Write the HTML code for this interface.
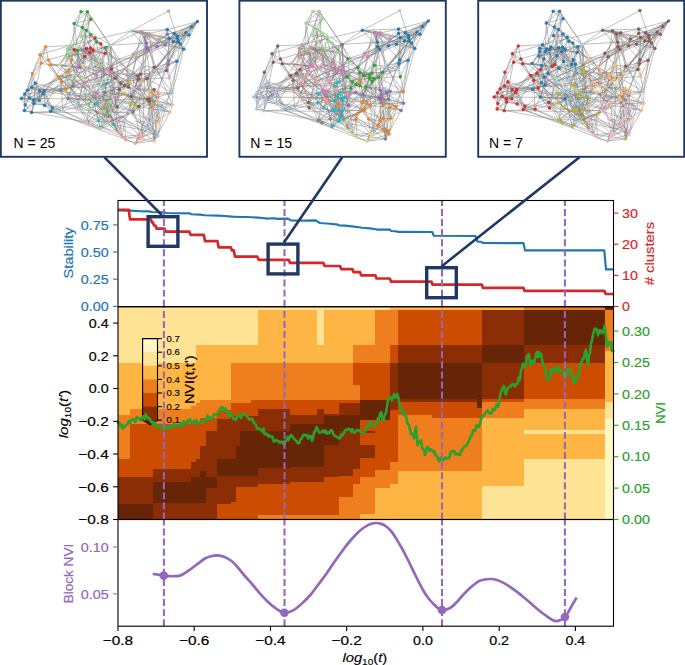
<!DOCTYPE html>
<html><head><meta charset="utf-8"><title>Figure</title>
<style>html,body{margin:0;padding:0;background:#fff;}body{width:685px;height:665px;overflow:hidden;font-family:"Liberation Sans", sans-serif;}svg{display:block}</style>
</head><body>
<svg width="685" height="665" viewBox="0 0 685 665" font-family='"Liberation Sans", sans-serif'>
<rect width="685" height="665" fill="#fff"/>
<g shape-rendering="crispEdges">
<rect x="117.7" y="306.4" width="12.6" height="57.5" fill="#fee395"/>
<rect x="117.7" y="363.3" width="12.6" height="52.6" fill="#feb543"/>
<rect x="117.7" y="415.3" width="12.6" height="44.2" fill="#ef7f1e"/>
<rect x="117.7" y="458.9" width="12.6" height="18.4" fill="#cc4c02"/>
<rect x="117.7" y="476.7" width="12.6" height="28.3" fill="#8b2e05"/>
<rect x="117.7" y="504.4" width="12.6" height="15.4" fill="#662506"/>
<rect x="129.7" y="306.4" width="23.9" height="57.5" fill="#fee395"/>
<rect x="129.7" y="363.3" width="23.9" height="46.0" fill="#feb543"/>
<rect x="129.7" y="408.7" width="23.9" height="15.6" fill="#ef7f1e"/>
<rect x="129.7" y="423.7" width="23.9" height="53.6" fill="#cc4c02"/>
<rect x="129.7" y="476.7" width="23.9" height="28.3" fill="#8b2e05"/>
<rect x="129.7" y="504.4" width="23.9" height="15.4" fill="#662506"/>
<rect x="153.0" y="306.4" width="39.0" height="57.5" fill="#fee395"/>
<rect x="153.0" y="363.3" width="39.0" height="46.0" fill="#feb543"/>
<rect x="153.0" y="408.7" width="39.0" height="15.6" fill="#ef7f1e"/>
<rect x="153.0" y="423.7" width="39.0" height="45.6" fill="#cc4c02"/>
<rect x="153.0" y="468.7" width="39.0" height="14.1" fill="#8b2e05"/>
<rect x="153.0" y="482.2" width="39.0" height="21.4" fill="#662506"/>
<rect x="153.0" y="503.0" width="39.0" height="16.8" fill="#8b2e05"/>
<rect x="191.4" y="306.4" width="4.7" height="57.5" fill="#fee395"/>
<rect x="191.4" y="363.3" width="4.7" height="43.0" fill="#feb543"/>
<rect x="191.4" y="405.7" width="4.7" height="18.6" fill="#ef7f1e"/>
<rect x="191.4" y="423.7" width="4.7" height="39.1" fill="#cc4c02"/>
<rect x="191.4" y="462.2" width="4.7" height="15.6" fill="#8b2e05"/>
<rect x="191.4" y="477.2" width="4.7" height="26.4" fill="#662506"/>
<rect x="191.4" y="503.0" width="4.7" height="16.8" fill="#8b2e05"/>
<rect x="195.5" y="306.4" width="4.8" height="39.5" fill="#fee395"/>
<rect x="195.5" y="345.3" width="4.8" height="58.0" fill="#feb543"/>
<rect x="195.5" y="402.7" width="4.8" height="20.6" fill="#ef7f1e"/>
<rect x="195.5" y="422.7" width="4.8" height="36.8" fill="#cc4c02"/>
<rect x="195.5" y="458.9" width="4.8" height="18.9" fill="#8b2e05"/>
<rect x="195.5" y="477.2" width="4.8" height="26.4" fill="#662506"/>
<rect x="195.5" y="503.0" width="4.8" height="16.8" fill="#8b2e05"/>
<rect x="199.7" y="306.4" width="6.4" height="39.5" fill="#fee395"/>
<rect x="199.7" y="345.3" width="6.4" height="55.0" fill="#feb543"/>
<rect x="199.7" y="399.7" width="6.4" height="18.6" fill="#ef7f1e"/>
<rect x="199.7" y="417.7" width="6.4" height="29.3" fill="#cc4c02"/>
<rect x="199.7" y="446.4" width="6.4" height="24.7" fill="#8b2e05"/>
<rect x="199.7" y="470.5" width="6.4" height="33.1" fill="#662506"/>
<rect x="199.7" y="503.0" width="6.4" height="16.8" fill="#8b2e05"/>
<rect x="205.5" y="306.4" width="12.3" height="39.5" fill="#fee395"/>
<rect x="205.5" y="345.3" width="12.3" height="55.0" fill="#feb543"/>
<rect x="205.5" y="399.7" width="12.3" height="18.6" fill="#ef7f1e"/>
<rect x="205.5" y="417.7" width="12.3" height="14.1" fill="#cc4c02"/>
<rect x="205.5" y="431.2" width="12.3" height="46.1" fill="#8b2e05"/>
<rect x="205.5" y="476.7" width="12.3" height="11.9" fill="#662506"/>
<rect x="205.5" y="488.0" width="12.3" height="31.8" fill="#8b2e05"/>
<rect x="217.2" y="306.4" width="14.4" height="39.5" fill="#fee395"/>
<rect x="217.2" y="345.3" width="14.4" height="55.0" fill="#feb543"/>
<rect x="217.2" y="399.7" width="14.4" height="10.6" fill="#ef7f1e"/>
<rect x="217.2" y="409.7" width="14.4" height="9.8" fill="#cc4c02"/>
<rect x="217.2" y="418.9" width="14.4" height="40.9" fill="#8b2e05"/>
<rect x="217.2" y="459.2" width="14.4" height="17.8" fill="#662506"/>
<rect x="217.2" y="476.4" width="14.4" height="28.6" fill="#8b2e05"/>
<rect x="217.2" y="504.4" width="14.4" height="15.4" fill="#cc4c02"/>
<rect x="231.0" y="306.4" width="5.1" height="39.5" fill="#fee395"/>
<rect x="231.0" y="345.3" width="5.1" height="18.6" fill="#feb543"/>
<rect x="231.0" y="363.3" width="5.1" height="40.3" fill="#ef7f1e"/>
<rect x="231.0" y="403.0" width="5.1" height="13.1" fill="#cc4c02"/>
<rect x="231.0" y="415.5" width="5.1" height="44.0" fill="#8b2e05"/>
<rect x="231.0" y="458.9" width="5.1" height="18.1" fill="#662506"/>
<rect x="231.0" y="476.4" width="5.1" height="25.9" fill="#8b2e05"/>
<rect x="231.0" y="501.7" width="5.1" height="18.1" fill="#cc4c02"/>
<rect x="235.5" y="306.4" width="4.8" height="39.5" fill="#fee395"/>
<rect x="235.5" y="345.3" width="4.8" height="18.6" fill="#feb543"/>
<rect x="235.5" y="363.3" width="4.8" height="40.3" fill="#ef7f1e"/>
<rect x="235.5" y="403.0" width="4.8" height="13.1" fill="#cc4c02"/>
<rect x="235.5" y="415.5" width="4.8" height="30.6" fill="#8b2e05"/>
<rect x="235.5" y="445.5" width="4.8" height="31.5" fill="#662506"/>
<rect x="235.5" y="476.4" width="4.8" height="10.9" fill="#8b2e05"/>
<rect x="235.5" y="486.7" width="4.8" height="33.1" fill="#cc4c02"/>
<rect x="239.7" y="306.4" width="11.4" height="39.5" fill="#fee395"/>
<rect x="239.7" y="345.3" width="11.4" height="18.6" fill="#feb543"/>
<rect x="239.7" y="363.3" width="11.4" height="40.3" fill="#ef7f1e"/>
<rect x="239.7" y="403.0" width="11.4" height="13.1" fill="#cc4c02"/>
<rect x="239.7" y="415.5" width="11.4" height="15.6" fill="#8b2e05"/>
<rect x="239.7" y="430.5" width="11.4" height="46.5" fill="#662506"/>
<rect x="239.7" y="476.4" width="11.4" height="10.9" fill="#8b2e05"/>
<rect x="239.7" y="486.7" width="11.4" height="33.1" fill="#cc4c02"/>
<rect x="250.5" y="306.4" width="8.4" height="39.5" fill="#fee395"/>
<rect x="250.5" y="345.3" width="8.4" height="18.6" fill="#feb543"/>
<rect x="250.5" y="363.3" width="8.4" height="37.0" fill="#ef7f1e"/>
<rect x="250.5" y="399.7" width="8.4" height="16.4" fill="#cc4c02"/>
<rect x="250.5" y="415.5" width="8.4" height="15.6" fill="#8b2e05"/>
<rect x="250.5" y="430.5" width="8.4" height="46.5" fill="#662506"/>
<rect x="250.5" y="476.4" width="8.4" height="10.9" fill="#8b2e05"/>
<rect x="250.5" y="486.7" width="8.4" height="33.1" fill="#cc4c02"/>
<rect x="258.3" y="306.4" width="32.0" height="4.1" fill="#fee395"/>
<rect x="258.3" y="309.9" width="32.0" height="54.0" fill="#feb543"/>
<rect x="258.3" y="363.3" width="32.0" height="37.0" fill="#ef7f1e"/>
<rect x="258.3" y="399.7" width="32.0" height="9.8" fill="#cc4c02"/>
<rect x="258.3" y="408.9" width="32.0" height="22.2" fill="#8b2e05"/>
<rect x="258.3" y="430.5" width="32.0" height="38.3" fill="#662506"/>
<rect x="258.3" y="468.2" width="32.0" height="16.1" fill="#8b2e05"/>
<rect x="258.3" y="483.7" width="32.0" height="31.6" fill="#cc4c02"/>
<rect x="258.3" y="514.7" width="32.0" height="5.1" fill="#ef7f1e"/>
<rect x="289.7" y="306.4" width="28.1" height="4.1" fill="#fee395"/>
<rect x="289.7" y="309.9" width="28.1" height="54.0" fill="#feb543"/>
<rect x="289.7" y="363.3" width="28.1" height="37.0" fill="#ef7f1e"/>
<rect x="289.7" y="399.7" width="28.1" height="16.1" fill="#cc4c02"/>
<rect x="289.7" y="415.2" width="28.1" height="9.6" fill="#8b2e05"/>
<rect x="289.7" y="424.2" width="28.1" height="43.6" fill="#662506"/>
<rect x="289.7" y="467.2" width="28.1" height="14.9" fill="#8b2e05"/>
<rect x="289.7" y="481.5" width="28.1" height="33.8" fill="#cc4c02"/>
<rect x="289.7" y="514.7" width="28.1" height="5.1" fill="#ef7f1e"/>
<rect x="317.2" y="306.4" width="7.7" height="38.9" fill="#fee395"/>
<rect x="317.2" y="344.7" width="7.7" height="19.2" fill="#feb543"/>
<rect x="317.2" y="363.3" width="7.7" height="37.0" fill="#ef7f1e"/>
<rect x="317.2" y="399.7" width="7.7" height="10.1" fill="#cc4c02"/>
<rect x="317.2" y="409.2" width="7.7" height="15.6" fill="#8b2e05"/>
<rect x="317.2" y="424.2" width="7.7" height="43.6" fill="#662506"/>
<rect x="317.2" y="467.2" width="7.7" height="14.9" fill="#8b2e05"/>
<rect x="317.2" y="481.5" width="7.7" height="33.8" fill="#cc4c02"/>
<rect x="317.2" y="514.7" width="7.7" height="5.1" fill="#ef7f1e"/>
<rect x="324.3" y="306.4" width="15.5" height="4.1" fill="#fee395"/>
<rect x="324.3" y="309.9" width="15.5" height="54.0" fill="#feb543"/>
<rect x="324.3" y="363.3" width="15.5" height="37.0" fill="#ef7f1e"/>
<rect x="324.3" y="399.7" width="15.5" height="15.1" fill="#cc4c02"/>
<rect x="324.3" y="414.2" width="15.5" height="2.1" fill="#8b2e05"/>
<rect x="324.3" y="415.7" width="15.5" height="30.2" fill="#662506"/>
<rect x="324.3" y="445.3" width="15.5" height="32.2" fill="#8b2e05"/>
<rect x="324.3" y="476.9" width="15.5" height="38.4" fill="#cc4c02"/>
<rect x="324.3" y="514.7" width="15.5" height="5.1" fill="#ef7f1e"/>
<rect x="339.2" y="306.4" width="14.4" height="4.1" fill="#fee395"/>
<rect x="339.2" y="309.9" width="14.4" height="54.0" fill="#feb543"/>
<rect x="339.2" y="363.3" width="14.4" height="36.8" fill="#ef7f1e"/>
<rect x="339.2" y="399.5" width="14.4" height="4.0" fill="#cc4c02"/>
<rect x="339.2" y="402.9" width="14.4" height="13.0" fill="#8b2e05"/>
<rect x="339.2" y="415.3" width="14.4" height="16.4" fill="#662506"/>
<rect x="339.2" y="431.1" width="14.4" height="45.2" fill="#8b2e05"/>
<rect x="339.2" y="475.7" width="14.4" height="21.6" fill="#cc4c02"/>
<rect x="339.2" y="496.7" width="14.4" height="23.1" fill="#ef7f1e"/>
<rect x="353.0" y="306.4" width="7.9" height="4.1" fill="#fee395"/>
<rect x="353.0" y="309.9" width="7.9" height="36.0" fill="#feb543"/>
<rect x="353.0" y="345.3" width="7.9" height="18.6" fill="#ef7f1e"/>
<rect x="353.0" y="363.3" width="7.9" height="22.0" fill="#cc4c02"/>
<rect x="353.0" y="384.7" width="7.9" height="15.4" fill="#ef7f1e"/>
<rect x="353.0" y="399.5" width="7.9" height="4.0" fill="#cc4c02"/>
<rect x="353.0" y="402.9" width="7.9" height="13.0" fill="#8b2e05"/>
<rect x="353.0" y="415.3" width="7.9" height="16.4" fill="#662506"/>
<rect x="353.0" y="431.1" width="7.9" height="38.2" fill="#8b2e05"/>
<rect x="353.0" y="468.7" width="7.9" height="16.3" fill="#cc4c02"/>
<rect x="353.0" y="484.4" width="7.9" height="35.4" fill="#ef7f1e"/>
<rect x="360.3" y="306.4" width="15.6" height="4.1" fill="#fee395"/>
<rect x="360.3" y="309.9" width="15.6" height="36.0" fill="#feb543"/>
<rect x="360.3" y="345.3" width="15.6" height="18.6" fill="#ef7f1e"/>
<rect x="360.3" y="363.3" width="15.6" height="36.8" fill="#cc4c02"/>
<rect x="360.3" y="399.5" width="15.6" height="20.8" fill="#662506"/>
<rect x="360.3" y="419.7" width="15.6" height="12.0" fill="#cc4c02"/>
<rect x="360.3" y="431.1" width="15.6" height="2.8" fill="#8b2e05"/>
<rect x="360.3" y="433.3" width="15.6" height="12.6" fill="#cc4c02"/>
<rect x="360.3" y="445.3" width="15.6" height="13.4" fill="#8b2e05"/>
<rect x="360.3" y="458.1" width="15.6" height="19.4" fill="#cc4c02"/>
<rect x="360.3" y="476.9" width="15.6" height="38.1" fill="#ef7f1e"/>
<rect x="360.3" y="514.4" width="15.6" height="5.4" fill="#feb543"/>
<rect x="375.3" y="306.4" width="15.6" height="4.1" fill="#fee395"/>
<rect x="375.3" y="309.9" width="15.6" height="54.0" fill="#ef7f1e"/>
<rect x="375.3" y="363.3" width="15.6" height="36.8" fill="#cc4c02"/>
<rect x="375.3" y="399.5" width="15.6" height="20.8" fill="#662506"/>
<rect x="375.3" y="419.7" width="15.6" height="51.1" fill="#cc4c02"/>
<rect x="375.3" y="470.2" width="15.6" height="18.3" fill="#ef7f1e"/>
<rect x="375.3" y="487.9" width="15.6" height="31.9" fill="#feb543"/>
<rect x="390.3" y="306.4" width="8.0" height="4.1" fill="#feb543"/>
<rect x="390.3" y="309.9" width="8.0" height="36.0" fill="#ef7f1e"/>
<rect x="390.3" y="345.3" width="8.0" height="18.6" fill="#cc4c02"/>
<rect x="390.3" y="363.3" width="8.0" height="47.0" fill="#8b2e05"/>
<rect x="390.3" y="409.7" width="8.0" height="52.8" fill="#cc4c02"/>
<rect x="390.3" y="461.9" width="8.0" height="23.1" fill="#ef7f1e"/>
<rect x="390.3" y="484.4" width="8.0" height="35.4" fill="#feb543"/>
<rect x="397.7" y="306.4" width="35.1" height="4.1" fill="#feb543"/>
<rect x="397.7" y="309.9" width="35.1" height="36.0" fill="#cc4c02"/>
<rect x="397.7" y="345.3" width="35.1" height="18.6" fill="#8b2e05"/>
<rect x="397.7" y="363.3" width="35.1" height="36.4" fill="#662506"/>
<rect x="397.7" y="399.1" width="35.1" height="3.2" fill="#8b2e05"/>
<rect x="397.7" y="401.7" width="35.1" height="14.2" fill="#cc4c02"/>
<rect x="397.7" y="415.3" width="35.1" height="56.2" fill="#ef7f1e"/>
<rect x="397.7" y="470.9" width="35.1" height="48.9" fill="#feb543"/>
<rect x="432.2" y="306.4" width="50.5" height="4.1" fill="#feb543"/>
<rect x="432.2" y="309.9" width="50.5" height="36.0" fill="#cc4c02"/>
<rect x="432.2" y="345.3" width="50.5" height="18.6" fill="#8b2e05"/>
<rect x="432.2" y="363.3" width="50.5" height="36.4" fill="#662506"/>
<rect x="432.2" y="399.1" width="50.5" height="3.2" fill="#8b2e05"/>
<rect x="432.2" y="401.7" width="50.5" height="16.6" fill="#cc4c02"/>
<rect x="432.2" y="417.7" width="50.5" height="53.8" fill="#ef7f1e"/>
<rect x="432.2" y="470.9" width="50.5" height="48.9" fill="#feb543"/>
<rect x="482.1" y="306.4" width="42.2" height="4.1" fill="#feb543"/>
<rect x="482.1" y="309.9" width="42.2" height="35.4" fill="#8b2e05"/>
<rect x="482.1" y="344.7" width="42.2" height="19.2" fill="#662506"/>
<rect x="482.1" y="363.3" width="42.2" height="36.4" fill="#8b2e05"/>
<rect x="482.1" y="399.1" width="42.2" height="3.2" fill="#cc4c02"/>
<rect x="482.1" y="401.7" width="42.2" height="16.6" fill="#ef7f1e"/>
<rect x="482.1" y="417.7" width="42.2" height="68.6" fill="#feb543"/>
<rect x="482.1" y="485.7" width="42.2" height="34.1" fill="#fee395"/>
<rect x="523.7" y="306.4" width="81.6" height="4.1" fill="#ef7f1e"/>
<rect x="523.7" y="309.9" width="81.6" height="35.4" fill="#662506"/>
<rect x="523.7" y="344.7" width="81.6" height="19.2" fill="#8b2e05"/>
<rect x="523.7" y="363.3" width="81.6" height="36.4" fill="#cc4c02"/>
<rect x="523.7" y="399.1" width="81.6" height="10.2" fill="#ef7f1e"/>
<rect x="523.7" y="408.7" width="81.6" height="22.2" fill="#feb543"/>
<rect x="523.7" y="430.3" width="81.6" height="4.0" fill="#fee395"/>
<rect x="523.7" y="433.7" width="81.6" height="25.6" fill="#feb543"/>
<rect x="523.7" y="458.7" width="81.6" height="61.1" fill="#fee395"/>
<rect x="604.7" y="306.4" width="9.2" height="4.1" fill="#662506"/>
<rect x="604.7" y="309.9" width="9.2" height="41.4" fill="#ef7f1e"/>
<rect x="604.7" y="350.7" width="9.2" height="52.0" fill="#feb543"/>
<rect x="604.7" y="402.1" width="9.2" height="17.2" fill="#fee395"/>
<rect x="604.7" y="418.7" width="9.2" height="101.1" fill="#fff7c4"/>
<rect x="477" y="399.4" width="5.399999999999977" height="8.600000000000023" fill="#662506"/>
</g>
<rect x="142.6" y="338.6" width="14.9" height="13.9" fill="#fff7c4"/>
<rect x="142.6" y="352.2" width="14.9" height="13.9" fill="#fee395"/>
<rect x="142.6" y="365.8" width="14.9" height="13.9" fill="#feb543"/>
<rect x="142.6" y="379.4" width="14.9" height="13.9" fill="#ef7f1e"/>
<rect x="142.6" y="393.0" width="14.9" height="13.9" fill="#cc4c02"/>
<rect x="142.6" y="406.6" width="14.9" height="13.9" fill="#8b2e05"/>
<path d="M142.6,420.2 L150.1,424.6 L157.5,420.2 Z" fill="#662506"/>
<path d="M142.6,338.6 L157.5,338.6 L157.5,420.2 L150.1,424.6 L142.6,420.2 Z" fill="none" stroke="#000" stroke-width="1.1"/>
<line x1="157.5" y1="420.2" x2="161.9" y2="420.2" stroke="#000" stroke-width="1.1"/>
<text x="166.60" y="423.30" font-size="8.58" fill="#000" stroke="#000" stroke-width="0.13" text-anchor="start" textLength="13.25" lengthAdjust="spacingAndGlyphs" >0.1</text>
<line x1="157.5" y1="406.6" x2="161.9" y2="406.6" stroke="#000" stroke-width="1.1"/>
<text x="166.60" y="409.70" font-size="8.58" fill="#000" stroke="#000" stroke-width="0.13" text-anchor="start" textLength="13.25" lengthAdjust="spacingAndGlyphs" >0.2</text>
<line x1="157.5" y1="393.0" x2="161.9" y2="393.0" stroke="#000" stroke-width="1.1"/>
<text x="166.60" y="396.10" font-size="8.58" fill="#000" stroke="#000" stroke-width="0.13" text-anchor="start" textLength="13.25" lengthAdjust="spacingAndGlyphs" >0.3</text>
<line x1="157.5" y1="379.4" x2="161.9" y2="379.4" stroke="#000" stroke-width="1.1"/>
<text x="166.60" y="382.50" font-size="8.58" fill="#000" stroke="#000" stroke-width="0.13" text-anchor="start" textLength="13.25" lengthAdjust="spacingAndGlyphs" >0.4</text>
<line x1="157.5" y1="365.8" x2="161.9" y2="365.8" stroke="#000" stroke-width="1.1"/>
<text x="166.60" y="368.90" font-size="8.58" fill="#000" stroke="#000" stroke-width="0.13" text-anchor="start" textLength="13.25" lengthAdjust="spacingAndGlyphs" >0.5</text>
<line x1="157.5" y1="352.2" x2="161.9" y2="352.2" stroke="#000" stroke-width="1.1"/>
<text x="166.60" y="355.30" font-size="8.58" fill="#000" stroke="#000" stroke-width="0.13" text-anchor="start" textLength="13.25" lengthAdjust="spacingAndGlyphs" >0.6</text>
<line x1="157.5" y1="338.6" x2="161.9" y2="338.6" stroke="#000" stroke-width="1.1"/>
<text x="166.60" y="341.70" font-size="8.58" fill="#000" stroke="#000" stroke-width="0.13" text-anchor="start" textLength="13.25" lengthAdjust="spacingAndGlyphs" >0.7</text>
<text x="194.40" y="379.80" font-size="12.88" fill="#000" stroke="#000" stroke-width="0.20" text-anchor="middle" textLength="48.55" lengthAdjust="spacingAndGlyphs" transform="rotate(-90 194.40 379.80)" >NVI(t,t')</text>
<path d="M118.0,422.6 L119.2,422.4 L120.5,426.3 L121.8,424.7 L123.0,428.7 L124.5,426.5 L126.0,425.1 L127.3,425.0 L128.7,421.2 L130.0,422.9 L131.3,419.8 L132.7,419.2 L134.0,420.8 L135.3,422.2 L136.7,417.1 L138.0,418.0 L139.2,418.9 L140.5,420.3 L141.8,417.6 L143.0,416.4 L144.3,419.6 L145.7,414.1 L147.0,417.7 L148.3,417.6 L149.7,418.6 L151.0,421.8 L152.2,422.0 L153.3,425.6 L154.5,422.4 L155.7,425.4 L156.8,426.3 L158.0,425.7 L159.2,427.1 L160.4,425.0 L161.6,425.8 L162.8,427.4 L164.0,430.4 L165.2,428.8 L166.4,427.3 L167.6,428.1 L168.8,426.5 L170.0,425.6 L171.3,427.6 L172.7,426.9 L174.0,424.0 L175.3,425.8 L176.7,425.3 L178.0,425.8 L179.3,426.0 L180.7,423.1 L182.0,426.9 L183.3,421.4 L184.7,422.8 L186.0,423.5 L187.3,420.6 L188.7,422.3 L190.0,419.2 L191.3,422.7 L192.7,422.9 L194.0,421.1 L195.2,423.5 L196.4,420.3 L197.6,422.8 L198.8,422.4 L200.0,422.2 L201.2,421.1 L202.5,422.8 L203.8,422.8 L205.0,419.3 L206.2,419.9 L207.5,415.6 L208.8,418.8 L210.0,417.3 L211.3,419.5 L212.7,417.9 L214.0,414.2 L215.3,414.3 L216.7,415.5 L218.0,413.0 L219.1,412.3 L220.2,409.0 L221.3,407.2 L222.4,407.1 L223.8,410.9 L225.2,408.3 L226.6,410.2 L228.0,412.8 L229.2,416.1 L230.3,412.2 L231.5,415.2 L232.7,416.6 L233.8,419.5 L235.0,418.6 L236.2,419.7 L237.3,415.7 L238.5,416.0 L239.7,415.2 L240.8,417.8 L242.0,415.9 L243.2,413.4 L244.5,414.1 L245.8,414.9 L247.0,416.5 L248.3,418.1 L249.7,419.9 L251.0,419.1 L252.3,418.7 L253.7,422.3 L255.0,423.7 L256.2,425.6 L257.4,429.1 L258.6,428.7 L259.8,428.9 L261.0,430.2 L262.2,431.7 L263.4,428.5 L264.6,434.2 L265.8,434.1 L267.0,433.7 L268.3,436.3 L269.7,435.4 L271.0,436.9 L272.3,436.6 L273.7,441.3 L275.0,441.1 L276.3,439.9 L277.6,441.2 L278.9,441.4 L280.1,443.0 L281.4,441.7 L282.7,441.9 L284.0,444.7 L285.2,441.1 L286.4,440.8 L287.6,436.9 L288.8,440.1 L290.0,436.2 L291.3,435.1 L292.7,436.9 L294.0,438.7 L295.4,440.0 L296.7,441.2 L297.9,443.3 L299.2,443.3 L300.4,439.4 L301.7,438.7 L302.9,435.5 L304.2,434.7 L305.4,435.4 L306.7,435.0 L308.0,438.6 L309.4,435.7 L310.7,436.0 L312.0,440.9 L313.1,437.2 L314.2,431.9 L315.4,431.3 L316.5,427.1 L317.8,428.9 L319.0,432.4 L320.2,432.5 L321.5,432.2 L322.8,430.4 L324.0,432.3 L325.3,430.3 L326.7,433.7 L328.0,432.0 L329.3,433.2 L330.7,430.2 L332.0,430.4 L333.3,434.0 L334.7,436.1 L336.0,436.4 L337.3,437.2 L338.7,438.3 L340.0,438.0 L341.2,434.8 L342.5,435.5 L343.8,433.4 L345.0,430.4 L346.2,429.4 L347.5,429.8 L348.8,428.6 L350.0,429.4 L351.2,431.9 L352.4,429.1 L353.6,432.2 L354.8,432.7 L356.0,430.9 L357.1,430.0 L358.3,429.9 L359.4,430.8 L360.6,431.4 L361.7,433.4 L363.0,432.8 L364.2,432.6 L365.5,430.3 L366.7,426.3 L368.0,424.8 L369.2,426.1 L370.5,421.7 L371.7,424.9 L373.0,426.3 L374.2,425.3 L375.5,425.0 L376.7,423.3 L377.9,418.4 L379.0,419.1 L380.1,413.4 L381.3,412.1 L382.4,419.1 L383.5,420.8 L384.6,415.4 L385.8,413.7 L386.9,407.3 L388.0,400.3 L389.2,397.8 L390.5,396.9 L391.8,400.4 L393.0,397.6 L394.1,394.1 L395.2,397.4 L396.3,397.5 L397.4,394.1 L398.6,398.6 L399.8,405.6 L401.0,410.3 L402.3,408.8 L403.7,415.2 L405.0,413.3 L406.2,417.2 L407.5,423.6 L408.8,424.6 L410.0,429.7 L411.3,434.3 L412.7,433.9 L414.0,438.5 L415.0,431.8 L416.0,426.5 L417.5,445.2 L418.7,442.2 L419.8,441.8 L421.0,440.3 L422.3,448.1 L423.7,449.5 L425.0,454.9 L426.0,451.5 L427.0,447.8 L428.2,447.3 L429.5,451.0 L430.8,449.3 L432.0,450.1 L433.2,452.1 L434.4,451.1 L435.6,455.6 L436.8,456.1 L438.0,459.0 L439.3,461.5 L440.7,457.4 L442.0,458.9 L443.2,460.2 L444.4,458.9 L445.6,457.4 L446.8,458.3 L448.0,458.1 L449.3,457.7 L450.7,451.6 L452.0,452.1 L453.2,450.8 L454.3,451.3 L455.5,454.6 L456.7,453.4 L457.8,454.0 L459.0,454.5 L460.2,454.7 L461.5,450.2 L462.8,449.4 L464.0,447.0 L465.3,445.7 L466.7,445.5 L468.0,442.9 L469.2,439.9 L470.5,436.4 L471.8,435.9 L473.0,430.4 L474.2,431.1 L475.3,430.3 L476.5,425.1 L477.7,425.7 L478.8,426.8 L480.0,423.7 L481.2,418.6 L482.5,416.2 L483.8,415.9 L485.0,413.1 L486.3,411.9 L487.6,410.3 L488.9,413.3 L490.1,413.4 L491.4,413.5 L492.7,408.5 L494.0,410.4 L495.2,409.2 L496.5,404.4 L497.8,407.0 L499.0,403.9 L500.0,395.3 L501.0,391.9 L502.5,387.9 L504.0,386.0 L505.0,392.9 L506.0,394.7 L507.5,388.5 L509.0,386.9 L510.2,386.8 L511.3,385.4 L512.5,384.2 L513.7,384.6 L514.8,386.7 L516.0,384.0 L517.0,384.2 L518.0,382.0 L519.0,377.1 L520.0,379.7 L521.0,370.2 L522.0,368.8 L523.0,363.6 L524.0,367.0 L525.0,366.3 L526.0,365.7 L527.0,356.0 L528.0,355.2 L529.0,354.1 L529.8,362.9 L530.5,365.5 L531.6,360.8 L532.8,361.3 L533.9,363.5 L535.0,358.6 L536.0,354.4 L537.0,352.0 L538.0,357.1 L539.0,352.1 L540.0,356.4 L541.0,353.8 L542.0,359.1 L543.0,365.1 L544.0,366.4 L545.0,366.8 L546.0,374.9 L547.0,377.2 L548.0,380.6 L549.0,379.2 L550.0,378.1 L551.0,369.1 L552.0,373.0 L553.0,369.3 L554.0,368.1 L555.0,369.8 L556.0,372.8 L557.0,368.5 L558.0,366.6 L559.0,370.7 L560.0,369.0 L561.0,371.2 L562.0,370.8 L563.0,371.6 L564.0,374.7 L565.0,378.6 L566.0,374.6 L567.0,375.7 L568.0,368.9 L569.0,368.0 L570.1,369.0 L571.2,374.2 L572.3,375.1 L573.4,382.5 L574.3,377.8 L575.2,383.0 L576.1,380.4 L577.0,378.4 L578.0,375.0 L579.0,375.2 L580.0,364.4 L581.0,364.6 L582.0,360.6 L583.0,358.4 L584.0,358.5 L585.0,351.9 L586.0,350.0 L587.0,358.6 L588.0,365.0 L589.0,355.6 L590.0,352.9 L591.0,343.4 L591.9,340.9 L592.8,335.7 L593.7,331.9 L594.6,329.1 L595.7,328.5 L596.9,329.6 L598.0,335.5 L599.0,331.9 L600.0,330.1 L601.0,331.2 L601.9,333.4 L602.8,332.2 L603.7,329.0 L604.6,325.6 L605.8,334.3 L607.0,346.6 L608.0,345.7 L609.0,342.1 L610.0,343.5 L611.0,342.5 L612.1,351.0 L613.3,351.0" fill="none" stroke="#2ca02c" stroke-width="2.6" stroke-linejoin="round" stroke-linecap="round"/>
<path d="M118.0,210.3 L130.0,210.6 L140.0,211.2 L150.0,211.4 L151.5,212.0 L165.0,212.4 L166.0,213.0 L190.0,213.4 L191.0,214.2 L200.0,214.6 L205.0,215.2 L218.0,215.6 L225.0,216.0 L232.0,216.6 L240.0,217.0 L247.0,217.0 L258.0,217.6 L265.0,218.2 L266.0,218.6 L275.0,218.3 L277.0,218.9 L288.0,218.6 L290.0,219.8 L291.0,220.4 L305.0,220.6 L316.0,220.4 L318.0,222.0 L320.0,223.0 L330.0,223.8 L338.0,224.6 L339.0,225.4 L345.0,225.6 L352.0,226.4 L359.0,227.2 L362.0,227.8 L370.0,228.4 L376.0,229.2 L377.0,229.6 L390.0,229.6 L391.0,231.0 L396.0,231.2 L397.5,231.9 L432.3,232.0 L433.8,235.8 L475.5,236.0 L477.5,241.6 L481.0,241.8 L483.0,243.0 L523.5,243.1 L525.0,250.4 L604.3,250.4 L606.0,269.4 L613.5,269.4" fill="none" stroke="#1f77b4" stroke-width="2.15" stroke-linejoin="round"/>
<path d="M118.0,209.9 L128.8,209.9 L130.0,219.3 L150.8,219.3 L152.0,222.4 L152.9,222.4 L154.1,225.5 L155.4,225.5 L156.6,228.6 L164.4,228.6 L165.6,231.7 L189.4,231.7 L190.6,234.9 L203.8,234.9 L205.0,241.1 L217.4,241.1 L218.6,247.3 L230.8,247.3 L232.0,250.4 L233.8,250.4 L235.0,256.7 L257.4,256.7 L258.6,259.8 L288.8,259.8 L290.0,262.9 L323.4,262.9 L324.6,266.0 L340.0,266.0 L341.2,269.1 L352.4,269.1 L353.6,272.2 L360.0,272.2 L361.2,275.4 L375.4,275.4 L376.6,278.5 L389.8,278.5 L391.0,281.6 L431.4,281.6 L432.6,284.7 L481.8,284.7 L483.0,287.8 L523.4,287.8 L524.6,290.9 L604.4,290.9 L605.6,294.0 L613.5,294.0" fill="none" stroke="#d62728" stroke-width="2.7" stroke-linejoin="round"/>
<path d="M152.7,574.0 C153.6,574.1 156.2,574.4 158.0,574.7 C159.8,575.0 161.8,575.4 163.8,575.6 C165.8,575.9 168.1,576.1 170.0,576.2 C171.9,576.3 173.5,576.2 175.0,576.2 C176.5,576.2 177.8,576.1 179.0,575.9 C180.2,575.7 180.2,575.8 182.0,574.8 C183.8,573.8 187.3,571.5 190.0,569.6 C192.7,567.7 195.5,565.5 198.0,563.6 C200.5,561.8 202.7,559.8 205.0,558.5 C207.3,557.2 209.9,556.5 212.0,556.0 C214.1,555.5 215.6,555.3 217.6,555.4 C219.6,555.5 221.7,555.9 224.0,556.8 C226.3,557.7 229.4,559.4 231.6,561.0 C233.8,562.6 234.9,564.2 237.0,566.5 C239.1,568.8 241.5,572.1 244.0,575.0 C246.5,577.9 249.3,580.9 252.0,584.0 C254.7,587.1 257.5,590.8 260.0,593.6 C262.5,596.4 264.8,598.9 267.0,601.0 C269.2,603.1 271.0,604.7 273.0,606.3 C275.0,607.9 277.1,609.4 279.0,610.5 C280.9,611.6 282.6,612.5 284.4,612.7 C286.2,612.9 288.2,612.4 290.0,611.8 C291.8,611.2 293.2,610.5 295.4,609.0 C297.6,607.5 300.5,604.8 303.0,602.5 C305.5,600.2 307.9,597.9 310.4,595.0 C312.9,592.1 315.5,588.3 318.0,585.0 C320.5,581.7 322.8,578.8 325.5,575.0 C328.2,571.2 331.1,566.7 334.0,562.5 C336.9,558.3 340.3,553.6 343.0,550.0 C345.7,546.4 347.5,543.9 350.0,541.0 C352.5,538.1 355.7,534.8 358.0,532.5 C360.3,530.2 361.9,528.9 364.0,527.5 C366.1,526.1 368.3,524.8 370.5,524.0 C372.7,523.2 375.2,523.0 377.0,523.0 C378.8,523.0 379.6,523.3 381.0,523.8 C382.4,524.3 383.9,524.8 385.6,526.0 C387.3,527.2 389.3,529.1 391.0,531.0 C392.7,532.9 393.8,534.7 395.6,537.6 C397.4,540.5 399.9,544.8 402.0,548.5 C404.1,552.2 405.8,555.7 408.0,560.0 C410.2,564.3 412.5,569.5 415.0,574.5 C417.5,579.5 420.7,585.9 423.0,590.0 C425.3,594.1 426.9,596.3 429.0,599.0 C431.1,601.7 433.9,604.3 435.6,606.0 C437.3,607.7 437.9,608.3 439.0,609.0 C440.1,609.7 440.8,609.9 442.0,610.0 C443.2,610.1 444.6,610.0 446.0,609.6 C447.4,609.2 448.9,609.0 450.7,607.7 C452.5,606.4 454.9,604.1 457.0,602.0 C459.1,599.9 460.8,597.3 463.0,595.0 C465.2,592.7 467.5,590.2 470.0,588.0 C472.5,585.8 475.7,583.0 478.0,581.6 C480.3,580.2 481.9,580.0 484.0,579.6 C486.1,579.2 488.5,578.9 490.7,579.0 C492.9,579.1 494.9,579.4 497.0,580.0 C499.1,580.6 500.8,581.5 503.0,582.6 C505.2,583.7 507.5,585.1 510.0,586.8 C512.5,588.5 515.2,590.4 518.0,592.6 C520.8,594.8 524.0,597.5 527.0,600.0 C530.0,602.5 533.1,605.5 535.8,607.7 C538.5,610.0 540.5,611.6 543.0,613.5 C545.5,615.4 548.6,617.7 550.8,619.0 C553.0,620.3 554.3,621.0 556.0,621.2 C557.7,621.4 559.6,620.4 560.8,620.0 C562.0,619.6 562.3,619.1 563.0,618.6 C563.7,618.1 564.1,618.0 564.9,617.0 C565.7,616.0 567.0,614.2 568.0,612.6 C569.0,611.0 569.8,609.3 570.8,607.5 C571.8,605.7 573.0,603.6 574.0,602.0 C575.0,600.4 576.2,598.4 576.6,597.7" fill="none" stroke="#9467bd" stroke-width="2.7" stroke-linecap="butt"/>
<circle cx="163.8" cy="575.6" r="4.3" fill="#9467bd"/>
<circle cx="284.4" cy="612.7" r="4.3" fill="#9467bd"/>
<circle cx="442" cy="610" r="4.3" fill="#9467bd"/>
<circle cx="564.9" cy="617" r="4.3" fill="#9467bd"/>
<line x1="163.9" y1="306.7" x2="163.9" y2="200.5" stroke="#9467bd" stroke-width="2.05" stroke-dasharray="6.95 3.13"/>
<line x1="163.9" y1="519.5" x2="163.9" y2="306.7" stroke="#9467bd" stroke-width="2.05" stroke-dasharray="6.95 3.13"/>
<line x1="163.9" y1="626.2" x2="163.9" y2="519.5" stroke="#9467bd" stroke-width="2.05" stroke-dasharray="6.95 3.13"/>
<line x1="284.5" y1="306.7" x2="284.5" y2="200.5" stroke="#9467bd" stroke-width="2.05" stroke-dasharray="6.95 3.13"/>
<line x1="284.5" y1="519.5" x2="284.5" y2="306.7" stroke="#9467bd" stroke-width="2.05" stroke-dasharray="6.95 3.13"/>
<line x1="284.5" y1="626.2" x2="284.5" y2="519.5" stroke="#9467bd" stroke-width="2.05" stroke-dasharray="6.95 3.13"/>
<line x1="442.0" y1="306.7" x2="442.0" y2="200.5" stroke="#9467bd" stroke-width="2.05" stroke-dasharray="6.95 3.13"/>
<line x1="442.0" y1="519.5" x2="442.0" y2="306.7" stroke="#9467bd" stroke-width="2.05" stroke-dasharray="6.95 3.13"/>
<line x1="442.0" y1="626.2" x2="442.0" y2="519.5" stroke="#9467bd" stroke-width="2.05" stroke-dasharray="6.95 3.13"/>
<line x1="564.9" y1="306.7" x2="564.9" y2="200.5" stroke="#9467bd" stroke-width="2.05" stroke-dasharray="6.95 3.13"/>
<line x1="564.9" y1="519.5" x2="564.9" y2="306.7" stroke="#9467bd" stroke-width="2.05" stroke-dasharray="6.95 3.13"/>
<line x1="564.9" y1="626.2" x2="564.9" y2="519.5" stroke="#9467bd" stroke-width="2.05" stroke-dasharray="6.95 3.13"/>
<rect x="118.0" y="200.5" width="495.5" height="106.19999999999999" fill="none" stroke="#000" stroke-width="1.1"/>
<rect x="118.0" y="306.7" width="495.5" height="212.8" fill="none" stroke="#000" stroke-width="1.1"/>
<rect x="118.0" y="519.5" width="495.5" height="106.70000000000005" fill="none" stroke="#000" stroke-width="1.1"/>
<line x1="118.0" y1="306.4" x2="113.1" y2="306.4" stroke="#1f77b4" stroke-width="1.1"/>
<text x="108.70" y="311.15" font-size="12.88" fill="#1f77b4" stroke="#1f77b4" stroke-width="0.20" text-anchor="end" textLength="27.83" lengthAdjust="spacingAndGlyphs" >0.00</text>
<line x1="118.0" y1="279.2" x2="113.1" y2="279.2" stroke="#1f77b4" stroke-width="1.1"/>
<text x="108.70" y="283.97" font-size="12.88" fill="#1f77b4" stroke="#1f77b4" stroke-width="0.20" text-anchor="end" textLength="27.83" lengthAdjust="spacingAndGlyphs" >0.25</text>
<line x1="118.0" y1="252.0" x2="113.1" y2="252.0" stroke="#1f77b4" stroke-width="1.1"/>
<text x="108.70" y="256.80" font-size="12.88" fill="#1f77b4" stroke="#1f77b4" stroke-width="0.20" text-anchor="end" textLength="27.83" lengthAdjust="spacingAndGlyphs" >0.50</text>
<line x1="118.0" y1="224.9" x2="113.1" y2="224.9" stroke="#1f77b4" stroke-width="1.1"/>
<text x="108.70" y="229.62" font-size="12.88" fill="#1f77b4" stroke="#1f77b4" stroke-width="0.20" text-anchor="end" textLength="27.83" lengthAdjust="spacingAndGlyphs" >0.75</text>
<line x1="613.5" y1="306.5" x2="618.4" y2="306.5" stroke="#d62728" stroke-width="1.1"/>
<text x="622.10" y="311.25" font-size="12.88" fill="#d62728" stroke="#d62728" stroke-width="0.20" text-anchor="start" textLength="7.95" lengthAdjust="spacingAndGlyphs" >0</text>
<line x1="613.5" y1="275.4" x2="618.4" y2="275.4" stroke="#d62728" stroke-width="1.1"/>
<text x="622.10" y="280.10" font-size="12.88" fill="#d62728" stroke="#d62728" stroke-width="0.20" text-anchor="start" textLength="15.91" lengthAdjust="spacingAndGlyphs" >10</text>
<line x1="613.5" y1="244.2" x2="618.4" y2="244.2" stroke="#d62728" stroke-width="1.1"/>
<text x="622.10" y="248.95" font-size="12.88" fill="#d62728" stroke="#d62728" stroke-width="0.20" text-anchor="start" textLength="15.91" lengthAdjust="spacingAndGlyphs" >20</text>
<line x1="613.5" y1="213.1" x2="618.4" y2="213.1" stroke="#d62728" stroke-width="1.1"/>
<text x="622.10" y="217.80" font-size="12.88" fill="#d62728" stroke="#d62728" stroke-width="0.20" text-anchor="start" textLength="15.91" lengthAdjust="spacingAndGlyphs" >30</text>
<line x1="118.0" y1="323.1" x2="113.1" y2="323.1" stroke="#000" stroke-width="1.1"/>
<text x="108.70" y="327.82" font-size="12.88" fill="#000" stroke="#000" stroke-width="0.20" text-anchor="end" textLength="19.88" lengthAdjust="spacingAndGlyphs" >0.4</text>
<line x1="118.0" y1="355.8" x2="113.1" y2="355.8" stroke="#000" stroke-width="1.1"/>
<text x="108.70" y="360.56" font-size="12.88" fill="#000" stroke="#000" stroke-width="0.20" text-anchor="end" textLength="19.88" lengthAdjust="spacingAndGlyphs" >0.2</text>
<line x1="118.0" y1="388.5" x2="113.1" y2="388.5" stroke="#000" stroke-width="1.1"/>
<text x="108.70" y="393.30" font-size="12.88" fill="#000" stroke="#000" stroke-width="0.20" text-anchor="end" textLength="19.88" lengthAdjust="spacingAndGlyphs" >0.0</text>
<line x1="118.0" y1="421.3" x2="113.1" y2="421.3" stroke="#000" stroke-width="1.1"/>
<text x="108.70" y="426.03" font-size="12.88" fill="#000" stroke="#000" stroke-width="0.20" text-anchor="end" textLength="30.35" lengthAdjust="spacingAndGlyphs" >−0.2</text>
<line x1="118.0" y1="454.0" x2="113.1" y2="454.0" stroke="#000" stroke-width="1.1"/>
<text x="108.70" y="458.77" font-size="12.88" fill="#000" stroke="#000" stroke-width="0.20" text-anchor="end" textLength="30.35" lengthAdjust="spacingAndGlyphs" >−0.4</text>
<line x1="118.0" y1="486.8" x2="113.1" y2="486.8" stroke="#000" stroke-width="1.1"/>
<text x="108.70" y="491.51" font-size="12.88" fill="#000" stroke="#000" stroke-width="0.20" text-anchor="end" textLength="30.35" lengthAdjust="spacingAndGlyphs" >−0.6</text>
<line x1="118.0" y1="519.5" x2="113.1" y2="519.5" stroke="#000" stroke-width="1.1"/>
<text x="108.70" y="524.25" font-size="12.88" fill="#000" stroke="#000" stroke-width="0.20" text-anchor="end" textLength="30.35" lengthAdjust="spacingAndGlyphs" >−0.8</text>
<line x1="613.5" y1="519.5" x2="618.4" y2="519.5" stroke="#2ca02c" stroke-width="1.1"/>
<text x="622.10" y="524.25" font-size="12.88" fill="#2ca02c" stroke="#2ca02c" stroke-width="0.20" text-anchor="start" textLength="27.83" lengthAdjust="spacingAndGlyphs" >0.00</text>
<line x1="613.5" y1="488.1" x2="618.4" y2="488.1" stroke="#2ca02c" stroke-width="1.1"/>
<text x="622.10" y="492.85" font-size="12.88" fill="#2ca02c" stroke="#2ca02c" stroke-width="0.20" text-anchor="start" textLength="27.83" lengthAdjust="spacingAndGlyphs" >0.05</text>
<line x1="613.5" y1="456.7" x2="618.4" y2="456.7" stroke="#2ca02c" stroke-width="1.1"/>
<text x="622.10" y="461.45" font-size="12.88" fill="#2ca02c" stroke="#2ca02c" stroke-width="0.20" text-anchor="start" textLength="27.83" lengthAdjust="spacingAndGlyphs" >0.10</text>
<line x1="613.5" y1="425.3" x2="618.4" y2="425.3" stroke="#2ca02c" stroke-width="1.1"/>
<text x="622.10" y="430.05" font-size="12.88" fill="#2ca02c" stroke="#2ca02c" stroke-width="0.20" text-anchor="start" textLength="27.83" lengthAdjust="spacingAndGlyphs" >0.15</text>
<line x1="613.5" y1="393.9" x2="618.4" y2="393.9" stroke="#2ca02c" stroke-width="1.1"/>
<text x="622.10" y="398.65" font-size="12.88" fill="#2ca02c" stroke="#2ca02c" stroke-width="0.20" text-anchor="start" textLength="27.83" lengthAdjust="spacingAndGlyphs" >0.20</text>
<line x1="613.5" y1="362.5" x2="618.4" y2="362.5" stroke="#2ca02c" stroke-width="1.1"/>
<text x="622.10" y="367.25" font-size="12.88" fill="#2ca02c" stroke="#2ca02c" stroke-width="0.20" text-anchor="start" textLength="27.83" lengthAdjust="spacingAndGlyphs" >0.25</text>
<line x1="613.5" y1="331.1" x2="618.4" y2="331.1" stroke="#2ca02c" stroke-width="1.1"/>
<text x="622.10" y="335.85" font-size="12.88" fill="#2ca02c" stroke="#2ca02c" stroke-width="0.20" text-anchor="start" textLength="27.83" lengthAdjust="spacingAndGlyphs" >0.30</text>
<line x1="118.0" y1="593.9" x2="113.1" y2="593.9" stroke="#9467bd" stroke-width="1.1"/>
<text x="108.70" y="598.65" font-size="12.88" fill="#9467bd" stroke="#9467bd" stroke-width="0.20" text-anchor="end" textLength="27.83" lengthAdjust="spacingAndGlyphs" >0.05</text>
<line x1="118.0" y1="547.0" x2="113.1" y2="547.0" stroke="#9467bd" stroke-width="1.1"/>
<text x="108.70" y="551.75" font-size="12.88" fill="#9467bd" stroke="#9467bd" stroke-width="0.20" text-anchor="end" textLength="27.83" lengthAdjust="spacingAndGlyphs" >0.10</text>
<line x1="118.0" y1="626.2" x2="118.0" y2="631.1" stroke="#000" stroke-width="1.1"/>
<text x="118.00" y="644.80" font-size="12.88" fill="#000" stroke="#000" stroke-width="0.20" text-anchor="middle" textLength="30.35" lengthAdjust="spacingAndGlyphs" >−0.8</text>
<line x1="194.2" y1="626.2" x2="194.2" y2="631.1" stroke="#000" stroke-width="1.1"/>
<text x="194.23" y="644.80" font-size="12.88" fill="#000" stroke="#000" stroke-width="0.20" text-anchor="middle" textLength="30.35" lengthAdjust="spacingAndGlyphs" >−0.6</text>
<line x1="270.5" y1="626.2" x2="270.5" y2="631.1" stroke="#000" stroke-width="1.1"/>
<text x="270.46" y="644.80" font-size="12.88" fill="#000" stroke="#000" stroke-width="0.20" text-anchor="middle" textLength="30.35" lengthAdjust="spacingAndGlyphs" >−0.4</text>
<line x1="346.7" y1="626.2" x2="346.7" y2="631.1" stroke="#000" stroke-width="1.1"/>
<text x="346.69" y="644.80" font-size="12.88" fill="#000" stroke="#000" stroke-width="0.20" text-anchor="middle" textLength="30.35" lengthAdjust="spacingAndGlyphs" >−0.2</text>
<line x1="422.9" y1="626.2" x2="422.9" y2="631.1" stroke="#000" stroke-width="1.1"/>
<text x="422.92" y="644.80" font-size="12.88" fill="#000" stroke="#000" stroke-width="0.20" text-anchor="middle" textLength="19.88" lengthAdjust="spacingAndGlyphs" >0.0</text>
<line x1="499.2" y1="626.2" x2="499.2" y2="631.1" stroke="#000" stroke-width="1.1"/>
<text x="499.15" y="644.80" font-size="12.88" fill="#000" stroke="#000" stroke-width="0.20" text-anchor="middle" textLength="19.88" lengthAdjust="spacingAndGlyphs" >0.2</text>
<line x1="575.4" y1="626.2" x2="575.4" y2="631.1" stroke="#000" stroke-width="1.1"/>
<text x="575.38" y="644.80" font-size="12.88" fill="#000" stroke="#000" stroke-width="0.20" text-anchor="middle" textLength="19.88" lengthAdjust="spacingAndGlyphs" >0.4</text>
<text x="73.20" y="252.90" font-size="12.88" fill="#1f77b4" stroke="#1f77b4" stroke-width="0.20" text-anchor="middle" textLength="51.15" lengthAdjust="spacingAndGlyphs" transform="rotate(-90 73.20 252.90)" >Stability</text>
<text x="73.20" y="573.50" font-size="12.88" fill="#9467bd" stroke="#9467bd" stroke-width="0.20" text-anchor="middle" textLength="59.37" lengthAdjust="spacingAndGlyphs" transform="rotate(-90 73.20 573.50)" >Block NVI</text>
<text x="653.50" y="253.50" font-size="12.88" fill="#d62728" stroke="#d62728" stroke-width="0.20" text-anchor="middle" textLength="63.47" lengthAdjust="spacingAndGlyphs" transform="rotate(-90 653.50 253.50)" ># clusters</text>
<text x="665.20" y="413.00" font-size="12.88" fill="#2ca02c" stroke="#2ca02c" stroke-width="0.20" text-anchor="middle" textLength="21.59" lengthAdjust="spacingAndGlyphs" transform="rotate(-90 665.20 413.00)" >NVI</text>
<text x="68.2" y="414.1" font-size="12.9" font-style="italic" stroke="#000" stroke-width="0.12" text-anchor="middle" textLength="48.4" lengthAdjust="spacingAndGlyphs" transform="rotate(-90 68.2 414.1)">log<tspan font-style="normal" font-size="8.75" dy="2.6">10</tspan><tspan dy="-2.6" font-style="normal">(</tspan>t′<tspan font-style="normal">)</tspan></text>
<text x="364.8" y="662.3" font-size="12.9" font-style="italic" stroke="#000" stroke-width="0.12" text-anchor="middle" textLength="44.8" lengthAdjust="spacingAndGlyphs">log<tspan font-style="normal" font-size="8.75" dy="2.6">10</tspan><tspan dy="-2.6" font-style="normal">(</tspan>t<tspan font-style="normal">)</tspan></text>
<line x1="104.3" y1="157.2" x2="161.8" y2="215.0" stroke="#203864" stroke-width="2.6"/>
<line x1="342.2" y1="157.2" x2="283.8" y2="242.8" stroke="#203864" stroke-width="2.6"/>
<line x1="579.5" y1="157.2" x2="441.5" y2="266.4" stroke="#203864" stroke-width="2.6"/>
<rect x="148.1" y="216.7" width="29.8" height="29.6" fill="none" stroke="#203864" stroke-width="3.4"/>
<rect x="268.1" y="244.1" width="29.8" height="29.8" fill="none" stroke="#203864" stroke-width="3.4"/>
<rect x="426.7" y="267.7" width="29.6" height="30.0" fill="none" stroke="#203864" stroke-width="3.4"/>
<g>
<path d="M81.0,11.7L87.4,11.7M81.0,11.7L90.9,19.3M81.0,11.7L74.1,23.5M81.0,11.7L70.3,45.5M87.4,11.7L90.9,19.3M87.4,11.7L74.1,23.5M87.4,11.7L82.3,27.6M87.4,11.7L73.0,52.5M87.4,11.7L110.5,45.2M87.4,11.7L159.7,120.0M87.4,11.7L92.2,65.8M90.9,19.3L74.1,23.5M90.9,19.3L82.3,27.6M90.9,19.3L86.4,30.2M90.9,19.3L59.6,64.5M74.1,23.5L82.3,27.6M74.1,23.5L86.4,30.2M74.1,23.5L73.0,52.5M74.1,23.5L79.8,67.3M82.3,27.6L86.4,30.2M82.3,27.6L81.4,36.4M82.3,27.6L90.5,48.1M82.3,27.6L116.4,59.7M86.4,30.2L90.9,34.8M86.4,30.2L81.4,36.4M86.4,30.2L78.6,47.8M86.4,30.2L82.6,65.6M86.4,30.2L79.8,67.3M86.4,30.2L110.5,45.2M90.9,34.8L96.8,42.1M90.9,34.8L81.4,36.4M90.9,34.8L67.2,49.0M90.9,34.8L95.0,38.0M90.9,34.8L82.6,65.6M90.9,34.8L128.6,73.6M96.8,42.1L95.0,38.0M96.8,42.1L100.8,43.7M96.8,42.1L90.5,48.1M96.8,42.1L116.4,59.7M105.9,47.5L99.6,65.6M105.9,47.5L100.8,43.7M105.9,47.5L86.4,48.6M105.9,47.5L105.2,53.4M105.9,47.5L111.4,69.1M105.9,47.5L82.6,65.6M105.9,47.5L110.7,45.5M105.9,47.5L73.0,86.2M105.9,47.5L110.5,45.2M105.9,47.5L122.2,136.4M77.6,50.6L67.2,49.0M77.6,50.6L78.6,47.8M77.6,50.6L73.0,52.5M77.6,50.6L95.0,38.0M77.6,50.6L93.2,50.1M77.6,50.6L74.5,49.8M77.6,50.6L105.2,53.4M77.6,50.6L77.3,66.8M77.6,50.6L79.8,67.3M81.4,36.4L95.0,38.0M81.4,36.4L110.4,112.8M70.3,45.5L67.2,49.0M70.3,45.5L67.4,52.4M70.3,45.5L74.5,49.8M70.3,45.5L45.7,46.8M70.3,45.5L39.9,54.7M70.3,45.5L130.9,31.0M70.3,45.5L118.1,132.1M70.3,45.5L95.7,82.1M67.2,49.0L67.4,52.4M67.2,49.0L73.0,52.5M67.2,49.0L93.2,50.1M67.2,49.0L84.8,56.5M67.2,49.0L64.7,74.4M67.2,49.0L75.8,74.4M78.6,47.8L73.0,52.5M78.6,47.8L95.0,38.0M78.6,47.8L86.4,48.6M78.6,47.8L74.5,49.8M78.6,47.8L105.2,53.4M78.6,47.8L140.9,82.7M78.6,47.8L164.7,108.1M78.6,47.8L152.3,104.5M67.4,52.4L73.0,52.5M67.4,52.4L66.6,57.1M67.4,52.4L59.6,64.5M67.4,52.4L79.8,67.3M67.4,52.4L75.8,74.4M73.0,52.5L66.6,57.1M73.0,52.5L91.5,62.5M73.0,52.5L86.4,48.6M73.0,52.5L74.5,49.8M73.0,52.5L48.4,60.0M73.0,52.5L71.8,60.1M73.0,52.5L69.2,66.8M73.0,52.5L107.2,123.0M66.6,57.1L90.5,48.1M66.6,57.1L93.2,50.1M66.6,57.1L89.7,52.7M66.6,57.1L71.8,60.1M66.6,57.1L59.6,64.5M66.6,57.1L69.2,66.8M66.6,57.1L83.6,79.2M91.5,62.5L99.6,65.6M91.5,62.5L95.0,38.0M91.5,62.5L89.7,52.7M91.5,62.5L84.8,56.5M91.5,62.5L69.2,83.7M91.5,62.5L86.8,69.4M91.5,62.5L92.2,65.8M91.5,62.5L95.7,82.1M101.1,61.0L99.6,65.6M101.1,61.0L95.0,38.0M101.1,61.0L105.2,53.4M101.1,61.0L117.2,107.1M101.1,61.0L103.7,65.2M99.6,65.6L90.5,48.1M99.6,65.6L101.1,70.3M99.6,65.6L96.8,75.5M99.6,65.6L27.5,90.3M99.6,65.6L103.7,65.2M99.6,65.6L92.2,65.8M87.0,94.9L64.7,74.4M87.0,94.9L83.6,79.2M87.0,94.9L31.7,87.3M87.0,94.9L50.7,111.2M87.0,94.9L104.1,111.6M87.0,94.9L91.1,90.9M87.0,94.9L91.9,93.2M87.0,94.9L93.0,100.4M87.0,94.9L106.0,97.5M103.1,88.1L101.1,70.3M103.1,88.1L106.4,83.5M103.1,88.1L99.6,86.5M103.1,88.1L148.3,50.1M103.1,88.1L115.7,78.2M103.1,88.1L128.3,87.0M103.1,88.1L106.3,83.5M103.1,88.1L104.9,92.6M103.1,88.1L103.7,65.2M103.1,88.1L95.7,82.1M103.1,88.1L102.9,102.4M95.0,38.0L100.8,43.7M100.8,43.7L109.0,119.2M86.4,48.6L90.5,48.1M86.4,48.6L93.2,50.1M86.4,48.6L89.7,52.7M86.4,48.6L84.8,56.5M86.4,48.6L68.1,70.6M86.4,48.6L77.3,66.8M86.4,48.6L101.1,70.3M86.4,48.6L103.7,65.2M90.5,48.1L93.2,50.1M90.5,48.1L89.7,52.7M90.5,48.1L82.6,65.6M90.5,48.1L101.1,70.3M93.2,50.1L89.7,52.7M93.2,50.1L105.2,53.4M93.2,50.1L82.6,65.6M93.2,50.1L96.8,75.5M93.2,50.1L103.7,65.2M74.5,49.8L43.1,93.8M74.5,49.8L86.8,69.4M89.7,52.7L84.8,56.5M89.7,52.7L68.1,70.6M89.7,52.7L110.7,45.5M89.7,52.7L110.5,45.2M84.8,56.5L69.2,66.8M84.8,56.5L82.6,65.6M84.8,56.5L75.8,74.4M84.8,56.5L103.7,65.2M105.2,53.4L101.1,70.3M105.2,53.4L110.7,45.5M105.2,53.4L110.5,45.2M105.2,53.4L116.4,59.7M111.4,69.1L111.4,72.4M111.4,69.1L110.7,45.5M111.4,69.1L136.3,57.7M111.4,69.1L116.4,59.7M111.4,69.1L115.7,78.2M111.4,69.1L121.0,83.2M111.4,69.1L128.3,87.0M111.4,69.1L111.3,72.4M111.4,69.1L110.2,113.1M111.4,69.1L106.7,71.7M111.4,69.1L95.7,82.1M45.7,46.8L39.9,54.7M45.7,46.8L48.4,60.0M45.7,46.8L41.1,63.3M45.7,46.8L32.3,73.5M39.9,54.7L48.4,60.0M39.9,54.7L41.1,63.3M39.9,54.7L61.3,81.7M39.9,54.7L24.7,94.1M48.4,60.0L41.1,63.3M48.4,60.0L50.2,64.8M48.4,60.0L65.9,89.6M48.4,60.0L154.1,140.9M41.1,63.3L50.2,64.8M41.1,63.3L32.3,73.5M41.1,63.3L27.5,90.3M41.1,63.3L33.5,100.2M50.2,64.8L61.3,81.7M50.2,64.8L59.6,64.5M50.2,64.8L77.3,66.8M50.2,64.8L79.8,67.3M32.3,73.5L35.2,83.0M32.3,73.5L31.7,87.3M32.3,73.5L27.5,90.3M71.8,60.1L69.2,66.8M71.8,60.1L79.8,67.3M68.1,70.6L58.3,76.7M68.1,70.6L69.2,66.8M68.1,70.6L64.7,74.4M68.1,70.6L71.9,78.2M68.1,70.6L77.3,66.8M58.3,76.7L61.3,81.7M58.3,76.7L64.7,74.4M58.3,76.7L71.9,78.2M58.3,76.7L79.8,67.3M58.3,76.7L39.6,91.1M58.3,76.7L44.2,90.8M58.3,76.7L107.2,123.0M58.3,76.7L125.7,139.7M58.3,76.7L75.8,74.4M61.3,81.7L64.7,74.4M61.3,81.7L71.9,78.2M61.3,81.7L60.1,90.8M61.3,81.7L62.7,110.9M61.3,81.7L69.2,83.7M65.9,89.6L64.7,74.4M65.9,89.6L24.7,94.1M65.9,89.6L60.1,90.8M65.9,89.6L73.0,86.2M65.9,89.6L76.3,104.0M65.9,89.6L68.1,98.4M65.9,89.6L69.2,83.7M59.6,64.5L69.2,66.8M59.6,64.5L71.9,78.2M59.6,64.5L77.3,66.8M59.6,64.5L110.4,112.8M69.2,66.8L64.7,74.4M69.2,66.8L71.9,78.2M69.2,66.8L77.3,66.8M69.2,66.8L84.4,82.4M69.2,66.8L79.8,67.3M82.6,65.6L77.3,66.8M82.6,65.6L79.8,67.3M82.6,65.6L73.0,86.2M82.6,65.6L115.7,78.2M82.6,65.6L21.4,98.4M82.6,65.6L86.8,69.4M64.7,74.4L71.9,78.2M64.7,74.4L33.5,100.2M64.7,74.4L44.6,105.5M64.7,74.4L86.4,122.2M64.7,74.4L90.2,124.5M64.7,74.4L109.0,119.2M71.9,78.2L73.0,86.2M71.9,78.2L33.5,100.2M71.9,78.2L75.8,74.4M71.9,78.2L69.2,83.7M71.9,78.2L92.2,65.8M71.9,78.2L91.9,93.2M83.6,79.2L84.4,82.4M83.6,79.2L50.7,111.2M83.6,79.2L77.3,109.6M83.6,79.2L85.9,104.5M83.6,79.2L75.8,74.4M83.6,79.2L86.8,69.4M83.6,79.2L103.7,65.2M83.6,79.2L91.1,90.9M77.3,66.8L79.8,67.3M77.3,66.8L68.1,98.4M77.3,66.8L75.8,74.4M101.1,70.3L96.8,75.5M101.1,70.3L103.7,65.2M101.1,70.3L106.7,71.7M96.8,75.5L111.4,72.4M96.8,75.5L84.4,82.4M96.8,75.5L79.8,67.3M96.8,75.5L86.8,69.4M96.8,75.5L95.7,82.1M96.8,75.5L91.1,90.9M111.4,72.4L115.7,78.2M111.4,72.4L111.3,72.4M111.4,72.4L106.3,83.5M111.4,72.4L157.9,135.9M111.4,72.4L106.7,71.7M84.4,82.4L60.1,90.8M84.4,82.4L126.3,68.3M84.4,82.4L76.3,104.0M84.4,82.4L68.1,98.4M84.4,82.4L95.7,82.1M84.4,82.4L91.1,90.9M95.8,93.4L111.3,72.4M95.8,93.4L94.7,101.3M95.8,93.4L110.2,101.7M95.8,93.4L91.1,90.9M95.8,93.4L91.9,93.2M95.8,93.4L93.0,100.4M95.8,93.4L106.0,97.5M79.8,67.3L75.8,74.4M79.8,67.3L86.8,69.4M106.4,83.5L99.6,86.5M106.4,83.5L115.7,78.2M106.4,83.5L111.3,72.4M106.4,83.5L106.3,83.5M110.7,45.5L110.5,45.2M110.7,45.5L116.4,59.7M110.7,45.5L116.9,121.5M110.7,45.5L106.7,71.7M99.6,86.5L27.5,90.3M99.6,86.5L106.3,83.5M99.6,86.5L92.0,109.0M99.6,86.5L164.7,108.1M99.6,86.5L103.7,65.2M99.6,86.5L95.7,82.1M35.2,83.0L31.7,87.3M35.2,83.0L27.5,90.3M35.2,83.0L24.7,94.1M35.2,83.0L39.6,91.1M35.2,83.0L44.2,90.8M35.2,83.0L34.0,103.6M35.2,83.0L25.2,105.1M35.2,83.0L52.5,108.1M35.2,83.0L94.7,101.3M31.7,87.3L27.5,90.3M31.7,87.3L24.7,94.1M31.7,87.3L39.6,91.1M31.7,87.3L44.2,90.8M31.7,87.3L52.5,108.1M27.5,90.3L24.7,94.1M27.5,90.3L21.4,98.4M27.5,90.3L29.4,98.0M27.5,90.3L33.5,100.2M24.7,94.1L21.4,98.4M24.7,94.1L29.4,98.0M24.7,94.1L33.5,100.2M24.7,94.1L25.2,105.1M24.7,94.1L24.4,110.6M39.6,91.1L44.2,90.8M39.6,91.1L43.1,93.8M39.6,91.1L29.4,98.0M39.6,91.1L33.5,100.2M39.6,91.1L39.3,100.2M39.6,91.1L31.6,112.4M39.6,91.1L152.3,104.5M44.2,90.8L43.1,93.8M44.2,90.8L147.3,78.5M44.2,90.8L29.4,98.0M44.2,90.8L39.3,100.2M44.2,90.8L34.0,103.6M44.2,90.8L24.4,110.6M44.2,90.8L44.6,105.5M44.2,90.8L52.5,108.1M44.2,90.8L50.7,111.2M44.2,90.8L69.2,83.7M43.1,93.8L33.5,100.2M43.1,93.8L39.3,100.2M60.1,90.8L73.0,86.2M60.1,90.8L77.3,109.6M60.1,90.8L68.1,98.4M73.0,86.2L126.3,68.3M73.0,86.2L69.2,83.7M197.4,21.6L191.6,27.0M197.4,21.6L167.3,29.6M197.4,21.6L174.1,33.4M197.4,21.6L186.0,32.6M197.4,21.6L189.0,34.9M197.4,21.6L177.3,36.0M197.4,21.6L169.3,38.3M197.4,21.6L177.6,38.4M197.4,21.6L180.2,43.7M197.4,21.6L183.7,49.3M197.4,21.6L157.4,46.6M197.4,21.6L100.3,128.6M197.4,21.6L117.2,107.1M191.6,27.0L186.0,32.6M191.6,27.0L189.0,34.9M191.6,27.0L167.3,34.2M167.3,29.6L174.1,33.4M167.3,29.6L177.3,36.0M167.3,29.6L169.3,38.3M167.3,29.6L167.3,34.2M167.3,29.6L165.2,45.1M167.3,29.6L144.7,34.6M167.3,29.6L130.9,31.0M167.3,29.6L126.3,68.3M174.1,33.4L186.0,32.6M174.1,33.4L177.3,36.0M174.1,33.4L169.3,38.3M174.1,33.4L177.6,38.4M174.1,33.4L173.4,41.7M174.1,33.4L180.2,43.7M174.1,33.4L183.7,49.3M174.1,33.4L167.3,34.2M174.1,33.4L165.2,45.1M186.0,32.6L189.0,34.9M186.0,32.6L177.3,36.0M186.0,32.6L177.6,38.4M186.0,32.6L177.9,41.4M186.0,32.6L180.2,43.7M186.0,32.6L136.3,57.7M186.0,32.6L147.3,78.5M186.0,32.6L131.3,96.4M186.0,32.6L157.9,135.9M189.0,34.9L177.3,36.0M189.0,34.9L169.3,38.3M189.0,34.9L177.9,41.4M189.0,34.9L168.5,61.0M177.3,36.0L177.6,38.4M177.3,36.0L173.4,41.7M177.3,36.0L177.9,41.4M177.3,36.0L180.2,43.7M177.3,36.0L146.2,47.5M177.3,36.0L130.1,112.4M169.3,38.3L177.6,38.4M169.3,38.3L173.4,41.7M169.3,38.3L180.2,43.7M169.3,38.3L167.3,34.2M169.3,38.3L165.2,45.1M169.3,38.3L168.5,61.0M169.3,38.3L140.9,31.4M169.3,38.3L133.1,54.2M169.3,38.3L130.9,31.0M169.3,38.3L166.5,70.6M169.3,38.3L39.3,100.2M177.6,38.4L173.4,41.7M177.6,38.4L177.9,41.4M177.6,38.4L180.2,43.7M177.6,38.4L183.7,49.3M177.6,38.4L168.5,10.9M177.6,38.4L166.5,70.6M173.4,41.7L177.9,41.4M173.4,41.7L180.2,43.7M173.4,41.7L183.7,49.3M173.4,41.7L146.1,43.0M173.4,41.7L157.4,46.6M173.4,41.7L152.3,110.1M177.9,41.4L180.2,43.7M177.9,41.4L183.7,49.3M177.9,41.4L136.3,57.7M177.9,41.4L130.9,31.0M177.9,41.4L135.4,143.2M180.2,43.7L183.7,49.3M180.2,43.7L176.9,61.3M180.2,43.7L130.1,112.4M180.2,43.7L110.4,112.8M183.7,49.3L176.9,61.3M183.7,49.3L165.2,45.1M183.7,49.3L144.7,34.6M183.7,49.3L172.3,93.1M176.9,61.3L168.5,61.0M176.9,61.3L168.1,64.8M176.9,61.3L149.1,33.4M176.9,61.3L151.4,73.6M176.9,61.3L169.3,77.9M176.9,61.3L154.1,67.3M176.9,61.3L172.3,93.1M167.3,34.2L148.3,50.1M167.3,34.2L159.0,39.8M167.3,34.2L106.3,83.5M146.1,43.0L146.2,47.5M146.1,43.0L157.4,46.6M146.1,43.0L148.3,50.1M146.1,43.0L140.9,31.4M146.1,43.0L144.7,34.6M146.1,43.0L149.1,33.4M146.1,43.0L110.5,45.2M146.1,43.0L142.4,136.7M165.2,45.1L157.4,46.6M165.2,45.1L144.7,34.6M165.2,45.1L159.0,39.8M146.2,47.5L157.4,46.6M146.2,47.5L148.3,50.1M146.2,47.5L144.7,34.6M146.2,47.5L133.1,54.2M146.2,47.5L136.3,57.7M146.2,47.5L130.9,31.0M146.2,47.5L131.0,104.0M157.4,46.6L148.3,50.1M157.4,46.6L140.9,31.4M157.4,46.6L159.0,39.8M157.4,46.6L105.9,105.5M148.3,50.1L143.2,66.3M148.3,50.1L33.5,100.2M168.5,61.0L168.1,64.8M168.5,61.0L140.9,31.4M168.5,61.0L166.5,70.6M168.5,61.0L140.9,82.7M168.1,64.8L169.3,77.9M168.1,64.8L166.5,70.6M168.5,10.9L130.9,31.0M140.9,31.4L144.7,34.6M140.9,31.4L149.1,33.4M140.9,31.4L159.0,39.8M140.9,31.4L136.3,57.7M140.9,31.4L130.9,31.0M140.9,31.4L110.5,45.2M140.9,31.4L172.3,104.8M144.7,34.6L149.1,33.4M144.7,34.6L130.9,31.0M144.7,34.6L126.3,68.3M144.7,34.6L143.2,66.3M144.7,34.6L154.1,67.3M144.7,34.6L156.8,132.6M149.1,33.4L133.1,54.2M149.1,33.4L130.9,31.0M149.1,33.4L154.1,67.3M133.1,54.2L136.3,57.7M133.1,54.2L116.4,59.7M133.1,54.2L126.3,68.3M136.3,57.7L116.4,59.7M136.3,57.7L143.2,66.3M136.3,57.7L132.5,76.4M136.3,57.7L128.3,87.0M130.9,31.0L110.5,45.2M110.5,45.2L111.3,72.4M116.4,59.7L126.3,68.3M116.4,59.7L137.7,75.9M116.4,59.7L119.2,89.3M116.4,59.7L95.7,82.1M116.4,59.7L91.1,90.9M126.3,68.3L128.6,73.6M126.3,68.3L132.5,76.4M126.3,68.3L142.7,80.0M126.3,68.3L115.7,78.2M126.3,68.3L131.3,96.4M126.3,68.3L130.1,112.4M143.2,66.3L151.4,73.6M143.2,66.3L134.4,88.4M143.2,66.3L154.1,67.3M143.2,66.3L140.7,74.4M143.2,66.3L137.7,75.9M143.2,66.3L121.0,83.2M143.2,66.3L152.3,104.5M128.6,73.6L132.5,76.4M128.6,73.6L151.4,73.6M128.6,73.6L137.7,75.9M128.6,73.6L129.0,82.0M128.6,73.6L108.3,94.3M132.5,76.4L142.7,80.0M132.5,76.4L134.4,88.4M132.5,76.4L154.1,67.3M132.5,76.4L137.7,75.9M132.5,76.4L138.2,79.2M132.5,76.4L129.0,82.0M132.5,76.4L148.8,91.8M151.4,73.6L154.1,67.3M151.4,73.6L166.5,70.6M151.4,73.6L140.7,74.4M151.4,73.6L147.3,78.5M151.4,73.6L138.2,79.2M151.4,73.6L148.8,91.8M169.3,77.9L166.5,70.6M169.3,77.9L138.2,79.2M169.3,77.9L172.3,93.1M142.7,80.0L166.5,70.6M142.7,80.0L140.7,74.4M142.7,80.0L137.7,75.9M142.7,80.0L147.3,78.5M142.7,80.0L138.2,79.2M142.7,80.0L124.5,85.8M142.7,80.0L140.9,82.7M142.7,80.0L92.2,65.8M134.4,88.4L140.7,74.4M134.4,88.4L138.2,79.2M134.4,88.4L128.3,87.0M134.4,88.4L154.1,89.6M134.4,88.4L131.3,96.4M134.4,88.4L129.0,82.0M134.4,88.4L155.6,93.8M134.4,88.4L159.0,92.6M134.4,88.4L135.1,105.2M154.1,67.3L166.5,70.6M154.1,67.3L172.3,93.1M140.7,74.4L137.7,75.9M140.7,74.4L138.2,79.2M140.7,74.4L131.3,96.4M140.7,74.4L91.9,93.2M137.7,75.9L138.2,79.2M137.7,75.9L140.9,82.7M137.7,75.9L111.3,72.4M147.3,78.5L140.9,82.7M147.3,78.5L148.8,91.8M147.3,78.5L172.3,93.1M147.3,78.5L157.4,100.7M138.2,79.2L148.0,99.4M138.2,79.2L129.0,82.0M138.2,79.2L140.9,82.7M115.7,78.2L121.0,83.2M115.7,78.2L111.3,72.4M115.7,78.2L110.2,101.7M115.7,78.2L95.7,82.1M121.0,83.2L124.5,85.8M121.0,83.2L128.3,87.0M121.0,83.2L119.2,89.3M121.0,83.2L117.2,107.1M121.0,83.2L106.7,71.7M121.0,83.2L108.3,94.3M124.5,85.8L128.3,87.0M124.5,85.8L119.2,89.3M124.5,85.8L129.0,82.0M128.3,87.0L129.0,82.0M128.3,87.0L106.0,97.5M119.2,89.3L129.0,82.0M119.2,89.3L124.2,93.7M119.2,89.3L118.0,96.4M119.2,89.3L104.9,92.6M119.2,89.3L91.9,93.2M154.1,89.6L148.8,91.8M154.1,89.6L155.6,93.8M154.1,89.6L159.0,92.6M154.1,89.6L157.4,100.7M131.3,96.4L148.0,99.4M131.3,96.4L129.0,82.0M131.3,96.4L124.2,93.7M131.3,96.4L140.9,82.7M131.3,96.4L131.0,104.0M131.3,96.4L135.1,105.2M148.0,99.4L159.0,92.6M148.0,99.4L150.0,95.3M148.0,99.4L148.0,99.5M148.0,99.4L149.2,101.3M148.0,99.4L133.1,111.9M129.0,82.0L111.3,72.4M129.0,82.0L104.9,92.6M129.0,82.0L113.1,99.0M124.2,93.7L118.0,96.4M124.2,93.7L106.3,83.5M124.2,93.7L104.9,92.6M124.2,93.7L148.0,99.5M124.2,93.7L138.9,106.6M124.2,93.7L113.1,99.0M124.2,93.7L108.3,94.3M140.9,82.7L138.9,106.6M140.9,82.7L135.1,105.2M140.9,82.7L118.1,132.1M148.8,91.8L155.6,93.8M148.8,91.8L150.0,95.3M148.8,91.8L172.3,104.8M148.8,91.8L148.8,122.5M148.8,91.8L152.3,110.1M155.6,93.8L159.0,92.6M155.6,93.8L150.0,95.3M155.6,93.8L157.4,100.7M155.6,93.8L148.0,99.5M159.0,92.6L172.3,93.1M159.0,92.6L157.4,100.7M159.0,92.6L154.1,140.9M159.0,92.6L138.9,106.6M150.0,95.3L172.3,93.1M150.0,95.3L159.7,120.0M150.0,95.3L158.7,109.0M150.0,95.3L130.1,112.4M150.0,95.3L148.8,122.5M150.0,95.3L152.3,120.3M150.0,95.3L148.0,99.5M150.0,95.3L131.0,104.0M172.3,93.1L172.3,104.8M172.3,93.1L158.7,109.0M172.3,93.1L148.0,99.5M111.3,72.4L113.1,99.0M111.3,72.4L92.2,65.8M111.3,72.4L106.7,71.7M118.0,96.4L109.4,119.2M118.0,96.4L95.8,104.0M118.0,96.4L113.1,99.0M118.0,96.4L107.0,123.0M106.3,83.5L91.9,93.2M106.3,83.5L102.9,102.4M21.4,98.4L29.4,98.0M21.4,98.4L33.5,100.2M21.4,98.4L34.0,103.6M21.4,98.4L25.2,105.1M21.4,98.4L148.0,99.5M29.4,98.0L33.5,100.2M29.4,98.0L39.3,100.2M29.4,98.0L34.0,103.6M29.4,98.0L25.2,105.1M33.5,100.2L39.3,100.2M33.5,100.2L34.0,103.6M33.5,100.2L31.6,112.4M33.5,100.2L44.6,105.5M39.3,100.2L34.0,103.6M39.3,100.2L44.6,105.5M39.3,100.2L62.7,110.9M34.0,103.6L24.4,110.6M34.0,103.6L31.6,112.4M34.0,103.6L44.6,105.5M34.0,103.6L110.2,113.1M25.2,105.1L24.4,110.6M25.2,105.1L31.6,112.4M24.4,110.6L31.6,112.4M24.4,110.6L86.4,122.2M31.6,112.4L62.7,110.9M31.6,112.4L110.2,113.1M44.6,105.5L52.5,108.1M44.6,105.5L50.7,111.2M52.5,108.1L50.7,111.2M52.5,108.1L62.7,110.9M50.7,111.2L62.7,110.9M50.7,111.2L76.3,104.0M50.7,111.2L100.3,128.6M50.7,111.2L135.4,143.2M62.7,110.9L90.2,124.5M62.7,110.9L94.7,101.3M62.7,110.9L68.1,98.4M62.7,110.9L122.2,136.4M76.3,104.0L77.3,109.6M76.3,104.0L85.9,104.5M76.3,104.0L68.1,98.4M76.3,104.0L157.9,135.9M76.3,104.0L91.9,93.2M77.3,109.6L85.9,104.5M77.3,109.6L98.5,120.7M77.3,109.6L68.1,98.4M77.3,109.6L91.1,90.9M86.4,122.2L90.2,124.5M86.4,122.2L100.8,111.6M86.4,122.2L92.0,109.0M86.4,122.2L110.2,113.1M86.4,122.2L98.5,120.7M86.4,122.2L118.1,132.1M86.4,122.2L113.1,99.0M86.4,122.2L91.9,93.2M90.2,124.5L100.3,128.6M90.2,124.5L98.5,120.7M100.8,111.6L104.1,111.6M100.8,111.6L95.8,104.0M100.8,111.6L105.9,105.5M109.4,119.2L110.2,113.1M109.4,119.2L107.2,123.0M109.4,119.2L113.7,124.5M109.4,119.2L116.9,121.5M109.4,119.2L118.1,132.1M109.4,119.2L113.1,99.0M109.4,119.2L125.3,115.7M109.4,119.2L109.0,119.2M109.4,119.2L110.4,101.4M109.4,119.2L110.4,112.8M109.4,119.2L107.0,123.0M109.4,119.2L93.0,100.4M85.9,104.5L92.0,109.0M85.9,104.5L94.7,101.3M85.9,104.5L95.8,104.0M85.9,104.5L104.9,92.6M85.9,104.5L109.0,119.2M85.9,104.5L91.9,93.2M85.9,104.5L93.0,100.4M92.0,109.0L94.7,101.3M92.0,109.0L95.8,104.0M92.0,109.0L104.9,92.6M92.0,109.0L116.9,121.5M94.7,101.3L110.2,113.1M94.7,101.3L95.8,104.0M94.7,101.3L113.7,124.5M94.7,101.3L68.1,98.4M94.7,101.3L117.2,107.1M94.7,101.3L91.1,90.9M94.7,101.3L93.0,100.4M94.7,101.3L102.9,102.4M104.1,111.6L110.2,113.1M104.1,111.6L105.9,105.5M104.1,111.6L130.1,112.4M104.1,111.6L110.4,112.8M104.1,111.6L91.1,90.9M104.1,111.6L102.9,102.4M104.1,111.6L106.0,97.5M110.2,101.7L105.9,105.5M110.2,101.7L117.2,107.1M110.2,101.7L116.9,121.5M110.2,101.7L113.1,99.0M110.2,101.7L110.4,101.4M110.2,101.7L133.1,111.9M110.2,101.7L91.1,90.9M110.2,101.7L108.3,94.3M110.2,113.1L107.2,123.0M110.2,113.1L98.5,120.7M110.2,113.1L113.7,124.5M110.2,113.1L118.1,132.1M110.2,113.1L109.0,119.2M110.2,113.1L110.4,112.8M110.2,113.1L93.0,100.4M110.2,113.1L102.9,102.4M100.3,128.6L107.2,123.0M100.3,128.6L98.5,120.7M100.3,128.6L124.5,120.7M100.3,128.6L110.4,101.4M100.3,128.6L110.4,112.8M100.3,128.6L107.0,123.0M100.3,128.6L91.9,93.2M100.3,128.6L106.0,97.5M107.2,123.0L98.5,120.7M107.2,123.0L113.7,124.5M107.2,123.0L68.1,98.4M107.2,123.0L118.1,132.1M107.2,123.0L113.1,99.0M107.2,123.0L125.3,115.7M107.2,123.0L109.0,119.2M107.2,123.0L107.0,123.0M95.8,104.0L93.0,100.4M95.8,104.0L102.9,102.4M98.5,120.7L107.0,123.0M98.5,120.7L91.9,93.2M98.5,120.7L102.9,102.4M113.7,124.5L156.8,132.6M113.7,124.5L116.9,121.5M113.7,124.5L118.1,132.1M113.7,124.5L122.2,136.4M113.7,124.5L139.7,138.6M105.9,105.5L124.5,120.7M105.9,105.5L117.2,107.1M105.9,105.5L118.1,132.1M105.9,105.5L109.0,119.2M105.9,105.5L110.4,101.4M105.9,105.5L102.9,102.4M68.1,98.4L110.4,101.4M68.1,98.4L75.8,74.4M68.1,98.4L91.9,93.2M104.9,92.6L148.0,99.5M104.9,92.6L110.4,101.4M104.9,92.6L91.9,93.2M104.9,92.6L108.3,94.3M104.9,92.6L102.9,102.4M104.9,92.6L106.0,97.5M157.4,100.7L172.3,104.8M157.4,100.7L164.7,108.1M157.4,100.7L148.0,99.5M157.4,100.7L149.2,101.3M157.4,100.7L152.3,104.5M157.4,100.7L133.1,111.9M172.3,104.8L170.0,112.1M172.3,104.8L164.7,108.1M172.3,104.8L148.0,99.5M172.3,104.8L135.1,105.2M170.0,112.1L154.1,140.9M170.0,112.1L164.7,108.1M170.0,112.1L158.7,109.0M170.0,112.1L146.5,127.9M170.0,112.1L138.9,106.6M170.0,112.1L92.2,65.8M159.7,120.0L156.7,123.8M159.7,120.0L158.7,109.0M159.7,120.0L152.3,120.3M159.7,120.0L157.9,135.9M156.7,123.8L164.7,108.1M156.7,123.8L148.8,122.5M156.7,123.8L152.3,120.3M156.7,123.8L138.9,135.1M154.1,140.9L158.7,109.0M154.1,140.9L152.3,120.3M154.1,140.9L152.3,131.4M154.1,140.9L156.8,132.6M154.1,140.9L157.9,135.9M154.1,140.9L152.3,110.1M154.1,140.9L122.2,136.4M154.1,140.9L135.4,143.2M164.7,108.1L158.7,109.0M164.7,108.1L148.8,122.5M164.7,108.1L152.3,104.5M158.7,109.0L152.3,104.5M158.7,109.0L152.3,110.1M158.7,109.0L138.9,135.1M130.1,112.4L124.5,120.7M130.1,112.4L137.1,120.7M130.1,112.4L152.3,120.3M130.1,112.4L156.8,132.6M130.1,112.4L131.0,104.0M130.1,112.4L135.1,105.2M130.1,112.4L116.9,121.5M130.1,112.4L125.3,115.7M130.1,112.4L107.0,123.0M130.1,112.4L133.1,111.9M124.5,120.7L156.8,132.6M124.5,120.7L116.9,121.5M124.5,120.7L122.2,136.4M124.5,120.7L125.7,139.7M124.5,120.7L138.9,135.1M124.5,120.7L125.3,115.7M137.1,120.7L148.8,122.5M137.1,120.7L146.5,127.9M137.1,120.7L156.8,132.6M137.1,120.7L157.9,135.9M137.1,120.7L139.7,138.6M137.1,120.7L133.1,111.9M148.8,122.5L152.3,120.3M148.8,122.5L146.5,127.9M148.8,122.5L152.3,104.5M148.8,122.5L152.3,110.1M148.8,122.5L142.4,136.7M152.3,120.3L146.5,127.9M152.3,120.3L152.3,104.5M146.5,127.9L152.3,131.4M152.3,131.4L156.8,132.6M152.3,131.4L157.9,135.9M152.3,131.4L142.4,136.7M156.8,132.6L157.9,135.9M156.8,132.6L142.4,136.7M157.9,135.9L138.9,106.6M157.9,135.9L135.4,143.2M148.0,99.5L149.2,101.3M149.2,101.3L152.3,104.5M149.2,101.3L152.3,110.1M138.9,106.6L131.0,104.0M138.9,106.6L135.1,105.2M138.9,106.6L142.4,136.7M138.9,106.6L125.3,115.7M138.9,106.6L133.1,111.9M117.2,107.1L110.4,101.4M117.2,107.1L110.4,112.8M117.2,107.1L133.1,111.9M131.0,104.0L135.1,105.2M131.0,104.0L109.0,119.2M131.0,104.0L110.4,101.4M131.0,104.0L133.1,111.9M131.0,104.0L91.1,90.9M135.1,105.2L133.1,111.9M152.3,104.5L152.3,110.1M116.9,121.5L118.1,132.1M116.9,121.5L122.2,136.4M116.9,121.5L125.3,115.7M118.1,132.1L122.2,136.4M118.1,132.1L125.7,139.7M118.1,132.1L109.0,119.2M122.2,136.4L125.7,139.7M122.2,136.4L138.9,135.1M125.7,139.7L135.4,143.2M125.7,139.7L138.9,135.1M135.4,143.2L138.9,135.1M135.4,143.2L142.4,136.7M135.4,143.2L139.7,138.6M138.9,135.1L142.4,136.7M138.9,135.1L139.7,138.6M142.4,136.7L139.7,138.6M113.1,99.0L110.4,101.4M113.1,99.0L133.1,111.9M113.1,99.0L108.3,94.3M113.1,99.0L102.9,102.4M125.3,115.7L133.1,111.9M109.0,119.2L107.0,123.0M110.4,101.4L108.3,94.3M110.4,101.4L106.0,97.5M110.4,112.8L107.0,123.0M110.4,112.8L133.1,111.9M107.0,123.0L133.1,111.9M107.0,123.0L106.0,97.5M75.8,74.4L95.7,82.1M75.8,74.4L91.1,90.9M86.8,69.4L92.2,65.8M86.8,69.4L106.7,71.7M106.7,71.7L91.9,93.2M91.1,90.9L91.9,93.2M91.9,93.2L93.0,100.4M91.9,93.2L102.9,102.4M108.3,94.3L93.0,100.4M108.3,94.3L106.0,97.5M102.9,102.4L106.0,97.5" stroke="#808080" stroke-width="0.5" fill="none"/>
<circle cx="81.0" cy="11.7" r="1.75" fill="#2ca02c" fill-opacity="0.93"/>
<circle cx="87.4" cy="11.7" r="1.75" fill="#2ca02c" fill-opacity="0.93"/>
<circle cx="90.9" cy="19.3" r="1.75" fill="#2ca02c" fill-opacity="0.93"/>
<circle cx="74.1" cy="23.5" r="1.75" fill="#2ca02c" fill-opacity="0.93"/>
<circle cx="82.3" cy="27.6" r="1.75" fill="#2ca02c" fill-opacity="0.93"/>
<circle cx="86.4" cy="30.2" r="1.75" fill="#2ca02c" fill-opacity="0.93"/>
<circle cx="90.9" cy="34.8" r="1.75" fill="#2ca02c" fill-opacity="0.93"/>
<circle cx="96.8" cy="42.1" r="1.75" fill="#2ca02c" fill-opacity="0.93"/>
<circle cx="105.9" cy="47.5" r="1.75" fill="#2ca02c" fill-opacity="0.93"/>
<circle cx="77.6" cy="50.6" r="1.75" fill="#2ca02c" fill-opacity="0.93"/>
<circle cx="81.4" cy="36.4" r="1.75" fill="#98df8a" fill-opacity="0.93"/>
<circle cx="70.3" cy="45.5" r="1.75" fill="#98df8a" fill-opacity="0.93"/>
<circle cx="67.2" cy="49.0" r="1.75" fill="#98df8a" fill-opacity="0.93"/>
<circle cx="78.6" cy="47.8" r="1.75" fill="#98df8a" fill-opacity="0.93"/>
<circle cx="67.4" cy="52.4" r="1.75" fill="#98df8a" fill-opacity="0.93"/>
<circle cx="73.0" cy="52.5" r="1.75" fill="#98df8a" fill-opacity="0.93"/>
<circle cx="66.6" cy="57.1" r="1.75" fill="#98df8a" fill-opacity="0.93"/>
<circle cx="91.5" cy="62.5" r="1.75" fill="#98df8a" fill-opacity="0.93"/>
<circle cx="101.1" cy="61.0" r="1.75" fill="#98df8a" fill-opacity="0.93"/>
<circle cx="99.6" cy="65.6" r="1.75" fill="#98df8a" fill-opacity="0.93"/>
<circle cx="87.0" cy="94.9" r="1.75" fill="#98df8a" fill-opacity="0.93"/>
<circle cx="103.1" cy="88.1" r="1.75" fill="#98df8a" fill-opacity="0.93"/>
<circle cx="95.0" cy="38.0" r="1.75" fill="#d62728" fill-opacity="0.93"/>
<circle cx="100.8" cy="43.7" r="1.75" fill="#d62728" fill-opacity="0.93"/>
<circle cx="86.4" cy="48.6" r="1.75" fill="#d62728" fill-opacity="0.93"/>
<circle cx="90.5" cy="48.1" r="1.75" fill="#d62728" fill-opacity="0.93"/>
<circle cx="93.2" cy="50.1" r="1.75" fill="#d62728" fill-opacity="0.93"/>
<circle cx="74.5" cy="49.8" r="1.75" fill="#d62728" fill-opacity="0.93"/>
<circle cx="89.7" cy="52.7" r="1.75" fill="#d62728" fill-opacity="0.93"/>
<circle cx="84.8" cy="56.5" r="1.75" fill="#d62728" fill-opacity="0.93"/>
<circle cx="105.2" cy="53.4" r="1.75" fill="#d62728" fill-opacity="0.93"/>
<circle cx="111.4" cy="69.1" r="1.75" fill="#d62728" fill-opacity="0.93"/>
<circle cx="45.7" cy="46.8" r="1.75" fill="#ff7f0e" fill-opacity="0.93"/>
<circle cx="39.9" cy="54.7" r="1.75" fill="#ff7f0e" fill-opacity="0.93"/>
<circle cx="48.4" cy="60.0" r="1.75" fill="#ff7f0e" fill-opacity="0.93"/>
<circle cx="41.1" cy="63.3" r="1.75" fill="#ff7f0e" fill-opacity="0.93"/>
<circle cx="50.2" cy="64.8" r="1.75" fill="#ff7f0e" fill-opacity="0.93"/>
<circle cx="32.3" cy="73.5" r="1.75" fill="#ff7f0e" fill-opacity="0.93"/>
<circle cx="71.8" cy="60.1" r="1.75" fill="#ff7f0e" fill-opacity="0.93"/>
<circle cx="68.1" cy="70.6" r="1.75" fill="#ff7f0e" fill-opacity="0.93"/>
<circle cx="58.3" cy="76.7" r="1.75" fill="#ff7f0e" fill-opacity="0.93"/>
<circle cx="61.3" cy="81.7" r="1.75" fill="#ff7f0e" fill-opacity="0.93"/>
<circle cx="65.9" cy="89.6" r="1.75" fill="#ff7f0e" fill-opacity="0.93"/>
<circle cx="59.6" cy="64.5" r="1.75" fill="#dbdb8d" fill-opacity="0.93"/>
<circle cx="69.2" cy="66.8" r="1.75" fill="#dbdb8d" fill-opacity="0.93"/>
<circle cx="82.6" cy="65.6" r="1.75" fill="#dbdb8d" fill-opacity="0.93"/>
<circle cx="64.7" cy="74.4" r="1.75" fill="#dbdb8d" fill-opacity="0.93"/>
<circle cx="71.9" cy="78.2" r="1.75" fill="#dbdb8d" fill-opacity="0.93"/>
<circle cx="83.6" cy="79.2" r="1.75" fill="#dbdb8d" fill-opacity="0.93"/>
<circle cx="77.3" cy="66.8" r="1.75" fill="#e377c2" fill-opacity="0.93"/>
<circle cx="101.1" cy="70.3" r="1.75" fill="#e377c2" fill-opacity="0.93"/>
<circle cx="96.8" cy="75.5" r="1.75" fill="#e377c2" fill-opacity="0.93"/>
<circle cx="111.4" cy="72.4" r="1.75" fill="#e377c2" fill-opacity="0.93"/>
<circle cx="84.4" cy="82.4" r="1.75" fill="#e377c2" fill-opacity="0.93"/>
<circle cx="95.8" cy="93.4" r="1.75" fill="#e377c2" fill-opacity="0.93"/>
<circle cx="79.8" cy="67.3" r="1.75" fill="#9467bd" fill-opacity="0.93"/>
<circle cx="106.4" cy="83.5" r="1.75" fill="#17becf" fill-opacity="0.93"/>
<circle cx="110.7" cy="45.5" r="1.75" fill="#9edae5" fill-opacity="0.93"/>
<circle cx="99.6" cy="86.5" r="1.75" fill="#9edae5" fill-opacity="0.93"/>
<circle cx="35.2" cy="83.0" r="1.75" fill="#1f77b4" fill-opacity="0.93"/>
<circle cx="31.7" cy="87.3" r="1.75" fill="#1f77b4" fill-opacity="0.93"/>
<circle cx="27.5" cy="90.3" r="1.75" fill="#1f77b4" fill-opacity="0.93"/>
<circle cx="24.7" cy="94.1" r="1.75" fill="#1f77b4" fill-opacity="0.93"/>
<circle cx="39.6" cy="91.1" r="1.75" fill="#1f77b4" fill-opacity="0.93"/>
<circle cx="44.2" cy="90.8" r="1.75" fill="#1f77b4" fill-opacity="0.93"/>
<circle cx="43.1" cy="93.8" r="1.75" fill="#1f77b4" fill-opacity="0.93"/>
<circle cx="60.1" cy="90.8" r="1.75" fill="#7f7f7f" fill-opacity="0.93"/>
<circle cx="73.0" cy="86.2" r="1.75" fill="#7f7f7f" fill-opacity="0.93"/>
<circle cx="197.4" cy="21.6" r="1.75" fill="#1f77b4" fill-opacity="0.93"/>
<circle cx="191.6" cy="27.0" r="1.75" fill="#1f77b4" fill-opacity="0.93"/>
<circle cx="167.3" cy="29.6" r="1.75" fill="#1f77b4" fill-opacity="0.93"/>
<circle cx="174.1" cy="33.4" r="1.75" fill="#1f77b4" fill-opacity="0.93"/>
<circle cx="186.0" cy="32.6" r="1.75" fill="#1f77b4" fill-opacity="0.93"/>
<circle cx="189.0" cy="34.9" r="1.75" fill="#1f77b4" fill-opacity="0.93"/>
<circle cx="177.3" cy="36.0" r="1.75" fill="#1f77b4" fill-opacity="0.93"/>
<circle cx="169.3" cy="38.3" r="1.75" fill="#1f77b4" fill-opacity="0.93"/>
<circle cx="177.6" cy="38.4" r="1.75" fill="#1f77b4" fill-opacity="0.93"/>
<circle cx="173.4" cy="41.7" r="1.75" fill="#1f77b4" fill-opacity="0.93"/>
<circle cx="177.9" cy="41.4" r="1.75" fill="#1f77b4" fill-opacity="0.93"/>
<circle cx="180.2" cy="43.7" r="1.75" fill="#1f77b4" fill-opacity="0.93"/>
<circle cx="183.7" cy="49.3" r="1.75" fill="#1f77b4" fill-opacity="0.93"/>
<circle cx="176.9" cy="61.3" r="1.75" fill="#1f77b4" fill-opacity="0.93"/>
<circle cx="167.3" cy="34.2" r="1.75" fill="#9467bd" fill-opacity="0.93"/>
<circle cx="146.1" cy="43.0" r="1.75" fill="#9467bd" fill-opacity="0.93"/>
<circle cx="165.2" cy="45.1" r="1.75" fill="#9467bd" fill-opacity="0.93"/>
<circle cx="146.2" cy="47.5" r="1.75" fill="#9467bd" fill-opacity="0.93"/>
<circle cx="157.4" cy="46.6" r="1.75" fill="#9467bd" fill-opacity="0.93"/>
<circle cx="148.3" cy="50.1" r="1.75" fill="#9467bd" fill-opacity="0.93"/>
<circle cx="168.5" cy="61.0" r="1.75" fill="#9467bd" fill-opacity="0.93"/>
<circle cx="168.1" cy="64.8" r="1.75" fill="#9467bd" fill-opacity="0.93"/>
<circle cx="168.5" cy="10.9" r="1.75" fill="#c49c94" fill-opacity="0.93"/>
<circle cx="140.9" cy="31.4" r="1.75" fill="#c49c94" fill-opacity="0.93"/>
<circle cx="144.7" cy="34.6" r="1.75" fill="#c49c94" fill-opacity="0.93"/>
<circle cx="149.1" cy="33.4" r="1.75" fill="#c49c94" fill-opacity="0.93"/>
<circle cx="159.0" cy="39.8" r="1.75" fill="#c49c94" fill-opacity="0.93"/>
<circle cx="133.1" cy="54.2" r="1.75" fill="#c49c94" fill-opacity="0.93"/>
<circle cx="136.3" cy="57.7" r="1.75" fill="#c49c94" fill-opacity="0.93"/>
<circle cx="130.9" cy="31.0" r="1.75" fill="#9edae5" fill-opacity="0.93"/>
<circle cx="110.5" cy="45.2" r="1.75" fill="#9edae5" fill-opacity="0.93"/>
<circle cx="116.4" cy="59.7" r="1.75" fill="#c5b0d5" fill-opacity="0.93"/>
<circle cx="126.3" cy="68.3" r="1.75" fill="#c5b0d5" fill-opacity="0.93"/>
<circle cx="143.2" cy="66.3" r="1.75" fill="#c5b0d5" fill-opacity="0.93"/>
<circle cx="128.6" cy="73.6" r="1.75" fill="#c5b0d5" fill-opacity="0.93"/>
<circle cx="132.5" cy="76.4" r="1.75" fill="#c5b0d5" fill-opacity="0.93"/>
<circle cx="151.4" cy="73.6" r="1.75" fill="#c5b0d5" fill-opacity="0.93"/>
<circle cx="169.3" cy="77.9" r="1.75" fill="#c5b0d5" fill-opacity="0.93"/>
<circle cx="142.7" cy="80.0" r="1.75" fill="#c5b0d5" fill-opacity="0.93"/>
<circle cx="134.4" cy="88.4" r="1.75" fill="#c5b0d5" fill-opacity="0.93"/>
<circle cx="154.1" cy="67.3" r="1.75" fill="#8c564b" fill-opacity="0.93"/>
<circle cx="166.5" cy="70.6" r="1.75" fill="#8c564b" fill-opacity="0.93"/>
<circle cx="140.7" cy="74.4" r="1.75" fill="#8c564b" fill-opacity="0.93"/>
<circle cx="137.7" cy="75.9" r="1.75" fill="#8c564b" fill-opacity="0.93"/>
<circle cx="147.3" cy="78.5" r="1.75" fill="#8c564b" fill-opacity="0.93"/>
<circle cx="138.2" cy="79.2" r="1.75" fill="#8c564b" fill-opacity="0.93"/>
<circle cx="115.7" cy="78.2" r="1.75" fill="#8c564b" fill-opacity="0.93"/>
<circle cx="121.0" cy="83.2" r="1.75" fill="#8c564b" fill-opacity="0.93"/>
<circle cx="124.5" cy="85.8" r="1.75" fill="#8c564b" fill-opacity="0.93"/>
<circle cx="128.3" cy="87.0" r="1.75" fill="#8c564b" fill-opacity="0.93"/>
<circle cx="119.2" cy="89.3" r="1.75" fill="#8c564b" fill-opacity="0.93"/>
<circle cx="154.1" cy="89.6" r="1.75" fill="#8c564b" fill-opacity="0.93"/>
<circle cx="131.3" cy="96.4" r="1.75" fill="#8c564b" fill-opacity="0.93"/>
<circle cx="148.0" cy="99.4" r="1.75" fill="#8c564b" fill-opacity="0.93"/>
<circle cx="129.0" cy="82.0" r="1.75" fill="#bcbd22" fill-opacity="0.93"/>
<circle cx="124.2" cy="93.7" r="1.75" fill="#bcbd22" fill-opacity="0.93"/>
<circle cx="140.9" cy="82.7" r="1.75" fill="#ffbb78" fill-opacity="0.93"/>
<circle cx="148.8" cy="91.8" r="1.75" fill="#ffbb78" fill-opacity="0.93"/>
<circle cx="155.6" cy="93.8" r="1.75" fill="#ffbb78" fill-opacity="0.93"/>
<circle cx="159.0" cy="92.6" r="1.75" fill="#ffbb78" fill-opacity="0.93"/>
<circle cx="150.0" cy="95.3" r="1.75" fill="#ffbb78" fill-opacity="0.93"/>
<circle cx="172.3" cy="93.1" r="1.75" fill="#aec7e8" fill-opacity="0.93"/>
<circle cx="111.3" cy="72.4" r="1.75" fill="#e377c2" fill-opacity="0.93"/>
<circle cx="118.0" cy="96.4" r="1.75" fill="#e377c2" fill-opacity="0.93"/>
<circle cx="106.3" cy="83.5" r="1.75" fill="#17becf" fill-opacity="0.93"/>
<circle cx="21.4" cy="98.4" r="1.75" fill="#1f77b4" fill-opacity="0.93"/>
<circle cx="29.4" cy="98.0" r="1.75" fill="#1f77b4" fill-opacity="0.93"/>
<circle cx="33.5" cy="100.2" r="1.75" fill="#1f77b4" fill-opacity="0.93"/>
<circle cx="39.3" cy="100.2" r="1.75" fill="#1f77b4" fill-opacity="0.93"/>
<circle cx="34.0" cy="103.6" r="1.75" fill="#1f77b4" fill-opacity="0.93"/>
<circle cx="25.2" cy="105.1" r="1.75" fill="#1f77b4" fill-opacity="0.93"/>
<circle cx="24.4" cy="110.6" r="1.75" fill="#1f77b4" fill-opacity="0.93"/>
<circle cx="31.6" cy="112.4" r="1.75" fill="#1f77b4" fill-opacity="0.93"/>
<circle cx="44.6" cy="105.5" r="1.75" fill="#1f77b4" fill-opacity="0.93"/>
<circle cx="52.5" cy="108.1" r="1.75" fill="#1f77b4" fill-opacity="0.93"/>
<circle cx="50.7" cy="111.2" r="1.75" fill="#1f77b4" fill-opacity="0.93"/>
<circle cx="62.7" cy="110.9" r="1.75" fill="#9edae5" fill-opacity="0.93"/>
<circle cx="76.3" cy="104.0" r="1.75" fill="#9edae5" fill-opacity="0.93"/>
<circle cx="77.3" cy="109.6" r="1.75" fill="#f7b6d2" fill-opacity="0.93"/>
<circle cx="86.4" cy="122.2" r="1.75" fill="#f7b6d2" fill-opacity="0.93"/>
<circle cx="90.2" cy="124.5" r="1.75" fill="#f7b6d2" fill-opacity="0.93"/>
<circle cx="100.8" cy="111.6" r="1.75" fill="#f7b6d2" fill-opacity="0.93"/>
<circle cx="109.4" cy="119.2" r="1.75" fill="#f7b6d2" fill-opacity="0.93"/>
<circle cx="85.9" cy="104.5" r="1.75" fill="#98df8a" fill-opacity="0.93"/>
<circle cx="92.0" cy="109.0" r="1.75" fill="#98df8a" fill-opacity="0.93"/>
<circle cx="94.7" cy="101.3" r="1.75" fill="#98df8a" fill-opacity="0.93"/>
<circle cx="104.1" cy="111.6" r="1.75" fill="#98df8a" fill-opacity="0.93"/>
<circle cx="110.2" cy="101.7" r="1.75" fill="#98df8a" fill-opacity="0.93"/>
<circle cx="110.2" cy="113.1" r="1.75" fill="#98df8a" fill-opacity="0.93"/>
<circle cx="100.3" cy="128.6" r="1.75" fill="#98df8a" fill-opacity="0.93"/>
<circle cx="107.2" cy="123.0" r="1.75" fill="#98df8a" fill-opacity="0.93"/>
<circle cx="95.8" cy="104.0" r="1.75" fill="#17becf" fill-opacity="0.93"/>
<circle cx="98.5" cy="120.7" r="1.75" fill="#17becf" fill-opacity="0.93"/>
<circle cx="113.7" cy="124.5" r="1.75" fill="#17becf" fill-opacity="0.93"/>
<circle cx="105.9" cy="105.5" r="1.75" fill="#bcbd22" fill-opacity="0.93"/>
<circle cx="68.1" cy="98.4" r="1.75" fill="#7f7f7f" fill-opacity="0.93"/>
<circle cx="104.9" cy="92.6" r="1.75" fill="#7f7f7f" fill-opacity="0.93"/>
<circle cx="157.4" cy="100.7" r="1.75" fill="#ffbb78" fill-opacity="0.93"/>
<circle cx="172.3" cy="104.8" r="1.75" fill="#ffbb78" fill-opacity="0.93"/>
<circle cx="170.0" cy="112.1" r="1.75" fill="#ffbb78" fill-opacity="0.93"/>
<circle cx="159.7" cy="120.0" r="1.75" fill="#ffbb78" fill-opacity="0.93"/>
<circle cx="156.7" cy="123.8" r="1.75" fill="#ffbb78" fill-opacity="0.93"/>
<circle cx="154.1" cy="140.9" r="1.75" fill="#ffbb78" fill-opacity="0.93"/>
<circle cx="164.7" cy="108.1" r="1.75" fill="#aec7e8" fill-opacity="0.93"/>
<circle cx="158.7" cy="109.0" r="1.75" fill="#aec7e8" fill-opacity="0.93"/>
<circle cx="130.1" cy="112.4" r="1.75" fill="#aec7e8" fill-opacity="0.93"/>
<circle cx="124.5" cy="120.7" r="1.75" fill="#aec7e8" fill-opacity="0.93"/>
<circle cx="137.1" cy="120.7" r="1.75" fill="#aec7e8" fill-opacity="0.93"/>
<circle cx="148.8" cy="122.5" r="1.75" fill="#aec7e8" fill-opacity="0.93"/>
<circle cx="152.3" cy="120.3" r="1.75" fill="#aec7e8" fill-opacity="0.93"/>
<circle cx="146.5" cy="127.9" r="1.75" fill="#aec7e8" fill-opacity="0.93"/>
<circle cx="152.3" cy="131.4" r="1.75" fill="#aec7e8" fill-opacity="0.93"/>
<circle cx="156.8" cy="132.6" r="1.75" fill="#aec7e8" fill-opacity="0.93"/>
<circle cx="157.9" cy="135.9" r="1.75" fill="#aec7e8" fill-opacity="0.93"/>
<circle cx="148.0" cy="99.5" r="1.75" fill="#8c564b" fill-opacity="0.93"/>
<circle cx="149.2" cy="101.3" r="1.75" fill="#8c564b" fill-opacity="0.93"/>
<circle cx="138.9" cy="106.6" r="1.75" fill="#8c564b" fill-opacity="0.93"/>
<circle cx="117.2" cy="107.1" r="1.75" fill="#8c564b" fill-opacity="0.93"/>
<circle cx="131.0" cy="104.0" r="1.75" fill="#bcbd22" fill-opacity="0.93"/>
<circle cx="135.1" cy="105.2" r="1.75" fill="#bcbd22" fill-opacity="0.93"/>
<circle cx="152.3" cy="104.5" r="1.75" fill="#bcbd22" fill-opacity="0.93"/>
<circle cx="152.3" cy="110.1" r="1.75" fill="#ff9896" fill-opacity="0.93"/>
<circle cx="116.9" cy="121.5" r="1.75" fill="#ff9896" fill-opacity="0.93"/>
<circle cx="118.1" cy="132.1" r="1.75" fill="#ff9896" fill-opacity="0.93"/>
<circle cx="122.2" cy="136.4" r="1.75" fill="#ff9896" fill-opacity="0.93"/>
<circle cx="125.7" cy="139.7" r="1.75" fill="#ff9896" fill-opacity="0.93"/>
<circle cx="135.4" cy="143.2" r="1.75" fill="#ff9896" fill-opacity="0.93"/>
<circle cx="138.9" cy="135.1" r="1.75" fill="#ff9896" fill-opacity="0.93"/>
<circle cx="142.4" cy="136.7" r="1.75" fill="#ff9896" fill-opacity="0.93"/>
<circle cx="139.7" cy="138.6" r="1.75" fill="#ff9896" fill-opacity="0.93"/>
<circle cx="113.1" cy="99.0" r="1.75" fill="#f7b6d2" fill-opacity="0.93"/>
<circle cx="125.3" cy="115.7" r="1.75" fill="#f7b6d2" fill-opacity="0.93"/>
<circle cx="109.0" cy="119.2" r="1.75" fill="#f7b6d2" fill-opacity="0.93"/>
<circle cx="110.4" cy="101.4" r="1.75" fill="#98df8a" fill-opacity="0.93"/>
<circle cx="110.4" cy="112.8" r="1.75" fill="#98df8a" fill-opacity="0.93"/>
<circle cx="107.0" cy="123.0" r="1.75" fill="#98df8a" fill-opacity="0.93"/>
<circle cx="133.1" cy="111.9" r="1.75" fill="#7f7f7f" fill-opacity="0.93"/>
<circle cx="75.8" cy="74.4" r="1.75" fill="#c7c7c7" fill-opacity="0.93"/>
<circle cx="69.2" cy="83.7" r="1.75" fill="#c7c7c7" fill-opacity="0.93"/>
<circle cx="86.8" cy="69.4" r="1.75" fill="#c7c7c7" fill-opacity="0.93"/>
<circle cx="103.7" cy="65.2" r="1.75" fill="#c7c7c7" fill-opacity="0.93"/>
<circle cx="92.2" cy="65.8" r="1.75" fill="#c7c7c7" fill-opacity="0.93"/>
<circle cx="106.7" cy="71.7" r="1.75" fill="#c7c7c7" fill-opacity="0.93"/>
<circle cx="95.7" cy="82.1" r="1.75" fill="#c7c7c7" fill-opacity="0.93"/>
<circle cx="91.1" cy="90.9" r="1.75" fill="#c7c7c7" fill-opacity="0.93"/>
<circle cx="91.9" cy="93.2" r="1.75" fill="#c7c7c7" fill-opacity="0.93"/>
<circle cx="108.3" cy="94.3" r="1.75" fill="#c7c7c7" fill-opacity="0.93"/>
<circle cx="93.0" cy="100.4" r="1.75" fill="#c7c7c7" fill-opacity="0.93"/>
<circle cx="102.9" cy="102.4" r="1.75" fill="#c7c7c7" fill-opacity="0.93"/>
<circle cx="106.0" cy="97.5" r="1.75" fill="#c7c7c7" fill-opacity="0.93"/>
</g><g>
<path d="M312.8,11.3L319.2,11.3M312.8,11.3L322.6,18.8M312.8,11.3L305.9,23.0M312.8,11.3L302.1,44.7M319.2,11.3L322.6,18.8M319.2,11.3L305.9,23.0M319.2,11.3L314.0,27.0M319.2,11.3L304.8,51.6M319.2,11.3L342.1,44.4M319.2,11.3L390.9,118.3M319.2,11.3L323.9,64.8M322.6,18.8L305.9,23.0M322.6,18.8L314.0,27.0M322.6,18.8L318.1,29.6M322.6,18.8L291.6,63.5M305.9,23.0L314.0,27.0M305.9,23.0L318.1,29.6M305.9,23.0L304.8,51.6M305.9,23.0L311.6,66.2M314.0,27.0L318.1,29.6M314.0,27.0L313.1,35.7M314.0,27.0L322.2,47.3M314.0,27.0L348.0,58.7M318.1,29.6L322.6,34.1M318.1,29.6L313.1,35.7M318.1,29.6L310.4,47.0M318.1,29.6L314.3,64.5M318.1,29.6L311.6,66.2M318.1,29.6L342.1,44.4M322.6,34.1L328.5,41.3M322.6,34.1L313.1,35.7M322.6,34.1L299.1,48.2M322.6,34.1L326.7,37.2M322.6,34.1L314.3,64.5M322.6,34.1L360.0,72.5M328.5,41.3L326.7,37.2M328.5,41.3L332.4,42.9M328.5,41.3L322.2,47.3M328.5,41.3L348.0,58.7M337.6,46.7L331.2,64.5M337.6,46.7L332.4,42.9M337.6,46.7L318.1,47.7M337.6,46.7L336.8,52.5M337.6,46.7L343.0,68.0M337.6,46.7L314.3,64.5M337.6,46.7L342.2,44.7M337.6,46.7L304.8,84.9M337.6,46.7L342.1,44.4M337.6,46.7L353.7,134.5M309.4,49.7L299.1,48.2M309.4,49.7L310.4,47.0M309.4,49.7L304.8,51.6M309.4,49.7L326.7,37.2M309.4,49.7L324.9,49.2M309.4,49.7L306.3,48.9M309.4,49.7L336.8,52.5M309.4,49.7L309.1,65.7M309.4,49.7L311.6,66.2M313.1,35.7L326.7,37.2M313.1,35.7L342.0,111.2M302.1,44.7L299.1,48.2M302.1,44.7L299.3,51.5M302.1,44.7L306.3,48.9M302.1,44.7L277.7,45.9M302.1,44.7L272.0,53.7M302.1,44.7L362.3,30.3M302.1,44.7L349.6,130.3M302.1,44.7L327.4,80.9M299.1,48.2L299.3,51.5M299.1,48.2L304.8,51.6M299.1,48.2L324.9,49.2M299.1,48.2L316.6,55.5M299.1,48.2L296.5,73.2M299.1,48.2L307.6,73.3M310.4,47.0L304.8,51.6M310.4,47.0L326.7,37.2M310.4,47.0L318.1,47.7M310.4,47.0L306.3,48.9M310.4,47.0L336.8,52.5M310.4,47.0L372.3,81.5M310.4,47.0L395.9,106.6M310.4,47.0L383.6,103.0M299.3,51.5L304.8,51.6M299.3,51.5L298.5,56.1M299.3,51.5L291.6,63.5M299.3,51.5L311.6,66.2M299.3,51.5L307.6,73.3M304.8,51.6L298.5,56.1M304.8,51.6L323.2,61.5M304.8,51.6L318.1,47.7M304.8,51.6L306.3,48.9M304.8,51.6L280.4,59.0M304.8,51.6L303.6,59.1M304.8,51.6L301.1,65.7M304.8,51.6L338.8,121.3M298.5,56.1L322.2,47.3M298.5,56.1L324.9,49.2M298.5,56.1L321.4,51.8M298.5,56.1L303.6,59.1M298.5,56.1L291.6,63.5M298.5,56.1L301.1,65.7M298.5,56.1L315.4,78.0M323.2,61.5L331.2,64.5M323.2,61.5L326.7,37.2M323.2,61.5L321.4,51.8M323.2,61.5L316.6,55.5M323.2,61.5L301.1,82.4M323.2,61.5L318.6,68.3M323.2,61.5L323.9,64.8M323.2,61.5L327.4,80.9M332.7,60.0L331.2,64.5M332.7,60.0L326.7,37.2M332.7,60.0L336.8,52.5M332.7,60.0L348.7,105.5M332.7,60.0L335.3,64.2M331.2,64.5L322.2,47.3M331.2,64.5L332.7,69.2M331.2,64.5L328.5,74.3M331.2,64.5L259.6,89.0M331.2,64.5L335.3,64.2M331.2,64.5L323.9,64.8M318.7,93.5L296.5,73.2M318.7,93.5L315.4,78.0M318.7,93.5L263.8,86.0M318.7,93.5L282.7,109.6M318.7,93.5L335.7,110.0M318.7,93.5L322.8,89.5M318.7,93.5L323.6,91.8M318.7,93.5L324.6,98.9M318.7,93.5L337.6,96.0M334.7,86.7L332.7,69.2M334.7,86.7L338.0,82.2M334.7,86.7L331.2,85.2M334.7,86.7L379.6,49.2M334.7,86.7L347.2,77.0M334.7,86.7L359.7,85.7M334.7,86.7L337.9,82.2M334.7,86.7L336.5,91.3M334.7,86.7L335.3,64.2M334.7,86.7L327.4,80.9M334.7,86.7L334.5,100.9M326.7,37.2L332.4,42.9M332.4,42.9L340.6,117.5M318.1,47.7L322.2,47.3M318.1,47.7L324.9,49.2M318.1,47.7L321.4,51.8M318.1,47.7L316.6,55.5M318.1,47.7L300.0,69.5M318.1,47.7L309.1,65.7M318.1,47.7L332.7,69.2M318.1,47.7L335.3,64.2M322.2,47.3L324.9,49.2M322.2,47.3L321.4,51.8M322.2,47.3L314.3,64.5M322.2,47.3L332.7,69.2M324.9,49.2L321.4,51.8M324.9,49.2L336.8,52.5M324.9,49.2L314.3,64.5M324.9,49.2L328.5,74.3M324.9,49.2L335.3,64.2M306.3,48.9L275.1,92.4M306.3,48.9L318.6,68.3M321.4,51.8L316.6,55.5M321.4,51.8L300.0,69.5M321.4,51.8L342.2,44.7M321.4,51.8L342.1,44.4M316.6,55.5L301.1,65.7M316.6,55.5L314.3,64.5M316.6,55.5L307.6,73.3M316.6,55.5L335.3,64.2M336.8,52.5L332.7,69.2M336.8,52.5L342.2,44.7M336.8,52.5L342.1,44.4M336.8,52.5L348.0,58.7M343.0,68.0L343.0,71.3M343.0,68.0L342.2,44.7M343.0,68.0L367.7,56.7M343.0,68.0L348.0,58.7M343.0,68.0L347.2,77.0M343.0,68.0L352.5,81.9M343.0,68.0L359.7,85.7M343.0,68.0L342.9,71.3M343.0,68.0L341.8,111.5M343.0,68.0L338.3,70.5M343.0,68.0L327.4,80.9M277.7,45.9L272.0,53.7M277.7,45.9L280.4,59.0M277.7,45.9L273.2,62.3M277.7,45.9L264.4,72.3M272.0,53.7L280.4,59.0M272.0,53.7L273.2,62.3M272.0,53.7L293.2,80.4M272.0,53.7L256.9,92.7M280.4,59.0L273.2,62.3M280.4,59.0L282.2,63.8M280.4,59.0L297.8,88.2M280.4,59.0L385.4,139.0M273.2,62.3L282.2,63.8M273.2,62.3L264.4,72.3M273.2,62.3L259.6,89.0M273.2,62.3L265.6,98.8M282.2,63.8L293.2,80.4M282.2,63.8L291.6,63.5M282.2,63.8L309.1,65.7M282.2,63.8L311.6,66.2M264.4,72.3L267.3,81.8M264.4,72.3L263.8,86.0M264.4,72.3L259.6,89.0M303.6,59.1L301.1,65.7M303.6,59.1L311.6,66.2M300.0,69.5L290.2,75.5M300.0,69.5L301.1,65.7M300.0,69.5L296.5,73.2M300.0,69.5L303.8,77.0M300.0,69.5L309.1,65.7M290.2,75.5L293.2,80.4M290.2,75.5L296.5,73.2M290.2,75.5L303.8,77.0M290.2,75.5L311.6,66.2M290.2,75.5L271.7,89.7M290.2,75.5L276.2,89.4M290.2,75.5L338.8,121.3M290.2,75.5L357.2,137.8M290.2,75.5L307.6,73.3M293.2,80.4L296.5,73.2M293.2,80.4L303.8,77.0M293.2,80.4L292.0,89.4M293.2,80.4L294.6,109.3M293.2,80.4L301.1,82.4M297.8,88.2L296.5,73.2M297.8,88.2L256.9,92.7M297.8,88.2L292.0,89.4M297.8,88.2L304.8,84.9M297.8,88.2L308.2,102.5M297.8,88.2L300.0,97.0M297.8,88.2L301.1,82.4M291.6,63.5L301.1,65.7M291.6,63.5L303.8,77.0M291.6,63.5L309.1,65.7M291.6,63.5L342.0,111.2M301.1,65.7L296.5,73.2M301.1,65.7L303.8,77.0M301.1,65.7L309.1,65.7M301.1,65.7L316.1,81.2M301.1,65.7L311.6,66.2M314.3,64.5L309.1,65.7M314.3,64.5L311.6,66.2M314.3,64.5L304.8,84.9M314.3,64.5L347.2,77.0M314.3,64.5L253.6,97.0M314.3,64.5L318.6,68.3M296.5,73.2L303.8,77.0M296.5,73.2L265.6,98.8M296.5,73.2L276.7,104.0M296.5,73.2L318.1,120.5M296.5,73.2L321.9,122.8M296.5,73.2L340.6,117.5M303.8,77.0L304.8,84.9M303.8,77.0L265.6,98.8M303.8,77.0L307.6,73.3M303.8,77.0L301.1,82.4M303.8,77.0L323.9,64.8M303.8,77.0L323.6,91.8M315.4,78.0L316.1,81.2M315.4,78.0L282.7,109.6M315.4,78.0L309.1,108.1M315.4,78.0L317.7,103.0M315.4,78.0L307.6,73.3M315.4,78.0L318.6,68.3M315.4,78.0L335.3,64.2M315.4,78.0L322.8,89.5M309.1,65.7L311.6,66.2M309.1,65.7L300.0,97.0M309.1,65.7L307.6,73.3M332.7,69.2L328.5,74.3M332.7,69.2L335.3,64.2M332.7,69.2L338.3,70.5M328.5,74.3L343.0,71.3M328.5,74.3L316.1,81.2M328.5,74.3L311.6,66.2M328.5,74.3L318.6,68.3M328.5,74.3L327.4,80.9M328.5,74.3L322.8,89.5M343.0,71.3L347.2,77.0M343.0,71.3L342.9,71.3M343.0,71.3L337.9,82.2M343.0,71.3L389.1,134.0M343.0,71.3L338.3,70.5M316.1,81.2L292.0,89.4M316.1,81.2L357.8,67.2M316.1,81.2L308.2,102.5M316.1,81.2L300.0,97.0M316.1,81.2L327.4,80.9M316.1,81.2L322.8,89.5M327.5,92.0L342.9,71.3M327.5,92.0L326.4,99.8M327.5,92.0L341.8,100.3M327.5,92.0L322.8,89.5M327.5,92.0L323.6,91.8M327.5,92.0L324.6,98.9M327.5,92.0L337.6,96.0M311.6,66.2L307.6,73.3M311.6,66.2L318.6,68.3M338.0,82.2L331.2,85.2M338.0,82.2L347.2,77.0M338.0,82.2L342.9,71.3M338.0,82.2L337.9,82.2M342.2,44.7L342.1,44.4M342.2,44.7L348.0,58.7M342.2,44.7L348.4,119.8M342.2,44.7L338.3,70.5M331.2,85.2L259.6,89.0M331.2,85.2L337.9,82.2M331.2,85.2L323.7,107.5M331.2,85.2L395.9,106.6M331.2,85.2L335.3,64.2M331.2,85.2L327.4,80.9M267.3,81.8L263.8,86.0M267.3,81.8L259.6,89.0M267.3,81.8L256.9,92.7M267.3,81.8L271.7,89.7M267.3,81.8L276.2,89.4M267.3,81.8L266.1,102.1M267.3,81.8L257.4,103.6M267.3,81.8L284.5,106.6M267.3,81.8L326.4,99.8M263.8,86.0L259.6,89.0M263.8,86.0L256.9,92.7M263.8,86.0L271.7,89.7M263.8,86.0L276.2,89.4M263.8,86.0L284.5,106.6M259.6,89.0L256.9,92.7M259.6,89.0L253.6,97.0M259.6,89.0L261.6,96.5M259.6,89.0L265.6,98.8M256.9,92.7L253.6,97.0M256.9,92.7L261.6,96.5M256.9,92.7L265.6,98.8M256.9,92.7L257.4,103.6M256.9,92.7L256.6,109.0M271.7,89.7L276.2,89.4M271.7,89.7L275.1,92.4M271.7,89.7L261.6,96.5M271.7,89.7L265.6,98.8M271.7,89.7L271.4,98.8M271.7,89.7L263.7,110.8M271.7,89.7L383.6,103.0M276.2,89.4L275.1,92.4M276.2,89.4L378.6,77.3M276.2,89.4L261.6,96.5M276.2,89.4L271.4,98.8M276.2,89.4L266.1,102.1M276.2,89.4L256.6,109.0M276.2,89.4L276.7,104.0M276.2,89.4L284.5,106.6M276.2,89.4L282.7,109.6M276.2,89.4L301.1,82.4M275.1,92.4L265.6,98.8M275.1,92.4L271.4,98.8M292.0,89.4L304.8,84.9M292.0,89.4L309.1,108.1M292.0,89.4L300.0,97.0M304.8,84.9L357.8,67.2M304.8,84.9L301.1,82.4M428.3,21.0L422.6,26.4M428.3,21.0L398.5,29.0M428.3,21.0L405.3,32.7M428.3,21.0L417.0,32.0M428.3,21.0L420.0,34.2M428.3,21.0L408.4,35.3M428.3,21.0L400.4,37.5M428.3,21.0L408.7,37.7M428.3,21.0L411.3,42.9M428.3,21.0L414.8,48.5M428.3,21.0L388.7,45.8M428.3,21.0L332.0,126.8M428.3,21.0L348.7,105.5M422.6,26.4L417.0,32.0M422.6,26.4L420.0,34.2M422.6,26.4L398.5,33.5M398.5,29.0L405.3,32.7M398.5,29.0L408.4,35.3M398.5,29.0L400.4,37.5M398.5,29.0L398.5,33.5M398.5,29.0L396.4,44.3M398.5,29.0L376.0,33.9M398.5,29.0L362.3,30.3M398.5,29.0L357.8,67.2M405.3,32.7L417.0,32.0M405.3,32.7L408.4,35.3M405.3,32.7L400.4,37.5M405.3,32.7L408.7,37.7M405.3,32.7L404.5,41.0M405.3,32.7L411.3,42.9M405.3,32.7L414.8,48.5M405.3,32.7L398.5,33.5M405.3,32.7L396.4,44.3M417.0,32.0L420.0,34.2M417.0,32.0L408.4,35.3M417.0,32.0L408.7,37.7M417.0,32.0L409.0,40.7M417.0,32.0L411.3,42.9M417.0,32.0L367.7,56.7M417.0,32.0L378.6,77.3M417.0,32.0L362.8,95.0M417.0,32.0L389.1,134.0M420.0,34.2L408.4,35.3M420.0,34.2L400.4,37.5M420.0,34.2L409.0,40.7M420.0,34.2L399.7,60.0M408.4,35.3L408.7,37.7M408.4,35.3L404.5,41.0M408.4,35.3L409.0,40.7M408.4,35.3L411.3,42.9M408.4,35.3L377.5,46.7M408.4,35.3L361.6,110.8M400.4,37.5L408.7,37.7M400.4,37.5L404.5,41.0M400.4,37.5L411.3,42.9M400.4,37.5L398.5,33.5M400.4,37.5L396.4,44.3M400.4,37.5L399.7,60.0M400.4,37.5L372.3,30.8M400.4,37.5L364.6,53.3M400.4,37.5L362.3,30.3M400.4,37.5L397.7,69.5M400.4,37.5L271.4,98.8M408.7,37.7L404.5,41.0M408.7,37.7L409.0,40.7M408.7,37.7L411.3,42.9M408.7,37.7L414.8,48.5M408.7,37.7L399.7,10.5M408.7,37.7L397.7,69.5M404.5,41.0L409.0,40.7M404.5,41.0L411.3,42.9M404.5,41.0L414.8,48.5M404.5,41.0L377.4,42.2M404.5,41.0L388.7,45.8M404.5,41.0L383.6,108.5M409.0,40.7L411.3,42.9M409.0,40.7L414.8,48.5M409.0,40.7L367.7,56.7M409.0,40.7L362.3,30.3M409.0,40.7L366.8,141.2M411.3,42.9L414.8,48.5M411.3,42.9L408.0,60.3M411.3,42.9L361.6,110.8M411.3,42.9L342.0,111.2M414.8,48.5L408.0,60.3M414.8,48.5L396.4,44.3M414.8,48.5L376.0,33.9M414.8,48.5L403.5,91.7M408.0,60.3L399.7,60.0M408.0,60.3L399.2,63.8M408.0,60.3L380.4,32.7M408.0,60.3L382.7,72.5M408.0,60.3L400.4,76.7M408.0,60.3L385.4,66.2M408.0,60.3L403.5,91.7M398.5,33.5L379.6,49.2M398.5,33.5L390.2,39.0M398.5,33.5L337.9,82.2M377.4,42.2L377.5,46.7M377.4,42.2L388.7,45.8M377.4,42.2L379.6,49.2M377.4,42.2L372.3,30.8M377.4,42.2L376.0,33.9M377.4,42.2L380.4,32.7M377.4,42.2L342.1,44.4M377.4,42.2L373.8,134.8M396.4,44.3L388.7,45.8M396.4,44.3L376.0,33.9M396.4,44.3L390.2,39.0M377.5,46.7L388.7,45.8M377.5,46.7L379.6,49.2M377.5,46.7L376.0,33.9M377.5,46.7L364.6,53.3M377.5,46.7L367.7,56.7M377.5,46.7L362.3,30.3M377.5,46.7L362.5,102.5M388.7,45.8L379.6,49.2M388.7,45.8L372.3,30.8M388.7,45.8L390.2,39.0M388.7,45.8L337.6,104.0M379.6,49.2L374.5,65.3M379.6,49.2L265.6,98.8M399.7,60.0L399.2,63.8M399.7,60.0L372.3,30.8M399.7,60.0L397.7,69.5M399.7,60.0L372.3,81.5M399.2,63.8L400.4,76.7M399.2,63.8L397.7,69.5M399.7,10.5L362.3,30.3M372.3,30.8L376.0,33.9M372.3,30.8L380.4,32.7M372.3,30.8L390.2,39.0M372.3,30.8L367.7,56.7M372.3,30.8L362.3,30.3M372.3,30.8L342.1,44.4M372.3,30.8L403.5,103.3M376.0,33.9L380.4,32.7M376.0,33.9L362.3,30.3M376.0,33.9L357.8,67.2M376.0,33.9L374.5,65.3M376.0,33.9L385.4,66.2M376.0,33.9L388.1,130.7M380.4,32.7L364.6,53.3M380.4,32.7L362.3,30.3M380.4,32.7L385.4,66.2M364.6,53.3L367.7,56.7M364.6,53.3L348.0,58.7M364.6,53.3L357.8,67.2M367.7,56.7L348.0,58.7M367.7,56.7L374.5,65.3M367.7,56.7L364.0,75.2M367.7,56.7L359.7,85.7M362.3,30.3L342.1,44.4M342.1,44.4L342.9,71.3M348.0,58.7L357.8,67.2M348.0,58.7L369.1,74.7M348.0,58.7L350.7,87.9M348.0,58.7L327.4,80.9M348.0,58.7L322.8,89.5M357.8,67.2L360.0,72.5M357.8,67.2L364.0,75.2M357.8,67.2L374.1,78.8M357.8,67.2L347.2,77.0M357.8,67.2L362.8,95.0M357.8,67.2L361.6,110.8M374.5,65.3L382.7,72.5M374.5,65.3L365.8,87.0M374.5,65.3L385.4,66.2M374.5,65.3L372.1,73.2M374.5,65.3L369.1,74.7M374.5,65.3L352.5,81.9M374.5,65.3L383.6,103.0M360.0,72.5L364.0,75.2M360.0,72.5L382.7,72.5M360.0,72.5L369.1,74.7M360.0,72.5L360.5,80.7M360.0,72.5L339.9,92.9M364.0,75.2L374.1,78.8M364.0,75.2L365.8,87.0M364.0,75.2L385.4,66.2M364.0,75.2L369.1,74.7M364.0,75.2L369.5,78.0M364.0,75.2L360.5,80.7M364.0,75.2L380.1,90.5M382.7,72.5L385.4,66.2M382.7,72.5L397.7,69.5M382.7,72.5L372.1,73.2M382.7,72.5L378.6,77.3M382.7,72.5L369.5,78.0M382.7,72.5L380.1,90.5M400.4,76.7L397.7,69.5M400.4,76.7L369.5,78.0M400.4,76.7L403.5,91.7M374.1,78.8L397.7,69.5M374.1,78.8L372.1,73.2M374.1,78.8L369.1,74.7M374.1,78.8L378.6,77.3M374.1,78.8L369.5,78.0M374.1,78.8L356.0,84.5M374.1,78.8L372.3,81.5M374.1,78.8L323.9,64.8M365.8,87.0L372.1,73.2M365.8,87.0L369.5,78.0M365.8,87.0L359.7,85.7M365.8,87.0L385.4,88.2M365.8,87.0L362.8,95.0M365.8,87.0L360.5,80.7M365.8,87.0L386.9,92.4M365.8,87.0L390.2,91.2M365.8,87.0L366.5,103.7M385.4,66.2L397.7,69.5M385.4,66.2L403.5,91.7M372.1,73.2L369.1,74.7M372.1,73.2L369.5,78.0M372.1,73.2L362.8,95.0M372.1,73.2L323.6,91.8M369.1,74.7L369.5,78.0M369.1,74.7L372.3,81.5M369.1,74.7L342.9,71.3M378.6,77.3L372.3,81.5M378.6,77.3L380.1,90.5M378.6,77.3L403.5,91.7M378.6,77.3L388.7,99.2M369.5,78.0L379.3,98.0M369.5,78.0L360.5,80.7M369.5,78.0L372.3,81.5M347.2,77.0L352.5,81.9M347.2,77.0L342.9,71.3M347.2,77.0L341.8,100.3M347.2,77.0L327.4,80.9M352.5,81.9L356.0,84.5M352.5,81.9L359.7,85.7M352.5,81.9L350.7,87.9M352.5,81.9L348.7,105.5M352.5,81.9L338.3,70.5M352.5,81.9L339.9,92.9M356.0,84.5L359.7,85.7M356.0,84.5L350.7,87.9M356.0,84.5L360.5,80.7M359.7,85.7L360.5,80.7M359.7,85.7L337.6,96.0M350.7,87.9L360.5,80.7M350.7,87.9L355.7,92.3M350.7,87.9L349.5,95.0M350.7,87.9L336.5,91.3M350.7,87.9L323.6,91.8M385.4,88.2L380.1,90.5M385.4,88.2L386.9,92.4M385.4,88.2L390.2,91.2M385.4,88.2L388.7,99.2M362.8,95.0L379.3,98.0M362.8,95.0L360.5,80.7M362.8,95.0L355.7,92.3M362.8,95.0L372.3,81.5M362.8,95.0L362.5,102.5M362.8,95.0L366.5,103.7M379.3,98.0L390.2,91.2M379.3,98.0L381.3,93.9M379.3,98.0L379.3,98.0M379.3,98.0L380.5,99.8M379.3,98.0L364.6,110.3M360.5,80.7L342.9,71.3M360.5,80.7L336.5,91.3M360.5,80.7L344.7,97.6M355.7,92.3L349.5,95.0M355.7,92.3L337.9,82.2M355.7,92.3L336.5,91.3M355.7,92.3L379.3,98.0M355.7,92.3L370.3,105.1M355.7,92.3L344.7,97.6M355.7,92.3L339.9,92.9M372.3,81.5L370.3,105.1M372.3,81.5L366.5,103.7M372.3,81.5L349.6,130.3M380.1,90.5L386.9,92.4M380.1,90.5L381.3,93.9M380.1,90.5L403.5,103.3M380.1,90.5L380.1,120.8M380.1,90.5L383.6,108.5M386.9,92.4L390.2,91.2M386.9,92.4L381.3,93.9M386.9,92.4L388.7,99.2M386.9,92.4L379.3,98.0M390.2,91.2L403.5,91.7M390.2,91.2L388.7,99.2M390.2,91.2L385.4,139.0M390.2,91.2L370.3,105.1M381.3,93.9L403.5,91.7M381.3,93.9L390.9,118.3M381.3,93.9L389.9,107.5M381.3,93.9L361.6,110.8M381.3,93.9L380.1,120.8M381.3,93.9L383.6,118.6M381.3,93.9L379.3,98.0M381.3,93.9L362.5,102.5M403.5,91.7L403.5,103.3M403.5,91.7L389.9,107.5M403.5,91.7L379.3,98.0M342.9,71.3L344.7,97.6M342.9,71.3L323.9,64.8M342.9,71.3L338.3,70.5M349.5,95.0L341.0,117.5M349.5,95.0L327.5,102.5M349.5,95.0L344.7,97.6M349.5,95.0L338.6,121.3M337.9,82.2L323.6,91.8M337.9,82.2L334.5,100.9M253.6,97.0L261.6,96.5M253.6,97.0L265.6,98.8M253.6,97.0L266.1,102.1M253.6,97.0L257.4,103.6M253.6,97.0L379.3,98.0M261.6,96.5L265.6,98.8M261.6,96.5L271.4,98.8M261.6,96.5L266.1,102.1M261.6,96.5L257.4,103.6M265.6,98.8L271.4,98.8M265.6,98.8L266.1,102.1M265.6,98.8L263.7,110.8M265.6,98.8L276.7,104.0M271.4,98.8L266.1,102.1M271.4,98.8L276.7,104.0M271.4,98.8L294.6,109.3M266.1,102.1L256.6,109.0M266.1,102.1L263.7,110.8M266.1,102.1L276.7,104.0M266.1,102.1L341.8,111.5M257.4,103.6L256.6,109.0M257.4,103.6L263.7,110.8M256.6,109.0L263.7,110.8M256.6,109.0L318.1,120.5M263.7,110.8L294.6,109.3M263.7,110.8L341.8,111.5M276.7,104.0L284.5,106.6M276.7,104.0L282.7,109.6M284.5,106.6L282.7,109.6M284.5,106.6L294.6,109.3M282.7,109.6L294.6,109.3M282.7,109.6L308.2,102.5M282.7,109.6L332.0,126.8M282.7,109.6L366.8,141.2M294.6,109.3L321.9,122.8M294.6,109.3L326.4,99.8M294.6,109.3L300.0,97.0M294.6,109.3L353.7,134.5M308.2,102.5L309.1,108.1M308.2,102.5L317.7,103.0M308.2,102.5L300.0,97.0M308.2,102.5L389.1,134.0M308.2,102.5L323.6,91.8M309.1,108.1L317.7,103.0M309.1,108.1L330.2,119.0M309.1,108.1L300.0,97.0M309.1,108.1L322.8,89.5M318.1,120.5L321.9,122.8M318.1,120.5L332.4,110.0M318.1,120.5L323.7,107.5M318.1,120.5L341.8,111.5M318.1,120.5L330.2,119.0M318.1,120.5L349.6,130.3M318.1,120.5L344.7,97.6M318.1,120.5L323.6,91.8M321.9,122.8L332.0,126.8M321.9,122.8L330.2,119.0M332.4,110.0L335.7,110.0M332.4,110.0L327.5,102.5M332.4,110.0L337.6,104.0M341.0,117.5L341.8,111.5M341.0,117.5L338.8,121.3M341.0,117.5L345.2,122.8M341.0,117.5L348.4,119.8M341.0,117.5L349.6,130.3M341.0,117.5L344.7,97.6M341.0,117.5L356.7,114.1M341.0,117.5L340.6,117.5M341.0,117.5L342.0,100.0M341.0,117.5L342.0,111.2M341.0,117.5L338.6,121.3M341.0,117.5L324.6,98.9M317.7,103.0L323.7,107.5M317.7,103.0L326.4,99.8M317.7,103.0L327.5,102.5M317.7,103.0L336.5,91.3M317.7,103.0L340.6,117.5M317.7,103.0L323.6,91.8M317.7,103.0L324.6,98.9M323.7,107.5L326.4,99.8M323.7,107.5L327.5,102.5M323.7,107.5L336.5,91.3M323.7,107.5L348.4,119.8M326.4,99.8L341.8,111.5M326.4,99.8L327.5,102.5M326.4,99.8L345.2,122.8M326.4,99.8L300.0,97.0M326.4,99.8L348.7,105.5M326.4,99.8L322.8,89.5M326.4,99.8L324.6,98.9M326.4,99.8L334.5,100.9M335.7,110.0L341.8,111.5M335.7,110.0L337.6,104.0M335.7,110.0L361.6,110.8M335.7,110.0L342.0,111.2M335.7,110.0L322.8,89.5M335.7,110.0L334.5,100.9M335.7,110.0L337.6,96.0M341.8,100.3L337.6,104.0M341.8,100.3L348.7,105.5M341.8,100.3L348.4,119.8M341.8,100.3L344.7,97.6M341.8,100.3L342.0,100.0M341.8,100.3L364.6,110.3M341.8,100.3L322.8,89.5M341.8,100.3L339.9,92.9M341.8,111.5L338.8,121.3M341.8,111.5L330.2,119.0M341.8,111.5L345.2,122.8M341.8,111.5L349.6,130.3M341.8,111.5L340.6,117.5M341.8,111.5L342.0,111.2M341.8,111.5L324.6,98.9M341.8,111.5L334.5,100.9M332.0,126.8L338.8,121.3M332.0,126.8L330.2,119.0M332.0,126.8L356.0,119.0M332.0,126.8L342.0,100.0M332.0,126.8L342.0,111.2M332.0,126.8L338.6,121.3M332.0,126.8L323.6,91.8M332.0,126.8L337.6,96.0M338.8,121.3L330.2,119.0M338.8,121.3L345.2,122.8M338.8,121.3L300.0,97.0M338.8,121.3L349.6,130.3M338.8,121.3L344.7,97.6M338.8,121.3L356.7,114.1M338.8,121.3L340.6,117.5M338.8,121.3L338.6,121.3M327.5,102.5L324.6,98.9M327.5,102.5L334.5,100.9M330.2,119.0L338.6,121.3M330.2,119.0L323.6,91.8M330.2,119.0L334.5,100.9M345.2,122.8L388.1,130.7M345.2,122.8L348.4,119.8M345.2,122.8L349.6,130.3M345.2,122.8L353.7,134.5M345.2,122.8L371.0,136.7M337.6,104.0L356.0,119.0M337.6,104.0L348.7,105.5M337.6,104.0L349.6,130.3M337.6,104.0L340.6,117.5M337.6,104.0L342.0,100.0M337.6,104.0L334.5,100.9M300.0,97.0L342.0,100.0M300.0,97.0L307.6,73.3M300.0,97.0L323.6,91.8M336.5,91.3L379.3,98.0M336.5,91.3L342.0,100.0M336.5,91.3L323.6,91.8M336.5,91.3L339.9,92.9M336.5,91.3L334.5,100.9M336.5,91.3L337.6,96.0M388.7,99.2L403.5,103.3M388.7,99.2L395.9,106.6M388.7,99.2L379.3,98.0M388.7,99.2L380.5,99.8M388.7,99.2L383.6,103.0M388.7,99.2L364.6,110.3M403.5,103.3L401.2,110.5M403.5,103.3L395.9,106.6M403.5,103.3L379.3,98.0M403.5,103.3L366.5,103.7M401.2,110.5L385.4,139.0M401.2,110.5L395.9,106.6M401.2,110.5L389.9,107.5M401.2,110.5L377.8,126.1M401.2,110.5L370.3,105.1M401.2,110.5L323.9,64.8M390.9,118.3L387.9,122.0M390.9,118.3L389.9,107.5M390.9,118.3L383.6,118.6M390.9,118.3L389.1,134.0M387.9,122.0L395.9,106.6M387.9,122.0L380.1,120.8M387.9,122.0L383.6,118.6M387.9,122.0L370.3,133.3M385.4,139.0L389.9,107.5M385.4,139.0L383.6,118.6M385.4,139.0L383.6,129.5M385.4,139.0L388.1,130.7M385.4,139.0L389.1,134.0M385.4,139.0L383.6,108.5M385.4,139.0L353.7,134.5M385.4,139.0L366.8,141.2M395.9,106.6L389.9,107.5M395.9,106.6L380.1,120.8M395.9,106.6L383.6,103.0M389.9,107.5L383.6,103.0M389.9,107.5L383.6,108.5M389.9,107.5L370.3,133.3M361.6,110.8L356.0,119.0M361.6,110.8L368.5,119.0M361.6,110.8L383.6,118.6M361.6,110.8L388.1,130.7M361.6,110.8L362.5,102.5M361.6,110.8L366.5,103.7M361.6,110.8L348.4,119.8M361.6,110.8L356.7,114.1M361.6,110.8L338.6,121.3M361.6,110.8L364.6,110.3M356.0,119.0L388.1,130.7M356.0,119.0L348.4,119.8M356.0,119.0L353.7,134.5M356.0,119.0L357.2,137.8M356.0,119.0L370.3,133.3M356.0,119.0L356.7,114.1M368.5,119.0L380.1,120.8M368.5,119.0L377.8,126.1M368.5,119.0L388.1,130.7M368.5,119.0L389.1,134.0M368.5,119.0L371.0,136.7M368.5,119.0L364.6,110.3M380.1,120.8L383.6,118.6M380.1,120.8L377.8,126.1M380.1,120.8L383.6,103.0M380.1,120.8L383.6,108.5M380.1,120.8L373.8,134.8M383.6,118.6L377.8,126.1M383.6,118.6L383.6,103.0M377.8,126.1L383.6,129.5M383.6,129.5L388.1,130.7M383.6,129.5L389.1,134.0M383.6,129.5L373.8,134.8M388.1,130.7L389.1,134.0M388.1,130.7L373.8,134.8M389.1,134.0L370.3,105.1M389.1,134.0L366.8,141.2M379.3,98.0L380.5,99.8M380.5,99.8L383.6,103.0M380.5,99.8L383.6,108.5M370.3,105.1L362.5,102.5M370.3,105.1L366.5,103.7M370.3,105.1L373.8,134.8M370.3,105.1L356.7,114.1M370.3,105.1L364.6,110.3M348.7,105.5L342.0,100.0M348.7,105.5L342.0,111.2M348.7,105.5L364.6,110.3M362.5,102.5L366.5,103.7M362.5,102.5L340.6,117.5M362.5,102.5L342.0,100.0M362.5,102.5L364.6,110.3M362.5,102.5L322.8,89.5M366.5,103.7L364.6,110.3M383.6,103.0L383.6,108.5M348.4,119.8L349.6,130.3M348.4,119.8L353.7,134.5M348.4,119.8L356.7,114.1M349.6,130.3L353.7,134.5M349.6,130.3L357.2,137.8M349.6,130.3L340.6,117.5M353.7,134.5L357.2,137.8M353.7,134.5L370.3,133.3M357.2,137.8L366.8,141.2M357.2,137.8L370.3,133.3M366.8,141.2L370.3,133.3M366.8,141.2L373.8,134.8M366.8,141.2L371.0,136.7M370.3,133.3L373.8,134.8M370.3,133.3L371.0,136.7M373.8,134.8L371.0,136.7M344.7,97.6L342.0,100.0M344.7,97.6L364.6,110.3M344.7,97.6L339.9,92.9M344.7,97.6L334.5,100.9M356.7,114.1L364.6,110.3M340.6,117.5L338.6,121.3M342.0,100.0L339.9,92.9M342.0,100.0L337.6,96.0M342.0,111.2L338.6,121.3M342.0,111.2L364.6,110.3M338.6,121.3L364.6,110.3M338.6,121.3L337.6,96.0M307.6,73.3L327.4,80.9M307.6,73.3L322.8,89.5M318.6,68.3L323.9,64.8M318.6,68.3L338.3,70.5M338.3,70.5L323.6,91.8M322.8,89.5L323.6,91.8M323.6,91.8L324.6,98.9M323.6,91.8L334.5,100.9M339.9,92.9L324.6,98.9M339.9,92.9L337.6,96.0M334.5,100.9L337.6,96.0" stroke="#808080" stroke-width="0.5" fill="none"/>
<circle cx="312.8" cy="11.3" r="1.75" fill="#98df8a" fill-opacity="0.93"/>
<circle cx="319.2" cy="11.3" r="1.75" fill="#98df8a" fill-opacity="0.93"/>
<circle cx="322.6" cy="18.8" r="1.75" fill="#98df8a" fill-opacity="0.93"/>
<circle cx="305.9" cy="23.0" r="1.75" fill="#98df8a" fill-opacity="0.93"/>
<circle cx="314.0" cy="27.0" r="1.75" fill="#98df8a" fill-opacity="0.93"/>
<circle cx="318.1" cy="29.6" r="1.75" fill="#98df8a" fill-opacity="0.93"/>
<circle cx="322.6" cy="34.1" r="1.75" fill="#98df8a" fill-opacity="0.93"/>
<circle cx="328.5" cy="41.3" r="1.75" fill="#98df8a" fill-opacity="0.93"/>
<circle cx="337.6" cy="46.7" r="1.75" fill="#98df8a" fill-opacity="0.93"/>
<circle cx="309.4" cy="49.7" r="1.75" fill="#ff9896" fill-opacity="0.93"/>
<circle cx="313.1" cy="35.7" r="1.75" fill="#98df8a" fill-opacity="0.93"/>
<circle cx="302.1" cy="44.7" r="1.75" fill="#c49c94" fill-opacity="0.93"/>
<circle cx="299.1" cy="48.2" r="1.75" fill="#c49c94" fill-opacity="0.93"/>
<circle cx="310.4" cy="47.0" r="1.75" fill="#c49c94" fill-opacity="0.93"/>
<circle cx="299.3" cy="51.5" r="1.75" fill="#c49c94" fill-opacity="0.93"/>
<circle cx="304.8" cy="51.6" r="1.75" fill="#c49c94" fill-opacity="0.93"/>
<circle cx="298.5" cy="56.1" r="1.75" fill="#c49c94" fill-opacity="0.93"/>
<circle cx="323.2" cy="61.5" r="1.75" fill="#c49c94" fill-opacity="0.93"/>
<circle cx="332.7" cy="60.0" r="1.75" fill="#c49c94" fill-opacity="0.93"/>
<circle cx="331.2" cy="64.5" r="1.75" fill="#c49c94" fill-opacity="0.93"/>
<circle cx="318.7" cy="93.5" r="1.75" fill="#17becf" fill-opacity="0.93"/>
<circle cx="334.7" cy="86.7" r="1.75" fill="#17becf" fill-opacity="0.93"/>
<circle cx="326.7" cy="37.2" r="1.75" fill="#98df8a" fill-opacity="0.93"/>
<circle cx="332.4" cy="42.9" r="1.75" fill="#98df8a" fill-opacity="0.93"/>
<circle cx="318.1" cy="47.7" r="1.75" fill="#98df8a" fill-opacity="0.93"/>
<circle cx="322.2" cy="47.3" r="1.75" fill="#98df8a" fill-opacity="0.93"/>
<circle cx="324.9" cy="49.2" r="1.75" fill="#98df8a" fill-opacity="0.93"/>
<circle cx="306.3" cy="48.9" r="1.75" fill="#98df8a" fill-opacity="0.93"/>
<circle cx="321.4" cy="51.8" r="1.75" fill="#ff9896" fill-opacity="0.93"/>
<circle cx="316.6" cy="55.5" r="1.75" fill="#ff9896" fill-opacity="0.93"/>
<circle cx="336.8" cy="52.5" r="1.75" fill="#98df8a" fill-opacity="0.93"/>
<circle cx="343.0" cy="68.0" r="1.75" fill="#e377c2" fill-opacity="0.93"/>
<circle cx="277.7" cy="45.9" r="1.75" fill="#8c564b" fill-opacity="0.93"/>
<circle cx="272.0" cy="53.7" r="1.75" fill="#8c564b" fill-opacity="0.93"/>
<circle cx="280.4" cy="59.0" r="1.75" fill="#8c564b" fill-opacity="0.93"/>
<circle cx="273.2" cy="62.3" r="1.75" fill="#8c564b" fill-opacity="0.93"/>
<circle cx="282.2" cy="63.8" r="1.75" fill="#8c564b" fill-opacity="0.93"/>
<circle cx="264.4" cy="72.3" r="1.75" fill="#8c564b" fill-opacity="0.93"/>
<circle cx="303.6" cy="59.1" r="1.75" fill="#ff9896" fill-opacity="0.93"/>
<circle cx="300.0" cy="69.5" r="1.75" fill="#8c564b" fill-opacity="0.93"/>
<circle cx="290.2" cy="75.5" r="1.75" fill="#8c564b" fill-opacity="0.93"/>
<circle cx="293.2" cy="80.4" r="1.75" fill="#8c564b" fill-opacity="0.93"/>
<circle cx="297.8" cy="88.2" r="1.75" fill="#8c564b" fill-opacity="0.93"/>
<circle cx="291.6" cy="63.5" r="1.75" fill="#ff9896" fill-opacity="0.93"/>
<circle cx="301.1" cy="65.7" r="1.75" fill="#ff9896" fill-opacity="0.93"/>
<circle cx="314.3" cy="64.5" r="1.75" fill="#ff9896" fill-opacity="0.93"/>
<circle cx="296.5" cy="73.2" r="1.75" fill="#8c564b" fill-opacity="0.93"/>
<circle cx="303.8" cy="77.0" r="1.75" fill="#ff9896" fill-opacity="0.93"/>
<circle cx="315.4" cy="78.0" r="1.75" fill="#ff9896" fill-opacity="0.93"/>
<circle cx="309.1" cy="65.7" r="1.75" fill="#e377c2" fill-opacity="0.93"/>
<circle cx="332.7" cy="69.2" r="1.75" fill="#e377c2" fill-opacity="0.93"/>
<circle cx="328.5" cy="74.3" r="1.75" fill="#e377c2" fill-opacity="0.93"/>
<circle cx="343.0" cy="71.3" r="1.75" fill="#e377c2" fill-opacity="0.93"/>
<circle cx="316.1" cy="81.2" r="1.75" fill="#ff9896" fill-opacity="0.93"/>
<circle cx="327.5" cy="92.0" r="1.75" fill="#e377c2" fill-opacity="0.93"/>
<circle cx="311.6" cy="66.2" r="1.75" fill="#e377c2" fill-opacity="0.93"/>
<circle cx="338.0" cy="82.2" r="1.75" fill="#17becf" fill-opacity="0.93"/>
<circle cx="342.2" cy="44.7" r="1.75" fill="#7f7f7f" fill-opacity="0.93"/>
<circle cx="331.2" cy="85.2" r="1.75" fill="#ff9896" fill-opacity="0.93"/>
<circle cx="267.3" cy="81.8" r="1.75" fill="#aec7e8" fill-opacity="0.93"/>
<circle cx="263.8" cy="86.0" r="1.75" fill="#aec7e8" fill-opacity="0.93"/>
<circle cx="259.6" cy="89.0" r="1.75" fill="#aec7e8" fill-opacity="0.93"/>
<circle cx="256.9" cy="92.7" r="1.75" fill="#aec7e8" fill-opacity="0.93"/>
<circle cx="271.7" cy="89.7" r="1.75" fill="#aec7e8" fill-opacity="0.93"/>
<circle cx="276.2" cy="89.4" r="1.75" fill="#aec7e8" fill-opacity="0.93"/>
<circle cx="275.1" cy="92.4" r="1.75" fill="#aec7e8" fill-opacity="0.93"/>
<circle cx="292.0" cy="89.4" r="1.75" fill="#ff9896" fill-opacity="0.93"/>
<circle cx="304.8" cy="84.9" r="1.75" fill="#ff9896" fill-opacity="0.93"/>
<circle cx="428.3" cy="21.0" r="1.75" fill="#1f77b4" fill-opacity="0.93"/>
<circle cx="422.6" cy="26.4" r="1.75" fill="#1f77b4" fill-opacity="0.93"/>
<circle cx="398.5" cy="29.0" r="1.75" fill="#1f77b4" fill-opacity="0.93"/>
<circle cx="405.3" cy="32.7" r="1.75" fill="#1f77b4" fill-opacity="0.93"/>
<circle cx="417.0" cy="32.0" r="1.75" fill="#1f77b4" fill-opacity="0.93"/>
<circle cx="420.0" cy="34.2" r="1.75" fill="#1f77b4" fill-opacity="0.93"/>
<circle cx="408.4" cy="35.3" r="1.75" fill="#1f77b4" fill-opacity="0.93"/>
<circle cx="400.4" cy="37.5" r="1.75" fill="#1f77b4" fill-opacity="0.93"/>
<circle cx="408.7" cy="37.7" r="1.75" fill="#1f77b4" fill-opacity="0.93"/>
<circle cx="404.5" cy="41.0" r="1.75" fill="#1f77b4" fill-opacity="0.93"/>
<circle cx="409.0" cy="40.7" r="1.75" fill="#1f77b4" fill-opacity="0.93"/>
<circle cx="411.3" cy="42.9" r="1.75" fill="#1f77b4" fill-opacity="0.93"/>
<circle cx="414.8" cy="48.5" r="1.75" fill="#1f77b4" fill-opacity="0.93"/>
<circle cx="408.0" cy="60.3" r="1.75" fill="#1f77b4" fill-opacity="0.93"/>
<circle cx="398.5" cy="33.5" r="1.75" fill="#1f77b4" fill-opacity="0.93"/>
<circle cx="377.4" cy="42.2" r="1.75" fill="#1f77b4" fill-opacity="0.93"/>
<circle cx="396.4" cy="44.3" r="1.75" fill="#1f77b4" fill-opacity="0.93"/>
<circle cx="377.5" cy="46.7" r="1.75" fill="#1f77b4" fill-opacity="0.93"/>
<circle cx="388.7" cy="45.8" r="1.75" fill="#1f77b4" fill-opacity="0.93"/>
<circle cx="379.6" cy="49.2" r="1.75" fill="#1f77b4" fill-opacity="0.93"/>
<circle cx="399.7" cy="60.0" r="1.75" fill="#1f77b4" fill-opacity="0.93"/>
<circle cx="399.2" cy="63.8" r="1.75" fill="#1f77b4" fill-opacity="0.93"/>
<circle cx="399.7" cy="10.5" r="1.75" fill="#9edae5" fill-opacity="0.93"/>
<circle cx="372.3" cy="30.8" r="1.75" fill="#9edae5" fill-opacity="0.93"/>
<circle cx="376.0" cy="33.9" r="1.75" fill="#e377c2" fill-opacity="0.93"/>
<circle cx="380.4" cy="32.7" r="1.75" fill="#e377c2" fill-opacity="0.93"/>
<circle cx="390.2" cy="39.0" r="1.75" fill="#e377c2" fill-opacity="0.93"/>
<circle cx="364.6" cy="53.3" r="1.75" fill="#e377c2" fill-opacity="0.93"/>
<circle cx="367.7" cy="56.7" r="1.75" fill="#e377c2" fill-opacity="0.93"/>
<circle cx="362.3" cy="30.3" r="1.75" fill="#1f77b4" fill-opacity="0.93"/>
<circle cx="342.1" cy="44.4" r="1.75" fill="#7f7f7f" fill-opacity="0.93"/>
<circle cx="348.0" cy="58.7" r="1.75" fill="#2ca02c" fill-opacity="0.93"/>
<circle cx="357.8" cy="67.2" r="1.75" fill="#2ca02c" fill-opacity="0.93"/>
<circle cx="374.5" cy="65.3" r="1.75" fill="#2ca02c" fill-opacity="0.93"/>
<circle cx="360.0" cy="72.5" r="1.75" fill="#2ca02c" fill-opacity="0.93"/>
<circle cx="364.0" cy="75.2" r="1.75" fill="#2ca02c" fill-opacity="0.93"/>
<circle cx="382.7" cy="72.5" r="1.75" fill="#2ca02c" fill-opacity="0.93"/>
<circle cx="400.4" cy="76.7" r="1.75" fill="#2ca02c" fill-opacity="0.93"/>
<circle cx="374.1" cy="78.8" r="1.75" fill="#2ca02c" fill-opacity="0.93"/>
<circle cx="365.8" cy="87.0" r="1.75" fill="#2ca02c" fill-opacity="0.93"/>
<circle cx="385.4" cy="66.2" r="1.75" fill="#9edae5" fill-opacity="0.93"/>
<circle cx="397.7" cy="69.5" r="1.75" fill="#9edae5" fill-opacity="0.93"/>
<circle cx="372.1" cy="73.2" r="1.75" fill="#2ca02c" fill-opacity="0.93"/>
<circle cx="369.1" cy="74.7" r="1.75" fill="#2ca02c" fill-opacity="0.93"/>
<circle cx="378.6" cy="77.3" r="1.75" fill="#2ca02c" fill-opacity="0.93"/>
<circle cx="369.5" cy="78.0" r="1.75" fill="#2ca02c" fill-opacity="0.93"/>
<circle cx="347.2" cy="77.0" r="1.75" fill="#2ca02c" fill-opacity="0.93"/>
<circle cx="352.5" cy="81.9" r="1.75" fill="#2ca02c" fill-opacity="0.93"/>
<circle cx="356.0" cy="84.5" r="1.75" fill="#2ca02c" fill-opacity="0.93"/>
<circle cx="359.7" cy="85.7" r="1.75" fill="#2ca02c" fill-opacity="0.93"/>
<circle cx="350.7" cy="87.9" r="1.75" fill="#2ca02c" fill-opacity="0.93"/>
<circle cx="385.4" cy="88.2" r="1.75" fill="#9edae5" fill-opacity="0.93"/>
<circle cx="362.8" cy="95.0" r="1.75" fill="#9467bd" fill-opacity="0.93"/>
<circle cx="379.3" cy="98.0" r="1.75" fill="#9467bd" fill-opacity="0.93"/>
<circle cx="360.5" cy="80.7" r="1.75" fill="#ff7f0e" fill-opacity="0.93"/>
<circle cx="355.7" cy="92.3" r="1.75" fill="#9467bd" fill-opacity="0.93"/>
<circle cx="372.3" cy="81.5" r="1.75" fill="#2ca02c" fill-opacity="0.93"/>
<circle cx="380.1" cy="90.5" r="1.75" fill="#9467bd" fill-opacity="0.93"/>
<circle cx="386.9" cy="92.4" r="1.75" fill="#9467bd" fill-opacity="0.93"/>
<circle cx="390.2" cy="91.2" r="1.75" fill="#9467bd" fill-opacity="0.93"/>
<circle cx="381.3" cy="93.9" r="1.75" fill="#9467bd" fill-opacity="0.93"/>
<circle cx="403.5" cy="91.7" r="1.75" fill="#ff7f0e" fill-opacity="0.93"/>
<circle cx="342.9" cy="71.3" r="1.75" fill="#e377c2" fill-opacity="0.93"/>
<circle cx="349.5" cy="95.0" r="1.75" fill="#e377c2" fill-opacity="0.93"/>
<circle cx="337.9" cy="82.2" r="1.75" fill="#17becf" fill-opacity="0.93"/>
<circle cx="253.6" cy="97.0" r="1.75" fill="#aec7e8" fill-opacity="0.93"/>
<circle cx="261.6" cy="96.5" r="1.75" fill="#aec7e8" fill-opacity="0.93"/>
<circle cx="265.6" cy="98.8" r="1.75" fill="#aec7e8" fill-opacity="0.93"/>
<circle cx="271.4" cy="98.8" r="1.75" fill="#aec7e8" fill-opacity="0.93"/>
<circle cx="266.1" cy="102.1" r="1.75" fill="#aec7e8" fill-opacity="0.93"/>
<circle cx="257.4" cy="103.6" r="1.75" fill="#aec7e8" fill-opacity="0.93"/>
<circle cx="256.6" cy="109.0" r="1.75" fill="#aec7e8" fill-opacity="0.93"/>
<circle cx="263.7" cy="110.8" r="1.75" fill="#aec7e8" fill-opacity="0.93"/>
<circle cx="276.7" cy="104.0" r="1.75" fill="#aec7e8" fill-opacity="0.93"/>
<circle cx="284.5" cy="106.6" r="1.75" fill="#aec7e8" fill-opacity="0.93"/>
<circle cx="282.7" cy="109.6" r="1.75" fill="#aec7e8" fill-opacity="0.93"/>
<circle cx="294.6" cy="109.3" r="1.75" fill="#aec7e8" fill-opacity="0.93"/>
<circle cx="308.2" cy="102.5" r="1.75" fill="#8c564b" fill-opacity="0.93"/>
<circle cx="309.1" cy="108.1" r="1.75" fill="#8c564b" fill-opacity="0.93"/>
<circle cx="318.1" cy="120.5" r="1.75" fill="#7f7f7f" fill-opacity="0.93"/>
<circle cx="321.9" cy="122.8" r="1.75" fill="#7f7f7f" fill-opacity="0.93"/>
<circle cx="332.4" cy="110.0" r="1.75" fill="#17becf" fill-opacity="0.93"/>
<circle cx="341.0" cy="117.5" r="1.75" fill="#17becf" fill-opacity="0.93"/>
<circle cx="317.7" cy="103.0" r="1.75" fill="#17becf" fill-opacity="0.93"/>
<circle cx="323.7" cy="107.5" r="1.75" fill="#17becf" fill-opacity="0.93"/>
<circle cx="326.4" cy="99.8" r="1.75" fill="#ff9896" fill-opacity="0.93"/>
<circle cx="335.7" cy="110.0" r="1.75" fill="#17becf" fill-opacity="0.93"/>
<circle cx="341.8" cy="100.3" r="1.75" fill="#17becf" fill-opacity="0.93"/>
<circle cx="341.8" cy="111.5" r="1.75" fill="#17becf" fill-opacity="0.93"/>
<circle cx="332.0" cy="126.8" r="1.75" fill="#17becf" fill-opacity="0.93"/>
<circle cx="338.8" cy="121.3" r="1.75" fill="#17becf" fill-opacity="0.93"/>
<circle cx="327.5" cy="102.5" r="1.75" fill="#ff9896" fill-opacity="0.93"/>
<circle cx="330.2" cy="119.0" r="1.75" fill="#7f7f7f" fill-opacity="0.93"/>
<circle cx="345.2" cy="122.8" r="1.75" fill="#dbdb8d" fill-opacity="0.93"/>
<circle cx="337.6" cy="104.0" r="1.75" fill="#ff7f0e" fill-opacity="0.93"/>
<circle cx="300.0" cy="97.0" r="1.75" fill="#ff9896" fill-opacity="0.93"/>
<circle cx="336.5" cy="91.3" r="1.75" fill="#ff9896" fill-opacity="0.93"/>
<circle cx="388.7" cy="99.2" r="1.75" fill="#9467bd" fill-opacity="0.93"/>
<circle cx="403.5" cy="103.3" r="1.75" fill="#9467bd" fill-opacity="0.93"/>
<circle cx="401.2" cy="110.5" r="1.75" fill="#9467bd" fill-opacity="0.93"/>
<circle cx="390.9" cy="118.3" r="1.75" fill="#ff7f0e" fill-opacity="0.93"/>
<circle cx="387.9" cy="122.0" r="1.75" fill="#dbdb8d" fill-opacity="0.93"/>
<circle cx="385.4" cy="139.0" r="1.75" fill="#7f7f7f" fill-opacity="0.93"/>
<circle cx="395.9" cy="106.6" r="1.75" fill="#ff7f0e" fill-opacity="0.93"/>
<circle cx="389.9" cy="107.5" r="1.75" fill="#ff7f0e" fill-opacity="0.93"/>
<circle cx="361.6" cy="110.8" r="1.75" fill="#ff7f0e" fill-opacity="0.93"/>
<circle cx="356.0" cy="119.0" r="1.75" fill="#ff7f0e" fill-opacity="0.93"/>
<circle cx="368.5" cy="119.0" r="1.75" fill="#ff7f0e" fill-opacity="0.93"/>
<circle cx="380.1" cy="120.8" r="1.75" fill="#ff7f0e" fill-opacity="0.93"/>
<circle cx="383.6" cy="118.6" r="1.75" fill="#ff7f0e" fill-opacity="0.93"/>
<circle cx="377.8" cy="126.1" r="1.75" fill="#ff7f0e" fill-opacity="0.93"/>
<circle cx="383.6" cy="129.5" r="1.75" fill="#ff7f0e" fill-opacity="0.93"/>
<circle cx="388.1" cy="130.7" r="1.75" fill="#ff7f0e" fill-opacity="0.93"/>
<circle cx="389.1" cy="134.0" r="1.75" fill="#ff7f0e" fill-opacity="0.93"/>
<circle cx="379.3" cy="98.0" r="1.75" fill="#9467bd" fill-opacity="0.93"/>
<circle cx="380.5" cy="99.8" r="1.75" fill="#9467bd" fill-opacity="0.93"/>
<circle cx="370.3" cy="105.1" r="1.75" fill="#ff7f0e" fill-opacity="0.93"/>
<circle cx="348.7" cy="105.5" r="1.75" fill="#9467bd" fill-opacity="0.93"/>
<circle cx="362.5" cy="102.5" r="1.75" fill="#ff7f0e" fill-opacity="0.93"/>
<circle cx="366.5" cy="103.7" r="1.75" fill="#ff7f0e" fill-opacity="0.93"/>
<circle cx="383.6" cy="103.0" r="1.75" fill="#ff7f0e" fill-opacity="0.93"/>
<circle cx="383.6" cy="108.5" r="1.75" fill="#dbdb8d" fill-opacity="0.93"/>
<circle cx="348.4" cy="119.8" r="1.75" fill="#dbdb8d" fill-opacity="0.93"/>
<circle cx="349.6" cy="130.3" r="1.75" fill="#dbdb8d" fill-opacity="0.93"/>
<circle cx="353.7" cy="134.5" r="1.75" fill="#dbdb8d" fill-opacity="0.93"/>
<circle cx="357.2" cy="137.8" r="1.75" fill="#dbdb8d" fill-opacity="0.93"/>
<circle cx="366.8" cy="141.2" r="1.75" fill="#dbdb8d" fill-opacity="0.93"/>
<circle cx="370.3" cy="133.3" r="1.75" fill="#dbdb8d" fill-opacity="0.93"/>
<circle cx="373.8" cy="134.8" r="1.75" fill="#dbdb8d" fill-opacity="0.93"/>
<circle cx="371.0" cy="136.7" r="1.75" fill="#dbdb8d" fill-opacity="0.93"/>
<circle cx="344.7" cy="97.6" r="1.75" fill="#17becf" fill-opacity="0.93"/>
<circle cx="356.7" cy="114.1" r="1.75" fill="#ff7f0e" fill-opacity="0.93"/>
<circle cx="340.6" cy="117.5" r="1.75" fill="#17becf" fill-opacity="0.93"/>
<circle cx="342.0" cy="100.0" r="1.75" fill="#17becf" fill-opacity="0.93"/>
<circle cx="342.0" cy="111.2" r="1.75" fill="#17becf" fill-opacity="0.93"/>
<circle cx="338.6" cy="121.3" r="1.75" fill="#17becf" fill-opacity="0.93"/>
<circle cx="364.6" cy="110.3" r="1.75" fill="#ff7f0e" fill-opacity="0.93"/>
<circle cx="307.6" cy="73.3" r="1.75" fill="#ff9896" fill-opacity="0.93"/>
<circle cx="301.1" cy="82.4" r="1.75" fill="#ff9896" fill-opacity="0.93"/>
<circle cx="318.6" cy="68.3" r="1.75" fill="#ff9896" fill-opacity="0.93"/>
<circle cx="335.3" cy="64.2" r="1.75" fill="#ff9896" fill-opacity="0.93"/>
<circle cx="323.9" cy="64.8" r="1.75" fill="#e377c2" fill-opacity="0.93"/>
<circle cx="338.3" cy="70.5" r="1.75" fill="#e377c2" fill-opacity="0.93"/>
<circle cx="327.4" cy="80.9" r="1.75" fill="#ff9896" fill-opacity="0.93"/>
<circle cx="322.8" cy="89.5" r="1.75" fill="#e377c2" fill-opacity="0.93"/>
<circle cx="323.6" cy="91.8" r="1.75" fill="#e377c2" fill-opacity="0.93"/>
<circle cx="339.9" cy="92.9" r="1.75" fill="#17becf" fill-opacity="0.93"/>
<circle cx="324.6" cy="98.9" r="1.75" fill="#ff9896" fill-opacity="0.93"/>
<circle cx="334.5" cy="100.9" r="1.75" fill="#17becf" fill-opacity="0.93"/>
<circle cx="337.6" cy="96.0" r="1.75" fill="#17becf" fill-opacity="0.93"/>
</g><g>
<path d="M553.2,11.3L559.5,11.3M553.2,11.3L563.0,18.8M553.2,11.3L546.3,23.0M553.2,11.3L542.5,44.7M559.5,11.3L563.0,18.8M559.5,11.3L546.3,23.0M559.5,11.3L554.4,27.0M559.5,11.3L545.2,51.6M559.5,11.3L582.4,44.4M559.5,11.3L631.2,118.3M559.5,11.3L564.2,64.8M563.0,18.8L546.3,23.0M563.0,18.8L554.4,27.0M563.0,18.8L558.5,29.6M563.0,18.8L532.0,63.5M546.3,23.0L554.4,27.0M546.3,23.0L558.5,29.6M546.3,23.0L545.2,51.6M546.3,23.0L552.0,66.2M554.4,27.0L558.5,29.6M554.4,27.0L553.5,35.7M554.4,27.0L562.5,47.3M554.4,27.0L588.3,58.7M558.5,29.6L563.0,34.1M558.5,29.6L553.5,35.7M558.5,29.6L550.8,47.0M558.5,29.6L554.7,64.5M558.5,29.6L552.0,66.2M558.5,29.6L582.4,44.4M563.0,34.1L568.9,41.3M563.0,34.1L553.5,35.7M563.0,34.1L539.5,48.2M563.0,34.1L567.1,37.2M563.0,34.1L554.7,64.5M563.0,34.1L600.3,72.5M568.9,41.3L567.1,37.2M568.9,41.3L572.8,42.9M568.9,41.3L562.5,47.3M568.9,41.3L588.3,58.7M577.9,46.7L571.6,64.5M577.9,46.7L572.8,42.9M577.9,46.7L558.5,47.7M577.9,46.7L577.1,52.5M577.9,46.7L583.3,68.0M577.9,46.7L554.7,64.5M577.9,46.7L582.5,44.7M577.9,46.7L545.2,84.9M577.9,46.7L582.4,44.4M577.9,46.7L594.0,134.5M549.8,49.7L539.5,48.2M549.8,49.7L550.8,47.0M549.8,49.7L545.2,51.6M549.8,49.7L567.1,37.2M549.8,49.7L565.2,49.2M549.8,49.7L546.7,48.9M549.8,49.7L577.1,52.5M549.8,49.7L549.5,65.7M549.8,49.7L552.0,66.2M553.5,35.7L567.1,37.2M553.5,35.7L582.3,111.2M542.5,44.7L539.5,48.2M542.5,44.7L539.7,51.5M542.5,44.7L546.7,48.9M542.5,44.7L518.2,45.9M542.5,44.7L512.4,53.7M542.5,44.7L602.6,30.3M542.5,44.7L589.9,130.3M542.5,44.7L567.7,80.9M539.5,48.2L539.7,51.5M539.5,48.2L545.2,51.6M539.5,48.2L565.2,49.2M539.5,48.2L557.0,55.5M539.5,48.2L537.0,73.2M539.5,48.2L548.0,73.3M550.8,47.0L545.2,51.6M550.8,47.0L567.1,37.2M550.8,47.0L558.5,47.7M550.8,47.0L546.7,48.9M550.8,47.0L577.1,52.5M550.8,47.0L612.5,81.5M550.8,47.0L636.1,106.6M550.8,47.0L623.8,103.0M539.7,51.5L545.2,51.6M539.7,51.5L538.9,56.1M539.7,51.5L532.0,63.5M539.7,51.5L552.0,66.2M539.7,51.5L548.0,73.3M545.2,51.6L538.9,56.1M545.2,51.6L563.6,61.5M545.2,51.6L558.5,47.7M545.2,51.6L546.7,48.9M545.2,51.6L520.9,59.0M545.2,51.6L544.0,59.1M545.2,51.6L541.5,65.7M545.2,51.6L579.1,121.3M538.9,56.1L562.5,47.3M538.9,56.1L565.2,49.2M538.9,56.1L561.8,51.8M538.9,56.1L544.0,59.1M538.9,56.1L532.0,63.5M538.9,56.1L541.5,65.7M538.9,56.1L555.8,78.0M563.6,61.5L571.6,64.5M563.6,61.5L567.1,37.2M563.6,61.5L561.8,51.8M563.6,61.5L557.0,55.5M563.6,61.5L541.5,82.4M563.6,61.5L558.9,68.3M563.6,61.5L564.2,64.8M563.6,61.5L567.7,80.9M573.1,60.0L571.6,64.5M573.1,60.0L567.1,37.2M573.1,60.0L577.1,52.5M573.1,60.0L589.0,105.5M573.1,60.0L575.6,64.2M571.6,64.5L562.5,47.3M571.6,64.5L573.1,69.2M571.6,64.5L568.9,74.3M571.6,64.5L500.1,89.0M571.6,64.5L575.6,64.2M571.6,64.5L564.2,64.8M559.1,93.5L537.0,73.2M559.1,93.5L555.8,78.0M559.1,93.5L504.3,86.0M559.1,93.5L523.1,109.6M559.1,93.5L576.1,110.0M559.1,93.5L563.2,89.5M559.1,93.5L563.9,91.8M559.1,93.5L565.0,98.9M559.1,93.5L577.9,96.0M575.0,86.7L573.1,69.2M575.0,86.7L578.3,82.2M575.0,86.7L571.6,85.2M575.0,86.7L619.9,49.2M575.0,86.7L587.5,77.0M575.0,86.7L600.0,85.7M575.0,86.7L578.2,82.2M575.0,86.7L576.8,91.3M575.0,86.7L575.6,64.2M575.0,86.7L567.7,80.9M575.0,86.7L574.9,100.9M567.1,37.2L572.8,42.9M572.8,42.9L580.9,117.5M558.5,47.7L562.5,47.3M558.5,47.7L565.2,49.2M558.5,47.7L561.8,51.8M558.5,47.7L557.0,55.5M558.5,47.7L540.4,69.5M558.5,47.7L549.5,65.7M558.5,47.7L573.1,69.2M558.5,47.7L575.6,64.2M562.5,47.3L565.2,49.2M562.5,47.3L561.8,51.8M562.5,47.3L554.7,64.5M562.5,47.3L573.1,69.2M565.2,49.2L561.8,51.8M565.2,49.2L577.1,52.5M565.2,49.2L554.7,64.5M565.2,49.2L568.9,74.3M565.2,49.2L575.6,64.2M546.7,48.9L515.6,92.4M546.7,48.9L558.9,68.3M561.8,51.8L557.0,55.5M561.8,51.8L540.4,69.5M561.8,51.8L582.5,44.7M561.8,51.8L582.4,44.4M557.0,55.5L541.5,65.7M557.0,55.5L554.7,64.5M557.0,55.5L548.0,73.3M557.0,55.5L575.6,64.2M577.1,52.5L573.1,69.2M577.1,52.5L582.5,44.7M577.1,52.5L582.4,44.4M577.1,52.5L588.3,58.7M583.3,68.0L583.3,71.3M583.3,68.0L582.5,44.7M583.3,68.0L608.0,56.7M583.3,68.0L588.3,58.7M583.3,68.0L587.5,77.0M583.3,68.0L592.8,81.9M583.3,68.0L600.0,85.7M583.3,68.0L583.2,71.3M583.3,68.0L582.1,111.5M583.3,68.0L578.7,70.5M583.3,68.0L567.7,80.9M518.2,45.9L512.4,53.7M518.2,45.9L520.9,59.0M518.2,45.9L513.6,62.3M518.2,45.9L504.9,72.3M512.4,53.7L520.9,59.0M512.4,53.7L513.6,62.3M512.4,53.7L533.7,80.4M512.4,53.7L497.4,92.7M520.9,59.0L513.6,62.3M520.9,59.0L522.7,63.8M520.9,59.0L538.2,88.2M520.9,59.0L625.6,139.0M513.6,62.3L522.7,63.8M513.6,62.3L504.9,72.3M513.6,62.3L500.1,89.0M513.6,62.3L506.1,98.8M522.7,63.8L533.7,80.4M522.7,63.8L532.0,63.5M522.7,63.8L549.5,65.7M522.7,63.8L552.0,66.2M504.9,72.3L507.8,81.8M504.9,72.3L504.3,86.0M504.9,72.3L500.1,89.0M544.0,59.1L541.5,65.7M544.0,59.1L552.0,66.2M540.4,69.5L530.6,75.5M540.4,69.5L541.5,65.7M540.4,69.5L537.0,73.2M540.4,69.5L544.2,77.0M540.4,69.5L549.5,65.7M530.6,75.5L533.7,80.4M530.6,75.5L537.0,73.2M530.6,75.5L544.2,77.0M530.6,75.5L552.0,66.2M530.6,75.5L512.1,89.7M530.6,75.5L516.7,89.4M530.6,75.5L579.1,121.3M530.6,75.5L597.5,137.8M530.6,75.5L548.0,73.3M533.7,80.4L537.0,73.2M533.7,80.4L544.2,77.0M533.7,80.4L532.4,89.4M533.7,80.4L535.0,109.3M533.7,80.4L541.5,82.4M538.2,88.2L537.0,73.2M538.2,88.2L497.4,92.7M538.2,88.2L532.4,89.4M538.2,88.2L545.2,84.9M538.2,88.2L548.5,102.5M538.2,88.2L540.4,97.0M538.2,88.2L541.5,82.4M532.0,63.5L541.5,65.7M532.0,63.5L544.2,77.0M532.0,63.5L549.5,65.7M532.0,63.5L582.3,111.2M541.5,65.7L537.0,73.2M541.5,65.7L544.2,77.0M541.5,65.7L549.5,65.7M541.5,65.7L556.5,81.2M541.5,65.7L552.0,66.2M554.7,64.5L549.5,65.7M554.7,64.5L552.0,66.2M554.7,64.5L545.2,84.9M554.7,64.5L587.5,77.0M554.7,64.5L494.1,97.0M554.7,64.5L558.9,68.3M537.0,73.2L544.2,77.0M537.0,73.2L506.1,98.8M537.0,73.2L517.1,104.0M537.0,73.2L558.5,120.5M537.0,73.2L562.2,122.8M537.0,73.2L580.9,117.5M544.2,77.0L545.2,84.9M544.2,77.0L506.1,98.8M544.2,77.0L548.0,73.3M544.2,77.0L541.5,82.4M544.2,77.0L564.2,64.8M544.2,77.0L563.9,91.8M555.8,78.0L556.5,81.2M555.8,78.0L523.1,109.6M555.8,78.0L549.5,108.1M555.8,78.0L558.0,103.0M555.8,78.0L548.0,73.3M555.8,78.0L558.9,68.3M555.8,78.0L575.6,64.2M555.8,78.0L563.2,89.5M549.5,65.7L552.0,66.2M549.5,65.7L540.4,97.0M549.5,65.7L548.0,73.3M573.1,69.2L568.9,74.3M573.1,69.2L575.6,64.2M573.1,69.2L578.7,70.5M568.9,74.3L583.3,71.3M568.9,74.3L556.5,81.2M568.9,74.3L552.0,66.2M568.9,74.3L558.9,68.3M568.9,74.3L567.7,80.9M568.9,74.3L563.2,89.5M583.3,71.3L587.5,77.0M583.3,71.3L583.2,71.3M583.3,71.3L578.2,82.2M583.3,71.3L629.4,134.0M583.3,71.3L578.7,70.5M556.5,81.2L532.4,89.4M556.5,81.2L598.1,67.2M556.5,81.2L548.5,102.5M556.5,81.2L540.4,97.0M556.5,81.2L567.7,80.9M556.5,81.2L563.2,89.5M567.8,92.0L583.2,71.3M567.8,92.0L566.8,99.8M567.8,92.0L582.1,100.3M567.8,92.0L563.2,89.5M567.8,92.0L563.9,91.8M567.8,92.0L565.0,98.9M567.8,92.0L577.9,96.0M552.0,66.2L548.0,73.3M552.0,66.2L558.9,68.3M578.3,82.2L571.6,85.2M578.3,82.2L587.5,77.0M578.3,82.2L583.2,71.3M578.3,82.2L578.2,82.2M582.5,44.7L582.4,44.4M582.5,44.7L588.3,58.7M582.5,44.7L588.7,119.8M582.5,44.7L578.7,70.5M571.6,85.2L500.1,89.0M571.6,85.2L578.2,82.2M571.6,85.2L564.0,107.5M571.6,85.2L636.1,106.6M571.6,85.2L575.6,64.2M571.6,85.2L567.7,80.9M507.8,81.8L504.3,86.0M507.8,81.8L500.1,89.0M507.8,81.8L497.4,92.7M507.8,81.8L512.1,89.7M507.8,81.8L516.7,89.4M507.8,81.8L506.6,102.1M507.8,81.8L497.8,103.6M507.8,81.8L524.9,106.6M507.8,81.8L566.8,99.8M504.3,86.0L500.1,89.0M504.3,86.0L497.4,92.7M504.3,86.0L512.1,89.7M504.3,86.0L516.7,89.4M504.3,86.0L524.9,106.6M500.1,89.0L497.4,92.7M500.1,89.0L494.1,97.0M500.1,89.0L502.1,96.5M500.1,89.0L506.1,98.8M497.4,92.7L494.1,97.0M497.4,92.7L502.1,96.5M497.4,92.7L506.1,98.8M497.4,92.7L497.8,103.6M497.4,92.7L497.1,109.0M512.1,89.7L516.7,89.4M512.1,89.7L515.6,92.4M512.1,89.7L502.1,96.5M512.1,89.7L506.1,98.8M512.1,89.7L511.8,98.8M512.1,89.7L504.2,110.8M512.1,89.7L623.8,103.0M516.7,89.4L515.6,92.4M516.7,89.4L618.8,77.3M516.7,89.4L502.1,96.5M516.7,89.4L511.8,98.8M516.7,89.4L506.6,102.1M516.7,89.4L497.1,109.0M516.7,89.4L517.1,104.0M516.7,89.4L524.9,106.6M516.7,89.4L523.1,109.6M516.7,89.4L541.5,82.4M515.6,92.4L506.1,98.8M515.6,92.4L511.8,98.8M532.4,89.4L545.2,84.9M532.4,89.4L549.5,108.1M532.4,89.4L540.4,97.0M545.2,84.9L598.1,67.2M545.2,84.9L541.5,82.4M668.5,21.0L662.8,26.4M668.5,21.0L638.7,29.0M668.5,21.0L645.5,32.7M668.5,21.0L657.2,32.0M668.5,21.0L660.2,34.2M668.5,21.0L648.6,35.3M668.5,21.0L640.6,37.5M668.5,21.0L648.9,37.7M668.5,21.0L651.5,42.9M668.5,21.0L654.9,48.5M668.5,21.0L628.9,45.8M668.5,21.0L572.3,126.8M668.5,21.0L589.0,105.5M662.8,26.4L657.2,32.0M662.8,26.4L660.2,34.2M662.8,26.4L638.7,33.5M638.7,29.0L645.5,32.7M638.7,29.0L648.6,35.3M638.7,29.0L640.6,37.5M638.7,29.0L638.7,33.5M638.7,29.0L636.6,44.3M638.7,29.0L616.3,33.9M638.7,29.0L602.6,30.3M638.7,29.0L598.1,67.2M645.5,32.7L657.2,32.0M645.5,32.7L648.6,35.3M645.5,32.7L640.6,37.5M645.5,32.7L648.9,37.7M645.5,32.7L644.7,41.0M645.5,32.7L651.5,42.9M645.5,32.7L654.9,48.5M645.5,32.7L638.7,33.5M645.5,32.7L636.6,44.3M657.2,32.0L660.2,34.2M657.2,32.0L648.6,35.3M657.2,32.0L648.9,37.7M657.2,32.0L649.2,40.7M657.2,32.0L651.5,42.9M657.2,32.0L608.0,56.7M657.2,32.0L618.8,77.3M657.2,32.0L603.0,95.0M657.2,32.0L629.4,134.0M660.2,34.2L648.6,35.3M660.2,34.2L640.6,37.5M660.2,34.2L649.2,40.7M660.2,34.2L639.9,60.0M648.6,35.3L648.9,37.7M648.6,35.3L644.7,41.0M648.6,35.3L649.2,40.7M648.6,35.3L651.5,42.9M648.6,35.3L617.8,46.7M648.6,35.3L601.8,110.8M640.6,37.5L648.9,37.7M640.6,37.5L644.7,41.0M640.6,37.5L651.5,42.9M640.6,37.5L638.7,33.5M640.6,37.5L636.6,44.3M640.6,37.5L639.9,60.0M640.6,37.5L612.5,30.8M640.6,37.5L604.8,53.3M640.6,37.5L602.6,30.3M640.6,37.5L637.9,69.5M640.6,37.5L511.8,98.8M648.9,37.7L644.7,41.0M648.9,37.7L649.2,40.7M648.9,37.7L651.5,42.9M648.9,37.7L654.9,48.5M648.9,37.7L639.9,10.5M648.9,37.7L637.9,69.5M644.7,41.0L649.2,40.7M644.7,41.0L651.5,42.9M644.7,41.0L654.9,48.5M644.7,41.0L617.6,42.2M644.7,41.0L628.9,45.8M644.7,41.0L623.8,108.5M649.2,40.7L651.5,42.9M649.2,40.7L654.9,48.5M649.2,40.7L608.0,56.7M649.2,40.7L602.6,30.3M649.2,40.7L607.1,141.2M651.5,42.9L654.9,48.5M651.5,42.9L648.2,60.3M651.5,42.9L601.8,110.8M651.5,42.9L582.3,111.2M654.9,48.5L648.2,60.3M654.9,48.5L636.6,44.3M654.9,48.5L616.3,33.9M654.9,48.5L643.7,91.7M648.2,60.3L639.9,60.0M648.2,60.3L639.4,63.8M648.2,60.3L620.6,32.7M648.2,60.3L622.9,72.5M648.2,60.3L640.6,76.7M648.2,60.3L625.6,66.2M648.2,60.3L643.7,91.7M638.7,33.5L619.9,49.2M638.7,33.5L630.4,39.0M638.7,33.5L578.2,82.2M617.6,42.2L617.8,46.7M617.6,42.2L628.9,45.8M617.6,42.2L619.9,49.2M617.6,42.2L612.5,30.8M617.6,42.2L616.3,33.9M617.6,42.2L620.6,32.7M617.6,42.2L582.4,44.4M617.6,42.2L614.0,134.8M636.6,44.3L628.9,45.8M636.6,44.3L616.3,33.9M636.6,44.3L630.4,39.0M617.8,46.7L628.9,45.8M617.8,46.7L619.9,49.2M617.8,46.7L616.3,33.9M617.8,46.7L604.8,53.3M617.8,46.7L608.0,56.7M617.8,46.7L602.6,30.3M617.8,46.7L602.7,102.5M628.9,45.8L619.9,49.2M628.9,45.8L612.5,30.8M628.9,45.8L630.4,39.0M628.9,45.8L577.9,104.0M619.9,49.2L614.8,65.3M619.9,49.2L506.1,98.8M639.9,60.0L639.4,63.8M639.9,60.0L612.5,30.8M639.9,60.0L637.9,69.5M639.9,60.0L612.5,81.5M639.4,63.8L640.6,76.7M639.4,63.8L637.9,69.5M639.9,10.5L602.6,30.3M612.5,30.8L616.3,33.9M612.5,30.8L620.6,32.7M612.5,30.8L630.4,39.0M612.5,30.8L608.0,56.7M612.5,30.8L602.6,30.3M612.5,30.8L582.4,44.4M612.5,30.8L643.7,103.3M616.3,33.9L620.6,32.7M616.3,33.9L602.6,30.3M616.3,33.9L598.1,67.2M616.3,33.9L614.8,65.3M616.3,33.9L625.6,66.2M616.3,33.9L628.3,130.7M620.6,32.7L604.8,53.3M620.6,32.7L602.6,30.3M620.6,32.7L625.6,66.2M604.8,53.3L608.0,56.7M604.8,53.3L588.3,58.7M604.8,53.3L598.1,67.2M608.0,56.7L588.3,58.7M608.0,56.7L614.8,65.3M608.0,56.7L604.2,75.2M608.0,56.7L600.0,85.7M602.6,30.3L582.4,44.4M582.4,44.4L583.2,71.3M588.3,58.7L598.1,67.2M588.3,58.7L609.4,74.7M588.3,58.7L591.0,87.9M588.3,58.7L567.7,80.9M588.3,58.7L563.2,89.5M598.1,67.2L600.3,72.5M598.1,67.2L604.2,75.2M598.1,67.2L614.3,78.8M598.1,67.2L587.5,77.0M598.1,67.2L603.0,95.0M598.1,67.2L601.8,110.8M614.8,65.3L622.9,72.5M614.8,65.3L606.0,87.0M614.8,65.3L625.6,66.2M614.8,65.3L612.4,73.2M614.8,65.3L609.4,74.7M614.8,65.3L592.8,81.9M614.8,65.3L623.8,103.0M600.3,72.5L604.2,75.2M600.3,72.5L622.9,72.5M600.3,72.5L609.4,74.7M600.3,72.5L600.8,80.7M600.3,72.5L580.2,92.9M604.2,75.2L614.3,78.8M604.2,75.2L606.0,87.0M604.2,75.2L625.6,66.2M604.2,75.2L609.4,74.7M604.2,75.2L609.8,78.0M604.2,75.2L600.8,80.7M604.2,75.2L620.3,90.5M622.9,72.5L625.6,66.2M622.9,72.5L637.9,69.5M622.9,72.5L612.4,73.2M622.9,72.5L618.8,77.3M622.9,72.5L609.8,78.0M622.9,72.5L620.3,90.5M640.6,76.7L637.9,69.5M640.6,76.7L609.8,78.0M640.6,76.7L643.7,91.7M614.3,78.8L637.9,69.5M614.3,78.8L612.4,73.2M614.3,78.8L609.4,74.7M614.3,78.8L618.8,77.3M614.3,78.8L609.8,78.0M614.3,78.8L596.3,84.5M614.3,78.8L612.5,81.5M614.3,78.8L564.2,64.8M606.0,87.0L612.4,73.2M606.0,87.0L609.8,78.0M606.0,87.0L600.0,85.7M606.0,87.0L625.6,88.2M606.0,87.0L603.0,95.0M606.0,87.0L600.8,80.7M606.0,87.0L627.1,92.4M606.0,87.0L630.4,91.2M606.0,87.0L606.8,103.7M625.6,66.2L637.9,69.5M625.6,66.2L643.7,91.7M612.4,73.2L609.4,74.7M612.4,73.2L609.8,78.0M612.4,73.2L603.0,95.0M612.4,73.2L563.9,91.8M609.4,74.7L609.8,78.0M609.4,74.7L612.5,81.5M609.4,74.7L583.2,71.3M618.8,77.3L612.5,81.5M618.8,77.3L620.3,90.5M618.8,77.3L643.7,91.7M618.8,77.3L628.9,99.2M609.8,78.0L619.6,98.0M609.8,78.0L600.8,80.7M609.8,78.0L612.5,81.5M587.5,77.0L592.8,81.9M587.5,77.0L583.2,71.3M587.5,77.0L582.1,100.3M587.5,77.0L567.7,80.9M592.8,81.9L596.3,84.5M592.8,81.9L600.0,85.7M592.8,81.9L591.0,87.9M592.8,81.9L589.0,105.5M592.8,81.9L578.7,70.5M592.8,81.9L580.2,92.9M596.3,84.5L600.0,85.7M596.3,84.5L591.0,87.9M596.3,84.5L600.8,80.7M600.0,85.7L600.8,80.7M600.0,85.7L577.9,96.0M591.0,87.9L600.8,80.7M591.0,87.9L596.0,92.3M591.0,87.9L589.8,95.0M591.0,87.9L576.8,91.3M591.0,87.9L563.9,91.8M625.6,88.2L620.3,90.5M625.6,88.2L627.1,92.4M625.6,88.2L630.4,91.2M625.6,88.2L628.9,99.2M603.0,95.0L619.6,98.0M603.0,95.0L600.8,80.7M603.0,95.0L596.0,92.3M603.0,95.0L612.5,81.5M603.0,95.0L602.7,102.5M603.0,95.0L606.8,103.7M619.6,98.0L630.4,91.2M619.6,98.0L621.5,93.9M619.6,98.0L619.6,98.0M619.6,98.0L620.8,99.8M619.6,98.0L604.8,110.3M600.8,80.7L583.2,71.3M600.8,80.7L576.8,91.3M600.8,80.7L585.0,97.6M596.0,92.3L589.8,95.0M596.0,92.3L578.2,82.2M596.0,92.3L576.8,91.3M596.0,92.3L619.6,98.0M596.0,92.3L610.6,105.1M596.0,92.3L585.0,97.6M596.0,92.3L580.2,92.9M612.5,81.5L610.6,105.1M612.5,81.5L606.8,103.7M612.5,81.5L589.9,130.3M620.3,90.5L627.1,92.4M620.3,90.5L621.5,93.9M620.3,90.5L643.7,103.3M620.3,90.5L620.3,120.8M620.3,90.5L623.8,108.5M627.1,92.4L630.4,91.2M627.1,92.4L621.5,93.9M627.1,92.4L628.9,99.2M627.1,92.4L619.6,98.0M630.4,91.2L643.7,91.7M630.4,91.2L628.9,99.2M630.4,91.2L625.6,139.0M630.4,91.2L610.6,105.1M621.5,93.9L643.7,91.7M621.5,93.9L631.2,118.3M621.5,93.9L630.1,107.5M621.5,93.9L601.8,110.8M621.5,93.9L620.3,120.8M621.5,93.9L623.8,118.6M621.5,93.9L619.6,98.0M621.5,93.9L602.7,102.5M643.7,91.7L643.7,103.3M643.7,91.7L630.1,107.5M643.7,91.7L619.6,98.0M583.2,71.3L585.0,97.6M583.2,71.3L564.2,64.8M583.2,71.3L578.7,70.5M589.8,95.0L581.3,117.5M589.8,95.0L567.8,102.5M589.8,95.0L585.0,97.6M589.8,95.0L579.0,121.3M578.2,82.2L563.9,91.8M578.2,82.2L574.9,100.9M494.1,97.0L502.1,96.5M494.1,97.0L506.1,98.8M494.1,97.0L506.6,102.1M494.1,97.0L497.8,103.6M494.1,97.0L619.6,98.0M502.1,96.5L506.1,98.8M502.1,96.5L511.8,98.8M502.1,96.5L506.6,102.1M502.1,96.5L497.8,103.6M506.1,98.8L511.8,98.8M506.1,98.8L506.6,102.1M506.1,98.8L504.2,110.8M506.1,98.8L517.1,104.0M511.8,98.8L506.6,102.1M511.8,98.8L517.1,104.0M511.8,98.8L535.0,109.3M506.6,102.1L497.1,109.0M506.6,102.1L504.2,110.8M506.6,102.1L517.1,104.0M506.6,102.1L582.1,111.5M497.8,103.6L497.1,109.0M497.8,103.6L504.2,110.8M497.1,109.0L504.2,110.8M497.1,109.0L558.5,120.5M504.2,110.8L535.0,109.3M504.2,110.8L582.1,111.5M517.1,104.0L524.9,106.6M517.1,104.0L523.1,109.6M524.9,106.6L523.1,109.6M524.9,106.6L535.0,109.3M523.1,109.6L535.0,109.3M523.1,109.6L548.5,102.5M523.1,109.6L572.3,126.8M523.1,109.6L607.1,141.2M535.0,109.3L562.2,122.8M535.0,109.3L566.8,99.8M535.0,109.3L540.4,97.0M535.0,109.3L594.0,134.5M548.5,102.5L549.5,108.1M548.5,102.5L558.0,103.0M548.5,102.5L540.4,97.0M548.5,102.5L629.4,134.0M548.5,102.5L563.9,91.8M549.5,108.1L558.0,103.0M549.5,108.1L570.5,119.0M549.5,108.1L540.4,97.0M549.5,108.1L563.2,89.5M558.5,120.5L562.2,122.8M558.5,120.5L572.8,110.0M558.5,120.5L564.0,107.5M558.5,120.5L582.1,111.5M558.5,120.5L570.5,119.0M558.5,120.5L589.9,130.3M558.5,120.5L585.0,97.6M558.5,120.5L563.9,91.8M562.2,122.8L572.3,126.8M562.2,122.8L570.5,119.0M572.8,110.0L576.1,110.0M572.8,110.0L567.8,102.5M572.8,110.0L577.9,104.0M581.3,117.5L582.1,111.5M581.3,117.5L579.1,121.3M581.3,117.5L585.6,122.8M581.3,117.5L588.7,119.8M581.3,117.5L589.9,130.3M581.3,117.5L585.0,97.6M581.3,117.5L597.0,114.1M581.3,117.5L580.9,117.5M581.3,117.5L582.3,100.0M581.3,117.5L582.3,111.2M581.3,117.5L579.0,121.3M581.3,117.5L565.0,98.9M558.0,103.0L564.0,107.5M558.0,103.0L566.8,99.8M558.0,103.0L567.8,102.5M558.0,103.0L576.8,91.3M558.0,103.0L580.9,117.5M558.0,103.0L563.9,91.8M558.0,103.0L565.0,98.9M564.0,107.5L566.8,99.8M564.0,107.5L567.8,102.5M564.0,107.5L576.8,91.3M564.0,107.5L588.7,119.8M566.8,99.8L582.1,111.5M566.8,99.8L567.8,102.5M566.8,99.8L585.6,122.8M566.8,99.8L540.4,97.0M566.8,99.8L589.0,105.5M566.8,99.8L563.2,89.5M566.8,99.8L565.0,98.9M566.8,99.8L574.9,100.9M576.1,110.0L582.1,111.5M576.1,110.0L577.9,104.0M576.1,110.0L601.8,110.8M576.1,110.0L582.3,111.2M576.1,110.0L563.2,89.5M576.1,110.0L574.9,100.9M576.1,110.0L577.9,96.0M582.1,100.3L577.9,104.0M582.1,100.3L589.0,105.5M582.1,100.3L588.7,119.8M582.1,100.3L585.0,97.6M582.1,100.3L582.3,100.0M582.1,100.3L604.8,110.3M582.1,100.3L563.2,89.5M582.1,100.3L580.2,92.9M582.1,111.5L579.1,121.3M582.1,111.5L570.5,119.0M582.1,111.5L585.6,122.8M582.1,111.5L589.9,130.3M582.1,111.5L580.9,117.5M582.1,111.5L582.3,111.2M582.1,111.5L565.0,98.9M582.1,111.5L574.9,100.9M572.3,126.8L579.1,121.3M572.3,126.8L570.5,119.0M572.3,126.8L596.3,119.0M572.3,126.8L582.3,100.0M572.3,126.8L582.3,111.2M572.3,126.8L579.0,121.3M572.3,126.8L563.9,91.8M572.3,126.8L577.9,96.0M579.1,121.3L570.5,119.0M579.1,121.3L585.6,122.8M579.1,121.3L540.4,97.0M579.1,121.3L589.9,130.3M579.1,121.3L585.0,97.6M579.1,121.3L597.0,114.1M579.1,121.3L580.9,117.5M579.1,121.3L579.0,121.3M567.8,102.5L565.0,98.9M567.8,102.5L574.9,100.9M570.5,119.0L579.0,121.3M570.5,119.0L563.9,91.8M570.5,119.0L574.9,100.9M585.6,122.8L628.3,130.7M585.6,122.8L588.7,119.8M585.6,122.8L589.9,130.3M585.6,122.8L594.0,134.5M585.6,122.8L611.3,136.7M577.9,104.0L596.3,119.0M577.9,104.0L589.0,105.5M577.9,104.0L589.9,130.3M577.9,104.0L580.9,117.5M577.9,104.0L582.3,100.0M577.9,104.0L574.9,100.9M540.4,97.0L582.3,100.0M540.4,97.0L548.0,73.3M540.4,97.0L563.9,91.8M576.8,91.3L619.6,98.0M576.8,91.3L582.3,100.0M576.8,91.3L563.9,91.8M576.8,91.3L580.2,92.9M576.8,91.3L574.9,100.9M576.8,91.3L577.9,96.0M628.9,99.2L643.7,103.3M628.9,99.2L636.1,106.6M628.9,99.2L619.6,98.0M628.9,99.2L620.8,99.8M628.9,99.2L623.8,103.0M628.9,99.2L604.8,110.3M643.7,103.3L641.4,110.5M643.7,103.3L636.1,106.6M643.7,103.3L619.6,98.0M643.7,103.3L606.8,103.7M641.4,110.5L625.6,139.0M641.4,110.5L636.1,106.6M641.4,110.5L630.1,107.5M641.4,110.5L618.1,126.1M641.4,110.5L610.6,105.1M641.4,110.5L564.2,64.8M631.2,118.3L628.2,122.0M631.2,118.3L630.1,107.5M631.2,118.3L623.8,118.6M631.2,118.3L629.4,134.0M628.2,122.0L636.1,106.6M628.2,122.0L620.3,120.8M628.2,122.0L623.8,118.6M628.2,122.0L610.6,133.3M625.6,139.0L630.1,107.5M625.6,139.0L623.8,118.6M625.6,139.0L623.8,129.5M625.6,139.0L628.3,130.7M625.6,139.0L629.4,134.0M625.6,139.0L623.8,108.5M625.6,139.0L594.0,134.5M625.6,139.0L607.1,141.2M636.1,106.6L630.1,107.5M636.1,106.6L620.3,120.8M636.1,106.6L623.8,103.0M630.1,107.5L623.8,103.0M630.1,107.5L623.8,108.5M630.1,107.5L610.6,133.3M601.8,110.8L596.3,119.0M601.8,110.8L608.8,119.0M601.8,110.8L623.8,118.6M601.8,110.8L628.3,130.7M601.8,110.8L602.7,102.5M601.8,110.8L606.8,103.7M601.8,110.8L588.7,119.8M601.8,110.8L597.0,114.1M601.8,110.8L579.0,121.3M601.8,110.8L604.8,110.3M596.3,119.0L628.3,130.7M596.3,119.0L588.7,119.8M596.3,119.0L594.0,134.5M596.3,119.0L597.5,137.8M596.3,119.0L610.6,133.3M596.3,119.0L597.0,114.1M608.8,119.0L620.3,120.8M608.8,119.0L618.1,126.1M608.8,119.0L628.3,130.7M608.8,119.0L629.4,134.0M608.8,119.0L611.3,136.7M608.8,119.0L604.8,110.3M620.3,120.8L623.8,118.6M620.3,120.8L618.1,126.1M620.3,120.8L623.8,103.0M620.3,120.8L623.8,108.5M620.3,120.8L614.0,134.8M623.8,118.6L618.1,126.1M623.8,118.6L623.8,103.0M618.1,126.1L623.8,129.5M623.8,129.5L628.3,130.7M623.8,129.5L629.4,134.0M623.8,129.5L614.0,134.8M628.3,130.7L629.4,134.0M628.3,130.7L614.0,134.8M629.4,134.0L610.6,105.1M629.4,134.0L607.1,141.2M619.6,98.0L620.8,99.8M620.8,99.8L623.8,103.0M620.8,99.8L623.8,108.5M610.6,105.1L602.7,102.5M610.6,105.1L606.8,103.7M610.6,105.1L614.0,134.8M610.6,105.1L597.0,114.1M610.6,105.1L604.8,110.3M589.0,105.5L582.3,100.0M589.0,105.5L582.3,111.2M589.0,105.5L604.8,110.3M602.7,102.5L606.8,103.7M602.7,102.5L580.9,117.5M602.7,102.5L582.3,100.0M602.7,102.5L604.8,110.3M602.7,102.5L563.2,89.5M606.8,103.7L604.8,110.3M623.8,103.0L623.8,108.5M588.7,119.8L589.9,130.3M588.7,119.8L594.0,134.5M588.7,119.8L597.0,114.1M589.9,130.3L594.0,134.5M589.9,130.3L597.5,137.8M589.9,130.3L580.9,117.5M594.0,134.5L597.5,137.8M594.0,134.5L610.6,133.3M597.5,137.8L607.1,141.2M597.5,137.8L610.6,133.3M607.1,141.2L610.6,133.3M607.1,141.2L614.0,134.8M607.1,141.2L611.3,136.7M610.6,133.3L614.0,134.8M610.6,133.3L611.3,136.7M614.0,134.8L611.3,136.7M585.0,97.6L582.3,100.0M585.0,97.6L604.8,110.3M585.0,97.6L580.2,92.9M585.0,97.6L574.9,100.9M597.0,114.1L604.8,110.3M580.9,117.5L579.0,121.3M582.3,100.0L580.2,92.9M582.3,100.0L577.9,96.0M582.3,111.2L579.0,121.3M582.3,111.2L604.8,110.3M579.0,121.3L604.8,110.3M579.0,121.3L577.9,96.0M548.0,73.3L567.7,80.9M548.0,73.3L563.2,89.5M558.9,68.3L564.2,64.8M558.9,68.3L578.7,70.5M578.7,70.5L563.9,91.8M563.2,89.5L563.9,91.8M563.9,91.8L565.0,98.9M563.9,91.8L574.9,100.9M580.2,92.9L565.0,98.9M580.2,92.9L577.9,96.0M574.9,100.9L577.9,96.0" stroke="#808080" stroke-width="0.5" fill="none"/>
<circle cx="553.2" cy="11.3" r="1.75" fill="#1f77b4" fill-opacity="0.93"/>
<circle cx="559.5" cy="11.3" r="1.75" fill="#1f77b4" fill-opacity="0.93"/>
<circle cx="563.0" cy="18.8" r="1.75" fill="#1f77b4" fill-opacity="0.93"/>
<circle cx="546.3" cy="23.0" r="1.75" fill="#1f77b4" fill-opacity="0.93"/>
<circle cx="554.4" cy="27.0" r="1.75" fill="#1f77b4" fill-opacity="0.93"/>
<circle cx="558.5" cy="29.6" r="1.75" fill="#1f77b4" fill-opacity="0.93"/>
<circle cx="563.0" cy="34.1" r="1.75" fill="#1f77b4" fill-opacity="0.93"/>
<circle cx="568.9" cy="41.3" r="1.75" fill="#1f77b4" fill-opacity="0.93"/>
<circle cx="577.9" cy="46.7" r="1.75" fill="#1f77b4" fill-opacity="0.93"/>
<circle cx="549.8" cy="49.7" r="1.75" fill="#1f77b4" fill-opacity="0.93"/>
<circle cx="553.5" cy="35.7" r="1.75" fill="#1f77b4" fill-opacity="0.93"/>
<circle cx="542.5" cy="44.7" r="1.75" fill="#1f77b4" fill-opacity="0.93"/>
<circle cx="539.5" cy="48.2" r="1.75" fill="#1f77b4" fill-opacity="0.93"/>
<circle cx="550.8" cy="47.0" r="1.75" fill="#1f77b4" fill-opacity="0.93"/>
<circle cx="539.7" cy="51.5" r="1.75" fill="#1f77b4" fill-opacity="0.93"/>
<circle cx="545.2" cy="51.6" r="1.75" fill="#1f77b4" fill-opacity="0.93"/>
<circle cx="538.9" cy="56.1" r="1.75" fill="#1f77b4" fill-opacity="0.93"/>
<circle cx="563.6" cy="61.5" r="1.75" fill="#1f77b4" fill-opacity="0.93"/>
<circle cx="573.1" cy="60.0" r="1.75" fill="#1f77b4" fill-opacity="0.93"/>
<circle cx="571.6" cy="64.5" r="1.75" fill="#1f77b4" fill-opacity="0.93"/>
<circle cx="559.1" cy="93.5" r="1.75" fill="#bcbd22" fill-opacity="0.93"/>
<circle cx="575.0" cy="86.7" r="1.75" fill="#bcbd22" fill-opacity="0.93"/>
<circle cx="567.1" cy="37.2" r="1.75" fill="#1f77b4" fill-opacity="0.93"/>
<circle cx="572.8" cy="42.9" r="1.75" fill="#1f77b4" fill-opacity="0.93"/>
<circle cx="558.5" cy="47.7" r="1.75" fill="#1f77b4" fill-opacity="0.93"/>
<circle cx="562.5" cy="47.3" r="1.75" fill="#1f77b4" fill-opacity="0.93"/>
<circle cx="565.2" cy="49.2" r="1.75" fill="#1f77b4" fill-opacity="0.93"/>
<circle cx="546.7" cy="48.9" r="1.75" fill="#1f77b4" fill-opacity="0.93"/>
<circle cx="561.8" cy="51.8" r="1.75" fill="#1f77b4" fill-opacity="0.93"/>
<circle cx="557.0" cy="55.5" r="1.75" fill="#1f77b4" fill-opacity="0.93"/>
<circle cx="577.1" cy="52.5" r="1.75" fill="#1f77b4" fill-opacity="0.93"/>
<circle cx="583.3" cy="68.0" r="1.75" fill="#bcbd22" fill-opacity="0.93"/>
<circle cx="518.2" cy="45.9" r="1.75" fill="#d62728" fill-opacity="0.93"/>
<circle cx="512.4" cy="53.7" r="1.75" fill="#d62728" fill-opacity="0.93"/>
<circle cx="520.9" cy="59.0" r="1.75" fill="#d62728" fill-opacity="0.93"/>
<circle cx="513.6" cy="62.3" r="1.75" fill="#d62728" fill-opacity="0.93"/>
<circle cx="522.7" cy="63.8" r="1.75" fill="#d62728" fill-opacity="0.93"/>
<circle cx="504.9" cy="72.3" r="1.75" fill="#d62728" fill-opacity="0.93"/>
<circle cx="544.0" cy="59.1" r="1.75" fill="#1f77b4" fill-opacity="0.93"/>
<circle cx="540.4" cy="69.5" r="1.75" fill="#d62728" fill-opacity="0.93"/>
<circle cx="530.6" cy="75.5" r="1.75" fill="#d62728" fill-opacity="0.93"/>
<circle cx="533.7" cy="80.4" r="1.75" fill="#d62728" fill-opacity="0.93"/>
<circle cx="538.2" cy="88.2" r="1.75" fill="#d62728" fill-opacity="0.93"/>
<circle cx="532.0" cy="63.5" r="1.75" fill="#1f77b4" fill-opacity="0.93"/>
<circle cx="541.5" cy="65.7" r="1.75" fill="#1f77b4" fill-opacity="0.93"/>
<circle cx="554.7" cy="64.5" r="1.75" fill="#d62728" fill-opacity="0.93"/>
<circle cx="537.0" cy="73.2" r="1.75" fill="#d62728" fill-opacity="0.93"/>
<circle cx="544.2" cy="77.0" r="1.75" fill="#1f77b4" fill-opacity="0.93"/>
<circle cx="555.8" cy="78.0" r="1.75" fill="#9edae5" fill-opacity="0.93"/>
<circle cx="549.5" cy="65.7" r="1.75" fill="#9edae5" fill-opacity="0.93"/>
<circle cx="573.1" cy="69.2" r="1.75" fill="#9edae5" fill-opacity="0.93"/>
<circle cx="568.9" cy="74.3" r="1.75" fill="#9edae5" fill-opacity="0.93"/>
<circle cx="583.3" cy="71.3" r="1.75" fill="#bcbd22" fill-opacity="0.93"/>
<circle cx="556.5" cy="81.2" r="1.75" fill="#9edae5" fill-opacity="0.93"/>
<circle cx="567.8" cy="92.0" r="1.75" fill="#9edae5" fill-opacity="0.93"/>
<circle cx="552.0" cy="66.2" r="1.75" fill="#d62728" fill-opacity="0.93"/>
<circle cx="578.3" cy="82.2" r="1.75" fill="#9edae5" fill-opacity="0.93"/>
<circle cx="582.5" cy="44.7" r="1.75" fill="#9edae5" fill-opacity="0.93"/>
<circle cx="571.6" cy="85.2" r="1.75" fill="#bcbd22" fill-opacity="0.93"/>
<circle cx="507.8" cy="81.8" r="1.75" fill="#d62728" fill-opacity="0.93"/>
<circle cx="504.3" cy="86.0" r="1.75" fill="#d62728" fill-opacity="0.93"/>
<circle cx="500.1" cy="89.0" r="1.75" fill="#d62728" fill-opacity="0.93"/>
<circle cx="497.4" cy="92.7" r="1.75" fill="#d62728" fill-opacity="0.93"/>
<circle cx="512.1" cy="89.7" r="1.75" fill="#d62728" fill-opacity="0.93"/>
<circle cx="516.7" cy="89.4" r="1.75" fill="#d62728" fill-opacity="0.93"/>
<circle cx="515.6" cy="92.4" r="1.75" fill="#d62728" fill-opacity="0.93"/>
<circle cx="532.4" cy="89.4" r="1.75" fill="#1f77b4" fill-opacity="0.93"/>
<circle cx="545.2" cy="84.9" r="1.75" fill="#1f77b4" fill-opacity="0.93"/>
<circle cx="668.5" cy="21.0" r="1.75" fill="#8c564b" fill-opacity="0.93"/>
<circle cx="662.8" cy="26.4" r="1.75" fill="#8c564b" fill-opacity="0.93"/>
<circle cx="638.7" cy="29.0" r="1.75" fill="#8c564b" fill-opacity="0.93"/>
<circle cx="645.5" cy="32.7" r="1.75" fill="#8c564b" fill-opacity="0.93"/>
<circle cx="657.2" cy="32.0" r="1.75" fill="#8c564b" fill-opacity="0.93"/>
<circle cx="660.2" cy="34.2" r="1.75" fill="#8c564b" fill-opacity="0.93"/>
<circle cx="648.6" cy="35.3" r="1.75" fill="#8c564b" fill-opacity="0.93"/>
<circle cx="640.6" cy="37.5" r="1.75" fill="#8c564b" fill-opacity="0.93"/>
<circle cx="648.9" cy="37.7" r="1.75" fill="#8c564b" fill-opacity="0.93"/>
<circle cx="644.7" cy="41.0" r="1.75" fill="#8c564b" fill-opacity="0.93"/>
<circle cx="649.2" cy="40.7" r="1.75" fill="#8c564b" fill-opacity="0.93"/>
<circle cx="651.5" cy="42.9" r="1.75" fill="#8c564b" fill-opacity="0.93"/>
<circle cx="654.9" cy="48.5" r="1.75" fill="#8c564b" fill-opacity="0.93"/>
<circle cx="648.2" cy="60.3" r="1.75" fill="#8c564b" fill-opacity="0.93"/>
<circle cx="638.7" cy="33.5" r="1.75" fill="#8c564b" fill-opacity="0.93"/>
<circle cx="617.6" cy="42.2" r="1.75" fill="#8c564b" fill-opacity="0.93"/>
<circle cx="636.6" cy="44.3" r="1.75" fill="#8c564b" fill-opacity="0.93"/>
<circle cx="617.8" cy="46.7" r="1.75" fill="#8c564b" fill-opacity="0.93"/>
<circle cx="628.9" cy="45.8" r="1.75" fill="#8c564b" fill-opacity="0.93"/>
<circle cx="619.9" cy="49.2" r="1.75" fill="#8c564b" fill-opacity="0.93"/>
<circle cx="639.9" cy="60.0" r="1.75" fill="#8c564b" fill-opacity="0.93"/>
<circle cx="639.4" cy="63.8" r="1.75" fill="#8c564b" fill-opacity="0.93"/>
<circle cx="639.9" cy="10.5" r="1.75" fill="#8c564b" fill-opacity="0.93"/>
<circle cx="612.5" cy="30.8" r="1.75" fill="#8c564b" fill-opacity="0.93"/>
<circle cx="616.3" cy="33.9" r="1.75" fill="#8c564b" fill-opacity="0.93"/>
<circle cx="620.6" cy="32.7" r="1.75" fill="#8c564b" fill-opacity="0.93"/>
<circle cx="630.4" cy="39.0" r="1.75" fill="#8c564b" fill-opacity="0.93"/>
<circle cx="604.8" cy="53.3" r="1.75" fill="#8c564b" fill-opacity="0.93"/>
<circle cx="608.0" cy="56.7" r="1.75" fill="#8c564b" fill-opacity="0.93"/>
<circle cx="602.6" cy="30.3" r="1.75" fill="#8c564b" fill-opacity="0.93"/>
<circle cx="582.4" cy="44.4" r="1.75" fill="#9edae5" fill-opacity="0.93"/>
<circle cx="588.3" cy="58.7" r="1.75" fill="#ffbb78" fill-opacity="0.93"/>
<circle cx="598.1" cy="67.2" r="1.75" fill="#ffbb78" fill-opacity="0.93"/>
<circle cx="614.8" cy="65.3" r="1.75" fill="#ffbb78" fill-opacity="0.93"/>
<circle cx="600.3" cy="72.5" r="1.75" fill="#ffbb78" fill-opacity="0.93"/>
<circle cx="604.2" cy="75.2" r="1.75" fill="#ffbb78" fill-opacity="0.93"/>
<circle cx="622.9" cy="72.5" r="1.75" fill="#ffbb78" fill-opacity="0.93"/>
<circle cx="640.6" cy="76.7" r="1.75" fill="#ffbb78" fill-opacity="0.93"/>
<circle cx="614.3" cy="78.8" r="1.75" fill="#ffbb78" fill-opacity="0.93"/>
<circle cx="606.0" cy="87.0" r="1.75" fill="#ffbb78" fill-opacity="0.93"/>
<circle cx="625.6" cy="66.2" r="1.75" fill="#8c564b" fill-opacity="0.93"/>
<circle cx="637.9" cy="69.5" r="1.75" fill="#8c564b" fill-opacity="0.93"/>
<circle cx="612.4" cy="73.2" r="1.75" fill="#ffbb78" fill-opacity="0.93"/>
<circle cx="609.4" cy="74.7" r="1.75" fill="#ffbb78" fill-opacity="0.93"/>
<circle cx="618.8" cy="77.3" r="1.75" fill="#ffbb78" fill-opacity="0.93"/>
<circle cx="609.8" cy="78.0" r="1.75" fill="#ffbb78" fill-opacity="0.93"/>
<circle cx="587.5" cy="77.0" r="1.75" fill="#ffbb78" fill-opacity="0.93"/>
<circle cx="592.8" cy="81.9" r="1.75" fill="#ffbb78" fill-opacity="0.93"/>
<circle cx="596.3" cy="84.5" r="1.75" fill="#ffbb78" fill-opacity="0.93"/>
<circle cx="600.0" cy="85.7" r="1.75" fill="#ffbb78" fill-opacity="0.93"/>
<circle cx="591.0" cy="87.9" r="1.75" fill="#ffbb78" fill-opacity="0.93"/>
<circle cx="625.6" cy="88.2" r="1.75" fill="#ffbb78" fill-opacity="0.93"/>
<circle cx="603.0" cy="95.0" r="1.75" fill="#ffbb78" fill-opacity="0.93"/>
<circle cx="619.6" cy="98.0" r="1.75" fill="#ffbb78" fill-opacity="0.93"/>
<circle cx="600.8" cy="80.7" r="1.75" fill="#f7b6d2" fill-opacity="0.93"/>
<circle cx="596.0" cy="92.3" r="1.75" fill="#ffbb78" fill-opacity="0.93"/>
<circle cx="612.5" cy="81.5" r="1.75" fill="#ffbb78" fill-opacity="0.93"/>
<circle cx="620.3" cy="90.5" r="1.75" fill="#ffbb78" fill-opacity="0.93"/>
<circle cx="627.1" cy="92.4" r="1.75" fill="#ffbb78" fill-opacity="0.93"/>
<circle cx="630.4" cy="91.2" r="1.75" fill="#ffbb78" fill-opacity="0.93"/>
<circle cx="621.5" cy="93.9" r="1.75" fill="#ffbb78" fill-opacity="0.93"/>
<circle cx="643.7" cy="91.7" r="1.75" fill="#f7b6d2" fill-opacity="0.93"/>
<circle cx="583.2" cy="71.3" r="1.75" fill="#bcbd22" fill-opacity="0.93"/>
<circle cx="589.8" cy="95.0" r="1.75" fill="#9edae5" fill-opacity="0.93"/>
<circle cx="578.2" cy="82.2" r="1.75" fill="#9edae5" fill-opacity="0.93"/>
<circle cx="494.1" cy="97.0" r="1.75" fill="#d62728" fill-opacity="0.93"/>
<circle cx="502.1" cy="96.5" r="1.75" fill="#d62728" fill-opacity="0.93"/>
<circle cx="506.1" cy="98.8" r="1.75" fill="#d62728" fill-opacity="0.93"/>
<circle cx="511.8" cy="98.8" r="1.75" fill="#d62728" fill-opacity="0.93"/>
<circle cx="506.6" cy="102.1" r="1.75" fill="#d62728" fill-opacity="0.93"/>
<circle cx="497.8" cy="103.6" r="1.75" fill="#d62728" fill-opacity="0.93"/>
<circle cx="497.1" cy="109.0" r="1.75" fill="#d62728" fill-opacity="0.93"/>
<circle cx="504.2" cy="110.8" r="1.75" fill="#d62728" fill-opacity="0.93"/>
<circle cx="517.1" cy="104.0" r="1.75" fill="#d62728" fill-opacity="0.93"/>
<circle cx="524.9" cy="106.6" r="1.75" fill="#d62728" fill-opacity="0.93"/>
<circle cx="523.1" cy="109.6" r="1.75" fill="#d62728" fill-opacity="0.93"/>
<circle cx="535.0" cy="109.3" r="1.75" fill="#d62728" fill-opacity="0.93"/>
<circle cx="548.5" cy="102.5" r="1.75" fill="#d62728" fill-opacity="0.93"/>
<circle cx="549.5" cy="108.1" r="1.75" fill="#d62728" fill-opacity="0.93"/>
<circle cx="558.5" cy="120.5" r="1.75" fill="#bcbd22" fill-opacity="0.93"/>
<circle cx="562.2" cy="122.8" r="1.75" fill="#bcbd22" fill-opacity="0.93"/>
<circle cx="572.8" cy="110.0" r="1.75" fill="#bcbd22" fill-opacity="0.93"/>
<circle cx="581.3" cy="117.5" r="1.75" fill="#bcbd22" fill-opacity="0.93"/>
<circle cx="558.0" cy="103.0" r="1.75" fill="#bcbd22" fill-opacity="0.93"/>
<circle cx="564.0" cy="107.5" r="1.75" fill="#bcbd22" fill-opacity="0.93"/>
<circle cx="566.8" cy="99.8" r="1.75" fill="#9edae5" fill-opacity="0.93"/>
<circle cx="576.1" cy="110.0" r="1.75" fill="#bcbd22" fill-opacity="0.93"/>
<circle cx="582.1" cy="100.3" r="1.75" fill="#9edae5" fill-opacity="0.93"/>
<circle cx="582.1" cy="111.5" r="1.75" fill="#bcbd22" fill-opacity="0.93"/>
<circle cx="572.3" cy="126.8" r="1.75" fill="#bcbd22" fill-opacity="0.93"/>
<circle cx="579.1" cy="121.3" r="1.75" fill="#9edae5" fill-opacity="0.93"/>
<circle cx="567.8" cy="102.5" r="1.75" fill="#9edae5" fill-opacity="0.93"/>
<circle cx="570.5" cy="119.0" r="1.75" fill="#9edae5" fill-opacity="0.93"/>
<circle cx="585.6" cy="122.8" r="1.75" fill="#bcbd22" fill-opacity="0.93"/>
<circle cx="577.9" cy="104.0" r="1.75" fill="#9edae5" fill-opacity="0.93"/>
<circle cx="540.4" cy="97.0" r="1.75" fill="#1f77b4" fill-opacity="0.93"/>
<circle cx="576.8" cy="91.3" r="1.75" fill="#9edae5" fill-opacity="0.93"/>
<circle cx="628.9" cy="99.2" r="1.75" fill="#ffbb78" fill-opacity="0.93"/>
<circle cx="643.7" cy="103.3" r="1.75" fill="#ffbb78" fill-opacity="0.93"/>
<circle cx="641.4" cy="110.5" r="1.75" fill="#ffbb78" fill-opacity="0.93"/>
<circle cx="631.2" cy="118.3" r="1.75" fill="#ffbb78" fill-opacity="0.93"/>
<circle cx="628.2" cy="122.0" r="1.75" fill="#f7b6d2" fill-opacity="0.93"/>
<circle cx="625.6" cy="139.0" r="1.75" fill="#bcbd22" fill-opacity="0.93"/>
<circle cx="636.1" cy="106.6" r="1.75" fill="#f7b6d2" fill-opacity="0.93"/>
<circle cx="630.1" cy="107.5" r="1.75" fill="#f7b6d2" fill-opacity="0.93"/>
<circle cx="601.8" cy="110.8" r="1.75" fill="#f7b6d2" fill-opacity="0.93"/>
<circle cx="596.3" cy="119.0" r="1.75" fill="#f7b6d2" fill-opacity="0.93"/>
<circle cx="608.8" cy="119.0" r="1.75" fill="#f7b6d2" fill-opacity="0.93"/>
<circle cx="620.3" cy="120.8" r="1.75" fill="#f7b6d2" fill-opacity="0.93"/>
<circle cx="623.8" cy="118.6" r="1.75" fill="#f7b6d2" fill-opacity="0.93"/>
<circle cx="618.1" cy="126.1" r="1.75" fill="#f7b6d2" fill-opacity="0.93"/>
<circle cx="623.8" cy="129.5" r="1.75" fill="#f7b6d2" fill-opacity="0.93"/>
<circle cx="628.3" cy="130.7" r="1.75" fill="#f7b6d2" fill-opacity="0.93"/>
<circle cx="629.4" cy="134.0" r="1.75" fill="#f7b6d2" fill-opacity="0.93"/>
<circle cx="619.6" cy="98.0" r="1.75" fill="#ffbb78" fill-opacity="0.93"/>
<circle cx="620.8" cy="99.8" r="1.75" fill="#ffbb78" fill-opacity="0.93"/>
<circle cx="610.6" cy="105.1" r="1.75" fill="#ffbb78" fill-opacity="0.93"/>
<circle cx="589.0" cy="105.5" r="1.75" fill="#ffbb78" fill-opacity="0.93"/>
<circle cx="602.7" cy="102.5" r="1.75" fill="#f7b6d2" fill-opacity="0.93"/>
<circle cx="606.8" cy="103.7" r="1.75" fill="#f7b6d2" fill-opacity="0.93"/>
<circle cx="623.8" cy="103.0" r="1.75" fill="#f7b6d2" fill-opacity="0.93"/>
<circle cx="623.8" cy="108.5" r="1.75" fill="#f7b6d2" fill-opacity="0.93"/>
<circle cx="588.7" cy="119.8" r="1.75" fill="#f7b6d2" fill-opacity="0.93"/>
<circle cx="589.9" cy="130.3" r="1.75" fill="#f7b6d2" fill-opacity="0.93"/>
<circle cx="594.0" cy="134.5" r="1.75" fill="#f7b6d2" fill-opacity="0.93"/>
<circle cx="597.5" cy="137.8" r="1.75" fill="#f7b6d2" fill-opacity="0.93"/>
<circle cx="607.1" cy="141.2" r="1.75" fill="#f7b6d2" fill-opacity="0.93"/>
<circle cx="610.6" cy="133.3" r="1.75" fill="#f7b6d2" fill-opacity="0.93"/>
<circle cx="614.0" cy="134.8" r="1.75" fill="#f7b6d2" fill-opacity="0.93"/>
<circle cx="611.3" cy="136.7" r="1.75" fill="#f7b6d2" fill-opacity="0.93"/>
<circle cx="585.0" cy="97.6" r="1.75" fill="#bcbd22" fill-opacity="0.93"/>
<circle cx="597.0" cy="114.1" r="1.75" fill="#bcbd22" fill-opacity="0.93"/>
<circle cx="580.9" cy="117.5" r="1.75" fill="#bcbd22" fill-opacity="0.93"/>
<circle cx="582.3" cy="100.0" r="1.75" fill="#9edae5" fill-opacity="0.93"/>
<circle cx="582.3" cy="111.2" r="1.75" fill="#bcbd22" fill-opacity="0.93"/>
<circle cx="579.0" cy="121.3" r="1.75" fill="#9edae5" fill-opacity="0.93"/>
<circle cx="604.8" cy="110.3" r="1.75" fill="#f7b6d2" fill-opacity="0.93"/>
<circle cx="548.0" cy="73.3" r="1.75" fill="#1f77b4" fill-opacity="0.93"/>
<circle cx="541.5" cy="82.4" r="1.75" fill="#1f77b4" fill-opacity="0.93"/>
<circle cx="558.9" cy="68.3" r="1.75" fill="#1f77b4" fill-opacity="0.93"/>
<circle cx="575.6" cy="64.2" r="1.75" fill="#1f77b4" fill-opacity="0.93"/>
<circle cx="564.2" cy="64.8" r="1.75" fill="#9edae5" fill-opacity="0.93"/>
<circle cx="578.7" cy="70.5" r="1.75" fill="#9edae5" fill-opacity="0.93"/>
<circle cx="567.7" cy="80.9" r="1.75" fill="#9edae5" fill-opacity="0.93"/>
<circle cx="563.2" cy="89.5" r="1.75" fill="#9edae5" fill-opacity="0.93"/>
<circle cx="563.9" cy="91.8" r="1.75" fill="#9edae5" fill-opacity="0.93"/>
<circle cx="580.2" cy="92.9" r="1.75" fill="#bcbd22" fill-opacity="0.93"/>
<circle cx="565.0" cy="98.9" r="1.75" fill="#1f77b4" fill-opacity="0.93"/>
<circle cx="574.9" cy="100.9" r="1.75" fill="#9edae5" fill-opacity="0.93"/>
<circle cx="577.9" cy="96.0" r="1.75" fill="#bcbd22" fill-opacity="0.93"/>
</g>
<rect x="0.85" y="0.7" width="206.15" height="156.1" fill="none" stroke="#203864" stroke-width="1.9"/>
<text x="13.6" y="147.6" font-size="14.8" fill="#000" textLength="41.7" lengthAdjust="spacingAndGlyphs">N = 25</text>
<rect x="239.4" y="0.7" width="206.4" height="156.1" fill="none" stroke="#203864" stroke-width="1.9"/>
<text x="250.3" y="147.6" font-size="14.8" fill="#000" textLength="41.7" lengthAdjust="spacingAndGlyphs">N = 15</text>
<rect x="478.2" y="0.7" width="206.00000000000006" height="156.1" fill="none" stroke="#203864" stroke-width="1.9"/>
<text x="489.1" y="147.6" font-size="14.8" fill="#000" textLength="33.9" lengthAdjust="spacingAndGlyphs">N = 7</text>
</svg>
</body></html>
